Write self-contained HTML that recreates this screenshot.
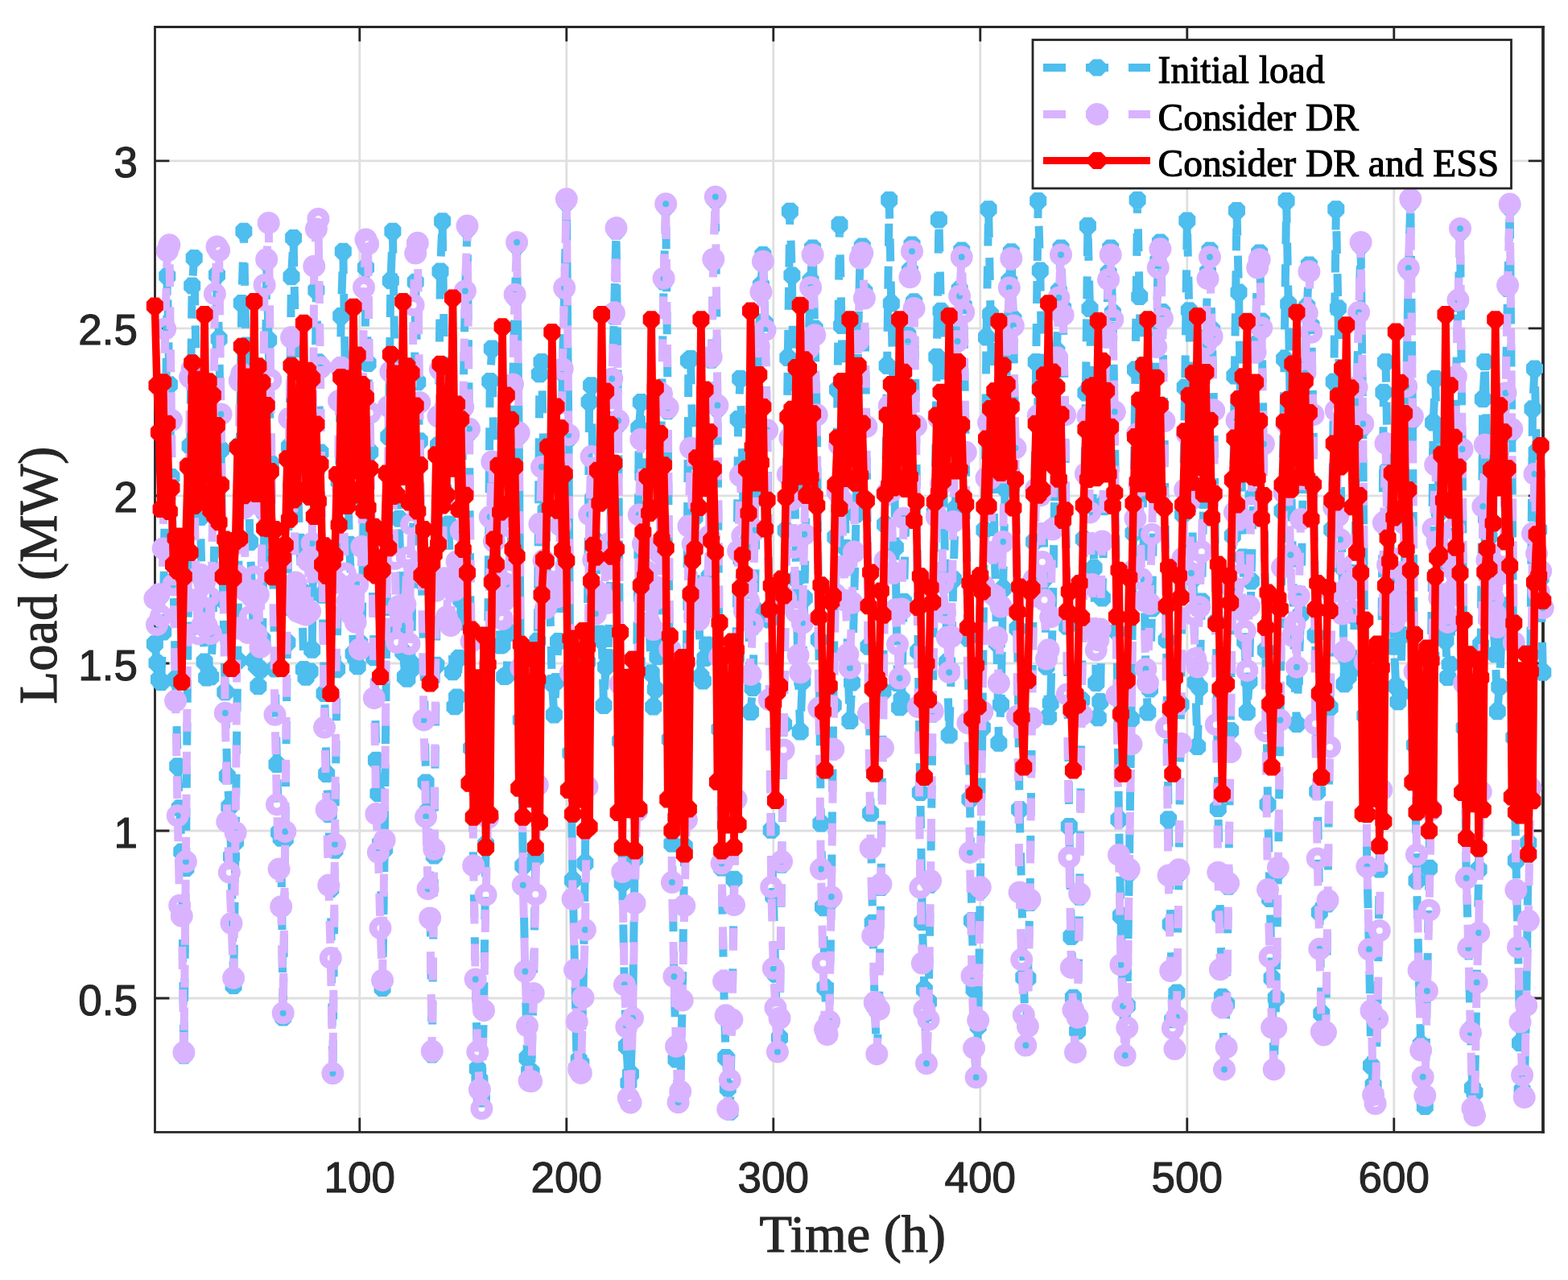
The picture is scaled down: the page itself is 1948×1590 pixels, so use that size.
<!DOCTYPE html>
<html><head><meta charset="utf-8"><title>Load profile</title>
<style>html,body{margin:0;padding:0;background:#fff;overflow:hidden}svg{display:block}</style>
</head><body>
<svg width="1948" height="1590" viewBox="0 0 1948 1590">
<rect x="0" y="0" width="1948" height="1590" fill="#fff"/>
<path d="M446.8 33.5V1406.4M703.8 33.5V1406.4M960.8 33.5V1406.4M1217.8 33.5V1406.4M1474.8 33.5V1406.4M1731.8 33.5V1406.4M192.4 1240H1916.8M192.4 1032H1916.8M192.4 824H1916.8M192.4 615.9H1916.8M192.4 407.9H1916.8M192.4 199.9H1916.8" stroke="#DFDFDF" stroke-width="2.8" fill="none"/>
<path d="M446.8 1406.4v-18M446.8 33.5v18M703.8 1406.4v-18M703.8 33.5v18M960.8 1406.4v-18M960.8 33.5v18M1217.8 1406.4v-18M1217.8 33.5v18M1474.8 1406.4v-18M1474.8 33.5v18M1731.8 1406.4v-18M1731.8 33.5v18M192.4 1240h18M1916.8 1240h-18M192.4 1032h18M1916.8 1032h-18M192.4 824h18M1916.8 824h-18M192.4 615.9h18M1916.8 615.9h-18M192.4 407.9h18M1916.8 407.9h-18M192.4 199.9h18M1916.8 199.9h-18" stroke="#262626" stroke-width="2.8" fill="none"/>
<path d="M191.1 33.5H1918.9M191.1 1406.4H1918.9M192.5 32.1V1407.8" stroke="#262626" stroke-width="2.8" fill="none"/>
<path d="M1917 32.1V1407.8" stroke="#262626" stroke-width="3.8" fill="none"/>
<polyline points="192.4,799.7 195,823.5 197.5,844.1 200.1,847.6 202.7,785.1 205.2,587.9 207.8,343 210.4,477.8 213,592.4 215.5,722.1 218.1,843.6 220.7,951.8 223.2,1003.7 225.8,1058.1 228.4,1311.3 230.9,1078.6 233.5,783 236.1,554.1 238.7,354.9 241.2,320.6 243.8,462.8 246.4,598.4 248.9,642.5 251.5,764 254.1,821.9 256.6,842 259.2,836.4 261.8,840.7 264.4,785.5 266.9,632.8 269.5,341.4 272.1,421 274.6,558.5 277.2,744.8 279.8,859.7 282.3,964 284.9,1002.2 287.5,1064.1 290.1,1224.6 292.6,1045.4 295.2,820.8 297.8,553.3 300.3,376.6 302.9,287.3 305.5,429 308,578.3 310.6,673.4 313.2,734.1 315.8,820.4 318.3,827.1 320.9,852.4 323.5,832 326,794 328.6,636.9 331.2,325.8 333.7,422.6 336.3,575.4 338.9,690.9 341.5,831 344,949.4 346.6,1034.1 349.2,1041.2 351.7,1264 354.3,1042 356.9,798.3 359.4,555 362,343.7 364.6,295.6 367.2,433.8 369.7,590.5 372.3,673.3 374.9,734.1 377.4,831.6 380,841.3 382.6,835.4 385.1,834 387.7,807.2 390.3,593.8 392.9,360.4 395.4,449.7 398,562 400.6,739.2 403.1,861.4 405.7,961.6 408.3,1011.4 410.8,1104.2 413.4,1335.8 416,1056.2 418.6,831.2 421.1,598.3 423.7,392.5 426.3,312.2 428.8,455.7 431.4,559.8 434,676.3 436.5,728.3 439.1,812.1 441.7,817.3 444.2,827.8 446.8,798.8 449.4,805.9 452,623.1 454.5,332.4 457.1,451.6 459.7,561.4 462.2,707.3 464.8,816.8 467.4,944.3 469.9,985.8 472.5,1047.4 475.1,1227.5 477.7,1054.8 480.2,785.7 482.8,542.6 485.4,348.8 487.9,287.3 490.5,448.3 493.1,575.6 495.6,644.2 498.2,720.7 500.8,810.1 503.4,841 505.9,843.3 508.5,821.9 511.1,830.7 513.6,621.7 516.2,350.2 518.8,474.8 521.3,547.7 523.9,721.5 526.5,826.4 529.1,971.9 531.6,1007.2 534.2,1097.2 536.8,1310 539.3,1063.1 541.9,826.2 544.5,553.1 547,337 549.6,274.8 552.2,459.2 554.8,545.7 557.3,651 559.9,726.7 562.5,834.7 565,877.8 567.6,866.1 570.2,817.2 572.7,745.3 575.3,509.6 577.9,365.6 580.5,284.8 583,537 585.6,929.6 588.2,1073.4 590.7,1216.5 593.3,1327.5 595.9,1341.3 598.4,1365 601,1255.4 603.6,1048.7 606.2,799.7 608.7,473.6 611.3,432.9 613.9,592.3 616.4,669.9 619,726.8 621.6,801.9 624.1,801.1 626.7,840.4 629.3,839 631.9,785.4 634.4,726.5 637,481.7 639.6,369.9 642.1,305.2 644.7,541.7 647.3,894.2 649.8,1075.4 652.4,1206.8 655,1314.3 657.6,1330.6 660.1,1331.4 662.7,1234.3 665.3,1065.3 667.8,796 670.4,464.7 673,449.5 675.5,581.6 678.1,633.9 680.7,740.3 683.3,753.5 685.8,848.6 688.4,887.9 691,846.4 693.5,796.7 696.1,745.4 698.7,462.4 701.2,361.6 703.8,251.5 706.4,544.4 708.9,935.5 711.5,1093.6 714.1,1204.8 716.7,1326.7 719.2,1316.2 721.8,1320.8 724.4,1239.4 726.9,1072.2 729.5,822.2 732.1,499.2 734.6,478.7 737.2,618.6 739.8,671.8 742.4,743.3 744.9,787 747.5,795 750.1,876.6 752.6,828.2 755.2,816.5 757.8,735.4 760.3,474.6 762.9,393 765.5,287.3 768.1,526.7 770.6,920.5 773.2,1096.7 775.8,1223.3 778.3,1299.4 780.9,1345.2 783.5,1333.9 786,1264.8 788.6,1066.4 791.2,822.1 793.8,531.8 796.3,499.5 798.9,591.2 801.5,683.9 804,718.9 806.6,778.6 809.2,835.7 811.7,878.1 814.3,856.2 816.9,815.8 819.5,727.6 822,493.8 824.6,349.9 827.2,257.3 829.7,510.4 832.3,918.5 834.9,1048.3 837.4,1213 840,1316 842.6,1367.4 845.2,1357 847.7,1241.9 850.3,1051.4 852.9,823.6 855.4,447.7 858,445.4 860.6,555 863.1,642.2 865.7,764.9 868.3,768 870.9,840.2 873.4,846 876,817.5 878.6,801 881.1,716.6 883.7,447.3 886.3,326.2 888.8,248.6 891.4,507.7 894,905.8 896.6,1078.1 899.1,1219 901.7,1313.4 904.3,1352.1 906.8,1381.3 909.4,1266.2 912,1092.2 914.5,816.5 917.1,520.4 919.7,470.3 922.3,581.8 924.8,678.1 927.4,725.8 930,763.9 932.5,884.6 935.1,854.5 937.7,757 940.2,598.4 942.8,422 945.4,354.3 947.9,316.4 950.5,401.8 953.1,534.3 955.7,769.9 958.2,1031.2 960.8,1113.5 963.4,1210.3 965.9,1306.8 968.5,1288.9 971.1,1074.2 973.6,899.8 976.2,658.7 978.8,444.5 981.4,262.3 983.9,342.1 986.5,549.7 989.1,719.1 991.6,835 994.2,909.1 996.8,846.3 999.3,743 1001.9,607 1004.5,424.4 1007.1,348.6 1009.6,308.1 1012.2,408 1014.8,515.3 1017.3,794.6 1019.9,1022.9 1022.5,1126.5 1025,1226.7 1027.6,1285.2 1030.2,1270.8 1032.8,1118.1 1035.3,876 1037.9,667.2 1040.5,484.1 1043,279 1045.6,404.5 1048.2,540.1 1050.7,680.4 1053.3,829.1 1055.9,895.5 1058.5,847.9 1061,750.6 1063.6,638.9 1066.2,415.1 1068.7,312.4 1071.3,306 1073.9,362.2 1076.4,529.9 1079,803.2 1081.6,1010.2 1084.2,1146.3 1086.7,1250.3 1089.3,1311 1091.9,1256.1 1094.4,1102.5 1097,858.8 1099.6,651.6 1102.1,454.2 1104.7,248.2 1107.3,377 1109.9,502.8 1112.4,679.9 1115,848.6 1117.6,878.8 1120.1,868.4 1122.7,747.6 1125.3,644.1 1127.8,415.9 1130.4,335.9 1133,303.9 1135.6,374.8 1138.1,528.8 1140.7,809.3 1143.3,984.4 1145.8,1145.4 1148.4,1229.3 1151,1320.2 1153.5,1244.4 1156.1,1098.2 1158.7,884.8 1161.3,636.6 1163.8,443.3 1166.4,273.1 1169,386.3 1171.5,559.8 1174.1,705.2 1176.7,822.4 1179.2,913.2 1181.8,833.3 1184.4,719.4 1186.9,632.1 1189.5,415.6 1192.1,359.4 1194.7,311 1197.2,379.7 1199.8,561.8 1202.4,792.6 1204.9,992.8 1207.5,1143.4 1210.1,1229.1 1212.6,1335.5 1215.2,1274.7 1217.8,1106.3 1220.4,904.1 1222.9,658.5 1225.5,419.1 1228.1,259.8 1230.6,390.5 1233.2,542.4 1235.8,686.7 1238.3,798.5 1240.9,923.3 1243.5,874.9 1246.1,731.2 1248.6,606.5 1251.2,415.5 1253.8,349.2 1256.3,312.7 1258.9,396.3 1261.5,556.6 1264,780.7 1266.6,1005.4 1269.2,1107.1 1271.8,1213.9 1274.3,1301.1 1276.9,1215.2 1279.5,1121.5 1282,893.1 1284.6,673.1 1287.2,449.5 1289.7,249.4 1292.3,335.9 1294.9,500.2 1297.5,718.7 1300,827.4 1302.6,890.2 1305.2,873.5 1307.7,767.8 1310.3,611.7 1312.9,435.9 1315.4,361.4 1318,308.1 1320.6,382.8 1323.2,515.3 1325.7,778.3 1328.3,1026.4 1330.9,1163.4 1333.4,1239.3 1336,1307 1338.6,1280.7 1341.1,1114.2 1343.7,869.7 1346.3,669.8 1348.9,487.9 1351.4,280.6 1354,383.6 1356.6,556.6 1359.1,705.4 1361.7,848.6 1364.3,891.8 1366.8,871.6 1369.4,743 1372,625.4 1374.6,410.8 1377.1,338.9 1379.7,308.1 1382.3,388.6 1384.8,511.5 1387.4,784.5 1390,1018.1 1392.5,1137.6 1395.1,1252.3 1397.7,1312.7 1400.3,1249.3 1402.8,1083.9 1405.4,893.2 1408,662.1 1410.5,459 1413.1,248.2 1415.7,368.5 1418.2,500.5 1420.8,686.1 1423.4,834.3 1425.9,884.9 1428.5,856.1 1431.1,756 1433.7,610.4 1436.2,422.7 1438.8,324 1441.4,301 1443.9,387.4 1446.5,523.1 1449.1,795.1 1451.6,1017.8 1454.2,1148.1 1456.8,1266.7 1459.4,1303.1 1461.9,1233.1 1464.5,1084.4 1467.1,875.3 1469.6,638.9 1472.2,480.9 1474.8,274 1477.3,385.7 1479.9,558.2 1482.5,718.6 1485.1,847.7 1487.6,927.5 1490.2,854.1 1492.8,747.1 1495.3,621.5 1497.9,419.7 1500.5,337.8 1503,311 1505.6,409.7 1508.2,509.9 1510.8,772.6 1513.3,1004.5 1515.9,1137.2 1518.5,1238.2 1521,1327.1 1523.6,1247.2 1526.2,1101.3 1528.7,907.6 1531.3,665.5 1533.9,466.9 1536.5,261.5 1539,363.1 1541.6,532.7 1544.2,691.9 1546.7,796.7 1549.3,884.7 1551.9,845.9 1554.4,721.9 1557,616.5 1559.6,429.3 1562.2,324.3 1564.7,313.9 1567.3,399 1569.9,551.5 1572.4,807.8 1575,999.2 1577.6,1116.4 1580.1,1214.9 1582.7,1329.2 1585.3,1239.8 1587.9,1081.8 1590.4,896.4 1593,634.5 1595.6,445.9 1598.1,249.4 1600.7,377.8 1603.3,542.2 1605.8,694.2 1608.4,845.3 1611,899.5 1613.6,828.8 1616.1,763 1618.7,602.5 1621.3,455.3 1623.8,380.5 1626.4,328.9 1629,404.4 1631.5,515.2 1634.1,788.7 1636.7,983.2 1639.3,1133.3 1641.8,1258.9 1644.4,1285.5 1647,1282.9 1649.5,1122.4 1652.1,879.1 1654.7,658 1657.2,474.1 1659.8,259.8 1662.4,382.8 1665,548.9 1667.5,704.1 1670.1,849.7 1672.7,816.8 1675.2,840.2 1677.8,825.3 1680.4,830.7 1682.9,765.5 1685.5,485.2 1688.1,392.2 1690.6,305.2 1693.2,530.6 1695.8,889.1 1698.4,1079.4 1700.9,1179.3 1703.5,1323.8 1706.1,1347.8 1708.6,1358.9 1711.2,1265.9 1713.8,1080.1 1716.3,805.9 1718.9,487.2 1721.5,449.5 1724.1,584 1726.6,643.4 1729.2,730.3 1731.8,803.2 1734.3,852.5 1736.9,871.8 1739.5,862 1742,788.4 1744.6,744.8 1747.2,484.4 1749.8,337.2 1752.3,251.5 1754.9,521.4 1757.5,925.6 1760,1094.1 1762.6,1205.5 1765.2,1297.5 1767.7,1338.4 1770.3,1374.4 1772.9,1230.8 1775.5,1078.3 1778,815.5 1780.6,524.9 1783.2,470.3 1785.7,562.2 1788.3,636.6 1790.9,751.6 1793.4,788.1 1796,795.4 1798.6,841.6 1801.2,825.6 1803.7,774.4 1806.3,728.4 1808.9,472 1811.4,377 1814,288.1 1816.6,562 1819.1,904 1821.7,1088.6 1824.3,1177.7 1826.9,1278.8 1829.4,1351.8 1832,1357.1 1834.6,1220.5 1837.1,1080.1 1839.7,800.6 1842.3,495.7 1844.8,449.5 1847.4,564.5 1850,666.9 1852.6,733.2 1855.1,771 1857.7,812.7 1860.3,883.8 1862.8,853.1 1865.4,792 1868,751.8 1870.5,492.4 1873.1,358.6 1875.7,257.7 1878.3,537.2 1880.8,916.1 1883.4,1069 1886,1176.7 1888.5,1295.8 1891.1,1354.3 1893.7,1358.6 1896.2,1248.4 1898.8,1047.1 1901.4,812.9 1904,507.7 1906.5,457.9 1909.1,560.9 1911.7,658 1914.2,717.7 1916.8,835.2" fill="none" stroke="#4DBEEE" stroke-width="10" stroke-dasharray="28 25" stroke-linejoin="round"/>
<path d="M197.4 789.2L202.9 794.7L202.9 804.7L197.4 810.2L187.4 810.2L181.9 804.7L181.9 794.7L187.4 789.2ZM200 813L205.5 818.5L205.5 828.5L200 834L190 834L184.5 828.5L184.5 818.5L190 813ZM202.5 833.6L208 839.1L208 849.1L202.5 854.6L192.5 854.6L187 849.1L187 839.1L192.5 833.6ZM205.1 837.1L210.6 842.6L210.6 852.6L205.1 858.1L195.1 858.1L189.6 852.6L189.6 842.6L195.1 837.1ZM207.7 774.6L213.2 780.1L213.2 790.1L207.7 795.6L197.7 795.6L192.2 790.1L192.2 780.1L197.7 774.6ZM210.2 577.4L215.7 582.9L215.7 592.9L210.2 598.4L200.3 598.4L194.7 592.9L194.7 582.9L200.3 577.4ZM212.8 332.5L218.3 338L218.3 348L212.8 353.5L202.8 353.5L197.3 348L197.3 338L202.8 332.5ZM215.4 467.3L220.9 472.8L220.9 482.8L215.4 488.3L205.4 488.3L199.9 482.8L199.9 472.8L205.4 467.3ZM218 581.9L223.5 587.4L223.5 597.4L218 602.9L208 602.9L202.5 597.4L202.5 587.4L208 581.9ZM220.5 711.6L226 717.1L226 727L220.5 732.6L210.5 732.6L205 727L205 717.1L210.5 711.6ZM223.1 833.1L228.6 838.6L228.6 848.6L223.1 854.1L213.1 854.1L207.6 848.6L207.6 838.6L213.1 833.1ZM225.7 941.3L231.2 946.8L231.2 956.8L225.7 962.3L215.7 962.3L210.2 956.8L210.2 946.8L215.7 941.3ZM228.2 993.2L233.7 998.7L233.7 1008.7L228.2 1014.2L218.2 1014.2L212.7 1008.7L212.7 998.7L218.2 993.2ZM230.8 1047.6L236.3 1053.1L236.3 1063.1L230.8 1068.6L220.8 1068.6L215.3 1063.1L215.3 1053.1L220.8 1047.6ZM233.4 1300.8L238.9 1306.3L238.9 1316.3L233.4 1321.8L223.4 1321.8L217.9 1316.3L217.9 1306.3L223.4 1300.8ZM235.9 1068.1L241.4 1073.6L241.4 1083.6L235.9 1089.1L226 1089.1L220.4 1083.6L220.4 1073.6L226 1068.1ZM238.5 772.5L244 778L244 788L238.5 793.5L228.5 793.5L223 788L223 778L228.5 772.5ZM241.1 543.6L246.6 549.1L246.6 559.1L241.1 564.6L231.1 564.6L225.6 559.1L225.6 549.1L231.1 543.6ZM243.7 344.4L249.2 349.9L249.2 359.9L243.7 365.4L233.7 365.4L228.2 359.9L228.2 349.9L233.7 344.4ZM246.2 310.1L251.7 315.6L251.7 325.6L246.2 331.1L236.2 331.1L230.7 325.6L230.7 315.6L236.2 310.1ZM248.8 452.3L254.3 457.8L254.3 467.8L248.8 473.3L238.8 473.3L233.3 467.8L233.3 457.8L238.8 452.3ZM251.4 587.9L256.9 593.4L256.9 603.4L251.4 608.9L241.4 608.9L235.9 603.4L235.9 593.4L241.4 587.9ZM253.9 632L259.4 637.5L259.4 647.5L253.9 653L243.9 653L238.4 647.5L238.4 637.5L243.9 632ZM256.5 753.5L262 759L262 769L256.5 774.5L246.5 774.5L241 769L241 759L246.5 753.5ZM259.1 811.4L264.6 816.9L264.6 826.9L259.1 832.4L249.1 832.4L243.6 826.9L243.6 816.9L249.1 811.4ZM261.6 831.5L267.1 837L267.1 847L261.6 852.5L251.6 852.5L246.1 847L246.1 837L251.6 831.5ZM264.2 825.9L269.7 831.4L269.7 841.4L264.2 846.9L254.2 846.9L248.7 841.4L248.7 831.4L254.2 825.9ZM266.8 830.2L272.3 835.7L272.3 845.7L266.8 851.2L256.8 851.2L251.3 845.7L251.3 835.7L256.8 830.2ZM269.4 775L274.9 780.5L274.9 790.5L269.4 796L259.4 796L253.9 790.5L253.9 780.5L259.4 775ZM271.9 622.3L277.4 627.8L277.4 637.8L271.9 643.3L261.9 643.3L256.4 637.8L256.4 627.8L261.9 622.3ZM274.5 330.9L280 336.4L280 346.4L274.5 351.9L264.5 351.9L259 346.4L259 336.4L264.5 330.9ZM277.1 410.5L282.6 416L282.6 426L277.1 431.5L267.1 431.5L261.6 426L261.6 416L267.1 410.5ZM279.6 548L285.1 553.5L285.1 563.5L279.6 569L269.6 569L264.1 563.5L264.1 553.5L269.6 548ZM282.2 734.3L287.7 739.8L287.7 749.8L282.2 755.3L272.2 755.3L266.7 749.8L266.7 739.8L272.2 734.3ZM284.8 849.2L290.3 854.7L290.3 864.7L284.8 870.2L274.8 870.2L269.3 864.7L269.3 854.7L274.8 849.2ZM287.3 953.5L292.8 959L292.8 969L287.3 974.5L277.3 974.5L271.8 969L271.8 959L277.3 953.5ZM289.9 991.7L295.4 997.2L295.4 1007.2L289.9 1012.7L279.9 1012.7L274.4 1007.2L274.4 997.2L279.9 991.7ZM292.5 1053.6L298 1059.1L298 1069.1L292.5 1074.6L282.5 1074.6L277 1069.1L277 1059.1L282.5 1053.6ZM295.1 1214.1L300.6 1219.6L300.6 1229.6L295.1 1235.1L285.1 1235.1L279.6 1229.6L279.6 1219.6L285.1 1214.1ZM297.6 1034.9L303.1 1040.4L303.1 1050.4L297.6 1055.9L287.6 1055.9L282.1 1050.4L282.1 1040.4L287.6 1034.9ZM300.2 810.3L305.7 815.8L305.7 825.8L300.2 831.3L290.2 831.3L284.7 825.8L284.7 815.8L290.2 810.3ZM302.8 542.8L308.3 548.3L308.3 558.3L302.8 563.8L292.8 563.8L287.3 558.3L287.3 548.3L292.8 542.8ZM305.3 366.1L310.8 371.6L310.8 381.6L305.3 387.1L295.3 387.1L289.8 381.6L289.8 371.6L295.3 366.1ZM307.9 276.8L313.4 282.3L313.4 292.3L307.9 297.8L297.9 297.8L292.4 292.3L292.4 282.3L297.9 276.8ZM310.5 418.5L316 424L316 434L310.5 439.5L300.5 439.5L295 434L295 424L300.5 418.5ZM313 567.8L318.5 573.3L318.5 583.2L313 588.8L303 588.8L297.5 583.2L297.5 573.3L303 567.8ZM315.6 662.9L321.1 668.4L321.1 678.4L315.6 683.9L305.6 683.9L300.1 678.4L300.1 668.4L305.6 662.9ZM318.2 723.6L323.7 729.1L323.7 739.1L318.2 744.6L308.2 744.6L302.7 739.1L302.7 729.1L308.2 723.6ZM320.8 809.9L326.3 815.4L326.3 825.4L320.8 830.9L310.8 830.9L305.3 825.4L305.3 815.4L310.8 809.9ZM323.3 816.6L328.8 822.1L328.8 832.1L323.3 837.6L313.3 837.6L307.8 832.1L307.8 822.1L313.3 816.6ZM325.9 841.9L331.4 847.4L331.4 857.4L325.9 862.9L315.9 862.9L310.4 857.4L310.4 847.4L315.9 841.9ZM328.5 821.5L334 827L334 837L328.5 842.5L318.5 842.5L313 837L313 827L318.5 821.5ZM331 783.5L336.5 789L336.5 799L331 804.5L321 804.5L315.5 799L315.5 789L321 783.5ZM333.6 626.4L339.1 631.9L339.1 641.9L333.6 647.4L323.6 647.4L318.1 641.9L318.1 631.9L323.6 626.4ZM336.2 315.3L341.7 320.8L341.7 330.8L336.2 336.3L326.2 336.3L320.7 330.8L320.7 320.8L326.2 315.3ZM338.7 412.1L344.2 417.6L344.2 427.6L338.7 433.1L328.7 433.1L323.2 427.6L323.2 417.6L328.7 412.1ZM341.3 564.9L346.8 570.4L346.8 580.4L341.3 585.9L331.3 585.9L325.8 580.4L325.8 570.4L331.3 564.9ZM343.9 680.4L349.4 685.9L349.4 695.9L343.9 701.4L333.9 701.4L328.4 695.9L328.4 685.9L333.9 680.4ZM346.5 820.5L352 826L352 836L346.5 841.5L336.5 841.5L331 836L331 826L336.5 820.5ZM349 938.9L354.5 944.4L354.5 954.4L349 959.9L339 959.9L333.5 954.4L333.5 944.4L339 938.9ZM351.6 1023.6L357.1 1029.1L357.1 1039L351.6 1044.6L341.6 1044.6L336.1 1039L336.1 1029.1L341.6 1023.6ZM354.2 1030.7L359.7 1036.3L359.7 1046.2L354.2 1051.7L344.2 1051.7L338.7 1046.2L338.7 1036.3L344.2 1030.7ZM356.7 1253.5L362.2 1259L362.2 1269L356.7 1274.5L346.7 1274.5L341.2 1269L341.2 1259L346.7 1253.5ZM359.3 1031.5L364.8 1037L364.8 1047L359.3 1052.5L349.3 1052.5L343.8 1047L343.8 1037L349.3 1031.5ZM361.9 787.8L367.4 793.3L367.4 803.3L361.9 808.8L351.9 808.8L346.4 803.3L346.4 793.3L351.9 787.8ZM364.4 544.5L369.9 550L369.9 560L364.4 565.5L354.4 565.5L348.9 560L348.9 550L354.4 544.5ZM367 333.2L372.5 338.7L372.5 348.7L367 354.2L357 354.2L351.5 348.7L351.5 338.7L357 333.2ZM369.6 285.1L375.1 290.6L375.1 300.6L369.6 306.1L359.6 306.1L354.1 300.6L354.1 290.6L359.6 285.1ZM372.2 423.3L377.7 428.8L377.7 438.8L372.2 444.3L362.2 444.3L356.7 438.8L356.7 428.8L362.2 423.3ZM374.7 580L380.2 585.5L380.2 595.5L374.7 601L364.7 601L359.2 595.5L359.2 585.5L364.7 580ZM377.3 662.8L382.8 668.3L382.8 678.3L377.3 683.8L367.3 683.8L361.8 678.3L361.8 668.3L367.3 662.8ZM379.9 723.6L385.4 729.1L385.4 739.1L379.9 744.6L369.9 744.6L364.4 739.1L364.4 729.1L369.9 723.6ZM382.4 821.1L387.9 826.6L387.9 836.6L382.4 842.1L372.4 842.1L366.9 836.6L366.9 826.6L372.4 821.1ZM385 830.8L390.5 836.3L390.5 846.3L385 851.8L375 851.8L369.5 846.3L369.5 836.3L375 830.8ZM387.6 824.9L393.1 830.4L393.1 840.4L387.6 845.9L377.6 845.9L372.1 840.4L372.1 830.4L377.6 824.9ZM390.1 823.5L395.6 829L395.6 839L390.1 844.5L380.1 844.5L374.6 839L374.6 829L380.1 823.5ZM392.7 796.7L398.2 802.2L398.2 812.2L392.7 817.7L382.7 817.7L377.2 812.2L377.2 802.2L382.7 796.7ZM395.3 583.3L400.8 588.8L400.8 598.8L395.3 604.3L385.3 604.3L379.8 598.8L379.8 588.8L385.3 583.3ZM397.8 349.9L403.4 355.4L403.4 365.4L397.8 370.9L387.9 370.9L382.4 365.4L382.4 355.4L387.9 349.9ZM400.4 439.2L405.9 444.7L405.9 454.7L400.4 460.2L390.4 460.2L384.9 454.7L384.9 444.7L390.4 439.2ZM403 551.5L408.5 557L408.5 567L403 572.5L393 572.5L387.5 567L387.5 557L393 551.5ZM405.6 728.7L411.1 734.2L411.1 744.2L405.6 749.7L395.6 749.7L390.1 744.2L390.1 734.2L395.6 728.7ZM408.1 850.9L413.6 856.4L413.6 866.4L408.1 871.9L398.1 871.9L392.6 866.4L392.6 856.4L398.1 850.9ZM410.7 951.1L416.2 956.6L416.2 966.6L410.7 972.1L400.7 972.1L395.2 966.6L395.2 956.6L400.7 951.1ZM413.3 1000.9L418.8 1006.4L418.8 1016.4L413.3 1021.9L403.3 1021.9L397.8 1016.4L397.8 1006.4L403.3 1000.9ZM415.8 1093.7L421.3 1099.2L421.3 1109.2L415.8 1114.7L405.8 1114.7L400.3 1109.2L400.3 1099.2L405.8 1093.7ZM418.4 1325.3L423.9 1330.8L423.9 1340.8L418.4 1346.3L408.4 1346.3L402.9 1340.8L402.9 1330.8L408.4 1325.3ZM421 1045.7L426.5 1051.2L426.5 1061.1L421 1066.7L411 1066.7L405.5 1061.1L405.5 1051.2L411 1045.7ZM423.5 820.7L429.1 826.2L429.1 836.2L423.5 841.7L413.6 841.7L408.1 836.2L408.1 826.2L413.6 820.7ZM426.1 587.8L431.6 593.3L431.6 603.3L426.1 608.8L416.1 608.8L410.6 603.3L410.6 593.3L416.1 587.8ZM428.7 382L434.2 387.5L434.2 397.4L428.7 403L418.7 403L413.2 397.4L413.2 387.5L418.7 382ZM431.3 301.7L436.8 307.2L436.8 317.2L431.3 322.7L421.3 322.7L415.8 317.2L415.8 307.2L421.3 301.7ZM433.8 445.2L439.3 450.7L439.3 460.7L433.8 466.2L423.8 466.2L418.3 460.7L418.3 450.7L423.8 445.2ZM436.4 549.3L441.9 554.8L441.9 564.8L436.4 570.3L426.4 570.3L420.9 564.8L420.9 554.8L426.4 549.3ZM439 665.8L444.5 671.3L444.5 681.3L439 686.8L429 686.8L423.5 681.3L423.5 671.3L429 665.8ZM441.5 717.8L447 723.3L447 733.3L441.5 738.8L431.5 738.8L426 733.3L426 723.3L431.5 717.8ZM444.1 801.6L449.6 807.1L449.6 817.1L444.1 822.6L434.1 822.6L428.6 817.1L428.6 807.1L434.1 801.6ZM446.7 806.8L452.2 812.3L452.2 822.3L446.7 827.8L436.7 827.8L431.2 822.3L431.2 812.3L436.7 806.8ZM449.2 817.3L454.7 822.8L454.7 832.8L449.2 838.3L439.3 838.3L433.7 832.8L433.7 822.8L439.3 817.3ZM451.8 788.3L457.3 793.8L457.3 803.8L451.8 809.3L441.8 809.3L436.3 803.8L436.3 793.8L441.8 788.3ZM454.4 795.4L459.9 800.9L459.9 810.9L454.4 816.4L444.4 816.4L438.9 810.9L438.9 800.9L444.4 795.4ZM457 612.6L462.5 618.1L462.5 628.1L457 633.6L447 633.6L441.5 628.1L441.5 618.1L447 612.6ZM459.5 321.9L465 327.4L465 337.4L459.5 342.9L449.5 342.9L444 337.4L444 327.4L449.5 321.9ZM462.1 441.1L467.6 446.6L467.6 456.6L462.1 462.1L452.1 462.1L446.6 456.6L446.6 446.6L452.1 441.1ZM464.7 550.9L470.2 556.4L470.2 566.4L464.7 571.9L454.7 571.9L449.2 566.4L449.2 556.4L454.7 550.9ZM467.2 696.8L472.7 702.3L472.7 712.3L467.2 717.8L457.2 717.8L451.7 712.3L451.7 702.3L457.2 696.8ZM469.8 806.3L475.3 811.8L475.3 821.8L469.8 827.3L459.8 827.3L454.3 821.8L454.3 811.8L459.8 806.3ZM472.4 933.8L477.9 939.3L477.9 949.3L472.4 954.8L462.4 954.8L456.9 949.3L456.9 939.3L462.4 933.8ZM474.9 975.3L480.4 980.8L480.4 990.8L474.9 996.3L465 996.3L459.4 990.8L459.4 980.8L465 975.3ZM477.5 1036.9L483 1042.4L483 1052.4L477.5 1057.9L467.5 1057.9L462 1052.4L462 1042.4L467.5 1036.9ZM480.1 1217L485.6 1222.5L485.6 1232.5L480.1 1238L470.1 1238L464.6 1232.5L464.6 1222.5L470.1 1217ZM482.7 1044.3L488.2 1049.8L488.2 1059.8L482.7 1065.3L472.7 1065.3L467.2 1059.8L467.2 1049.8L472.7 1044.3ZM485.2 775.2L490.7 780.7L490.7 790.7L485.2 796.2L475.2 796.2L469.7 790.7L469.7 780.7L475.2 775.2ZM487.8 532.1L493.3 537.6L493.3 547.6L487.8 553.1L477.8 553.1L472.3 547.6L472.3 537.6L477.8 532.1ZM490.4 338.3L495.9 343.8L495.9 353.8L490.4 359.3L480.4 359.3L474.9 353.8L474.9 343.8L480.4 338.3ZM492.9 276.8L498.4 282.3L498.4 292.3L492.9 297.8L482.9 297.8L477.4 292.3L477.4 282.3L482.9 276.8ZM495.5 437.8L501 443.3L501 453.3L495.5 458.8L485.5 458.8L480 453.3L480 443.3L485.5 437.8ZM498.1 565.1L503.6 570.6L503.6 580.6L498.1 586.1L488.1 586.1L482.6 580.6L482.6 570.6L488.1 565.1ZM500.6 633.7L506.1 639.2L506.1 649.2L500.6 654.7L490.6 654.7L485.1 649.2L485.1 639.2L490.6 633.7ZM503.2 710.2L508.7 715.7L508.7 725.7L503.2 731.2L493.2 731.2L487.7 725.7L487.7 715.7L493.2 710.2ZM505.8 799.6L511.3 805.1L511.3 815.1L505.8 820.6L495.8 820.6L490.3 815.1L490.3 805.1L495.8 799.6ZM508.4 830.5L513.9 836L513.9 845.9L508.4 851.5L498.4 851.5L492.9 845.9L492.9 836L498.4 830.5ZM510.9 832.8L516.4 838.4L516.4 848.3L510.9 853.8L500.9 853.8L495.4 848.3L495.4 838.4L500.9 832.8ZM513.5 811.4L519 816.9L519 826.9L513.5 832.4L503.5 832.4L498 826.9L498 816.9L503.5 811.4ZM516.1 820.2L521.6 825.7L521.6 835.7L516.1 841.2L506.1 841.2L500.6 835.7L500.6 825.7L506.1 820.2ZM518.6 611.2L524.1 616.7L524.1 626.7L518.6 632.2L508.6 632.2L503.1 626.7L503.1 616.7L508.6 611.2ZM521.2 339.7L526.7 345.2L526.7 355.2L521.2 360.7L511.2 360.7L505.7 355.2L505.7 345.2L511.2 339.7ZM523.8 464.3L529.3 469.8L529.3 479.8L523.8 485.3L513.8 485.3L508.3 479.8L508.3 469.8L513.8 464.3ZM526.3 537.2L531.8 542.7L531.8 552.7L526.3 558.2L516.3 558.2L510.8 552.7L510.8 542.7L516.3 537.2ZM528.9 711L534.4 716.5L534.4 726.5L528.9 732L518.9 732L513.4 726.5L513.4 716.5L518.9 711ZM531.5 815.9L537 821.4L537 831.4L531.5 836.9L521.5 836.9L516 831.4L516 821.4L521.5 815.9ZM534.1 961.4L539.6 966.9L539.6 976.9L534.1 982.4L524.1 982.4L518.6 976.9L518.6 966.9L524.1 961.4ZM536.6 996.7L542.1 1002.2L542.1 1012.2L536.6 1017.7L526.6 1017.7L521.1 1012.2L521.1 1002.2L526.6 996.7ZM539.2 1086.7L544.7 1092.2L544.7 1102.2L539.2 1107.7L529.2 1107.7L523.7 1102.2L523.7 1092.2L529.2 1086.7ZM541.8 1299.5L547.3 1305L547.3 1315L541.8 1320.5L531.8 1320.5L526.3 1315L526.3 1305L531.8 1299.5ZM544.3 1052.6L549.8 1058.1L549.8 1068.1L544.3 1073.6L534.3 1073.6L528.8 1068.1L528.8 1058.1L534.3 1052.6ZM546.9 815.7L552.4 821.2L552.4 831.2L546.9 836.7L536.9 836.7L531.4 831.2L531.4 821.2L536.9 815.7ZM549.5 542.6L555 548.1L555 558.1L549.5 563.6L539.5 563.6L534 558.1L534 548.1L539.5 542.6ZM552 326.5L557.5 332L557.5 342L552 347.5L542 347.5L536.5 342L536.5 332L542 326.5ZM554.6 264.3L560.1 269.8L560.1 279.8L554.6 285.3L544.6 285.3L539.1 279.8L539.1 269.8L544.6 264.3ZM557.2 448.7L562.7 454.2L562.7 464.2L557.2 469.7L547.2 469.7L541.7 464.2L541.7 454.2L547.2 448.7ZM559.8 535.2L565.3 540.7L565.3 550.7L559.8 556.2L549.8 556.2L544.3 550.7L544.3 540.7L549.8 535.2ZM562.3 640.5L567.8 646L567.8 656L562.3 661.5L552.3 661.5L546.8 656L546.8 646L552.3 640.5ZM564.9 716.2L570.4 721.7L570.4 731.7L564.9 737.2L554.9 737.2L549.4 731.7L549.4 721.7L554.9 716.2ZM567.5 824.2L573 829.7L573 839.7L567.5 845.2L557.5 845.2L552 839.7L552 829.7L557.5 824.2ZM570 867.3L575.5 872.8L575.5 882.8L570 888.3L560 888.3L554.5 882.8L554.5 872.8L560 867.3ZM572.6 855.6L578.1 861.1L578.1 871.1L572.6 876.6L562.6 876.6L557.1 871.1L557.1 861.1L562.6 855.6ZM575.2 806.7L580.7 812.2L580.7 822.2L575.2 827.7L565.2 827.7L559.7 822.2L559.7 812.2L565.2 806.7ZM577.7 734.8L583.2 740.3L583.2 750.3L577.7 755.8L567.7 755.8L562.2 750.3L562.2 740.3L567.7 734.8ZM580.3 499.1L585.8 504.6L585.8 514.6L580.3 520.1L570.3 520.1L564.8 514.6L564.8 504.6L570.3 499.1ZM582.9 355.1L588.4 360.6L588.4 370.6L582.9 376.1L572.9 376.1L567.4 370.6L567.4 360.6L572.9 355.1ZM585.5 274.3L591 279.8L591 289.8L585.5 295.3L575.5 295.3L570 289.8L570 279.8L575.5 274.3ZM588 526.5L593.5 532L593.5 542L588 547.5L578 547.5L572.5 542L572.5 532L578 526.5ZM590.6 919.1L596.1 924.6L596.1 934.6L590.6 940.1L580.6 940.1L575.1 934.6L575.1 924.6L580.6 919.1ZM593.2 1062.9L598.7 1068.4L598.7 1078.4L593.2 1083.9L583.2 1083.9L577.7 1078.4L577.7 1068.4L583.2 1062.9ZM595.7 1206L601.2 1211.5L601.2 1221.5L595.7 1227L585.7 1227L580.2 1221.5L580.2 1211.5L585.7 1206ZM598.3 1317L603.8 1322.5L603.8 1332.5L598.3 1338L588.3 1338L582.8 1332.5L582.8 1322.5L588.3 1317ZM600.9 1330.8L606.4 1336.3L606.4 1346.3L600.9 1351.8L590.9 1351.8L585.4 1346.3L585.4 1336.3L590.9 1330.8ZM603.4 1354.5L608.9 1360L608.9 1370L603.4 1375.5L593.4 1375.5L587.9 1370L587.9 1360L593.4 1354.5ZM606 1244.9L611.5 1250.4L611.5 1260.4L606 1265.9L596 1265.9L590.5 1260.4L590.5 1250.4L596 1244.9ZM608.6 1038.2L614.1 1043.7L614.1 1053.7L608.6 1059.2L598.6 1059.2L593.1 1053.7L593.1 1043.7L598.6 1038.2ZM611.2 789.2L616.7 794.7L616.7 804.7L611.2 810.2L601.2 810.2L595.7 804.7L595.7 794.7L601.2 789.2ZM613.7 463.1L619.2 468.6L619.2 478.6L613.7 484.1L603.7 484.1L598.2 478.6L598.2 468.6L603.7 463.1ZM616.3 422.4L621.8 427.9L621.8 437.9L616.3 443.4L606.3 443.4L600.8 437.9L600.8 427.9L606.3 422.4ZM618.9 581.8L624.4 587.3L624.4 597.3L618.9 602.8L608.9 602.8L603.4 597.3L603.4 587.3L608.9 581.8ZM621.4 659.4L626.9 664.9L626.9 674.9L621.4 680.4L611.4 680.4L605.9 674.9L605.9 664.9L611.4 659.4ZM624 716.3L629.5 721.8L629.5 731.8L624 737.3L614 737.3L608.5 731.8L608.5 721.8L614 716.3ZM626.6 791.4L632.1 796.9L632.1 806.9L626.6 812.4L616.6 812.4L611.1 806.9L611.1 796.9L616.6 791.4ZM629.1 790.6L634.6 796.1L634.6 806.1L629.1 811.6L619.1 811.6L613.6 806.1L613.6 796.1L619.1 790.6ZM631.7 829.9L637.2 835.4L637.2 845.4L631.7 850.9L621.7 850.9L616.2 845.4L616.2 835.4L621.7 829.9ZM634.3 828.5L639.8 834L639.8 844L634.3 849.5L624.3 849.5L618.8 844L618.8 834L624.3 828.5ZM636.9 774.9L642.4 780.4L642.4 790.4L636.9 795.9L626.9 795.9L621.4 790.4L621.4 780.4L626.9 774.9ZM639.4 716L644.9 721.5L644.9 731.5L639.4 737L629.4 737L623.9 731.5L623.9 721.5L629.4 716ZM642 471.2L647.5 476.7L647.5 486.7L642 492.2L632 492.2L626.5 486.7L626.5 476.7L632 471.2ZM644.6 359.4L650.1 364.9L650.1 374.9L644.6 380.4L634.6 380.4L629.1 374.9L629.1 364.9L634.6 359.4ZM647.1 294.7L652.6 300.2L652.6 310.2L647.1 315.7L637.1 315.7L631.6 310.2L631.6 300.2L637.1 294.7ZM649.7 531.2L655.2 536.7L655.2 546.7L649.7 552.2L639.7 552.2L634.2 546.7L634.2 536.7L639.7 531.2ZM652.3 883.7L657.8 889.2L657.8 899.2L652.3 904.7L642.3 904.7L636.8 899.2L636.8 889.2L642.3 883.7ZM654.8 1064.9L660.3 1070.4L660.3 1080.4L654.8 1085.9L644.8 1085.9L639.3 1080.4L639.3 1070.4L644.8 1064.9ZM657.4 1196.3L662.9 1201.8L662.9 1211.8L657.4 1217.3L647.4 1217.3L641.9 1211.8L641.9 1201.8L647.4 1196.3ZM660 1303.8L665.5 1309.3L665.5 1319.2L660 1324.8L650 1324.8L644.5 1319.2L644.5 1309.3L650 1303.8ZM662.5 1320.1L668.1 1325.6L668.1 1335.6L662.5 1341.1L652.6 1341.1L647.1 1335.6L647.1 1325.6L652.6 1320.1ZM665.1 1320.9L670.6 1326.4L670.6 1336.4L665.1 1341.9L655.1 1341.9L649.6 1336.4L649.6 1326.4L655.1 1320.9ZM667.7 1223.8L673.2 1229.3L673.2 1239.3L667.7 1244.8L657.7 1244.8L652.2 1239.3L652.2 1229.3L657.7 1223.8ZM670.3 1054.8L675.8 1060.3L675.8 1070.3L670.3 1075.8L660.3 1075.8L654.8 1070.3L654.8 1060.3L660.3 1054.8ZM672.8 785.5L678.3 791L678.3 801L672.8 806.5L662.8 806.5L657.3 801L657.3 791L662.8 785.5ZM675.4 454.2L680.9 459.7L680.9 469.7L675.4 475.2L665.4 475.2L659.9 469.7L659.9 459.7L665.4 454.2ZM678 439L683.5 444.5L683.5 454.5L678 460L668 460L662.5 454.5L662.5 444.5L668 439ZM680.5 571.1L686 576.6L686 586.6L680.5 592.1L670.5 592.1L665 586.6L665 576.6L670.5 571.1ZM683.1 623.4L688.6 628.9L688.6 638.9L683.1 644.4L673.1 644.4L667.6 638.9L667.6 628.9L673.1 623.4ZM685.7 729.8L691.2 735.3L691.2 745.3L685.7 750.8L675.7 750.8L670.2 745.3L670.2 735.3L675.7 729.8ZM688.2 743L693.8 748.5L693.8 758.5L688.2 764L678.3 764L672.8 758.5L672.8 748.5L678.3 743ZM690.8 838.1L696.3 843.6L696.3 853.6L690.8 859.1L680.8 859.1L675.3 853.6L675.3 843.6L680.8 838.1ZM693.4 877.4L698.9 882.9L698.9 892.9L693.4 898.4L683.4 898.4L677.9 892.9L677.9 882.9L683.4 877.4ZM696 835.9L701.5 841.4L701.5 851.4L696 856.9L686 856.9L680.5 851.4L680.5 841.4L686 835.9ZM698.5 786.2L704 791.7L704 801.7L698.5 807.2L688.5 807.2L683 801.7L683 791.7L688.5 786.2ZM701.1 734.9L706.6 740.4L706.6 750.4L701.1 755.9L691.1 755.9L685.6 750.4L685.6 740.4L691.1 734.9ZM703.7 451.9L709.2 457.4L709.2 467.4L703.7 472.9L693.7 472.9L688.2 467.4L688.2 457.4L693.7 451.9ZM706.2 351.1L711.7 356.6L711.7 366.6L706.2 372.1L696.2 372.1L690.7 366.6L690.7 356.6L696.2 351.1ZM708.8 241L714.3 246.5L714.3 256.5L708.8 262L698.8 262L693.3 256.5L693.3 246.5L698.8 241ZM711.4 533.9L716.9 539.4L716.9 549.4L711.4 554.9L701.4 554.9L695.9 549.4L695.9 539.4L701.4 533.9ZM713.9 925L719.4 930.5L719.4 940.5L713.9 946L704 946L698.4 940.5L698.4 930.5L704 925ZM716.5 1083.1L722 1088.6L722 1098.6L716.5 1104.1L706.5 1104.1L701 1098.6L701 1088.6L706.5 1083.1ZM719.1 1194.3L724.6 1199.8L724.6 1209.8L719.1 1215.3L709.1 1215.3L703.6 1209.8L703.6 1199.8L709.1 1194.3ZM721.7 1316.2L727.2 1321.7L727.2 1331.7L721.7 1337.2L711.7 1337.2L706.2 1331.7L706.2 1321.7L711.7 1316.2ZM724.2 1305.7L729.7 1311.2L729.7 1321.2L724.2 1326.7L714.2 1326.7L708.7 1321.2L708.7 1311.2L714.2 1305.7ZM726.8 1310.3L732.3 1315.8L732.3 1325.8L726.8 1331.3L716.8 1331.3L711.3 1325.8L711.3 1315.8L716.8 1310.3ZM729.4 1228.9L734.9 1234.4L734.9 1244.4L729.4 1249.9L719.4 1249.9L713.9 1244.4L713.9 1234.4L719.4 1228.9ZM731.9 1061.7L737.4 1067.2L737.4 1077.2L731.9 1082.7L721.9 1082.7L716.4 1077.2L716.4 1067.2L721.9 1061.7ZM734.5 811.7L740 817.2L740 827.2L734.5 832.7L724.5 832.7L719 827.2L719 817.2L724.5 811.7ZM737.1 488.7L742.6 494.2L742.6 504.2L737.1 509.7L727.1 509.7L721.6 504.2L721.6 494.2L727.1 488.7ZM739.6 468.2L745.1 473.7L745.1 483.7L739.6 489.2L729.6 489.2L724.1 483.7L724.1 473.7L729.6 468.2ZM742.2 608.1L747.7 613.6L747.7 623.6L742.2 629.1L732.2 629.1L726.7 623.6L726.7 613.6L732.2 608.1ZM744.8 661.3L750.3 666.8L750.3 676.8L744.8 682.3L734.8 682.3L729.3 676.8L729.3 666.8L734.8 661.3ZM747.4 732.8L752.9 738.3L752.9 748.3L747.4 753.8L737.4 753.8L731.9 748.3L731.9 738.3L737.4 732.8ZM749.9 776.5L755.4 782L755.4 792L749.9 797.5L739.9 797.5L734.4 792L734.4 782L739.9 776.5ZM752.5 784.5L758 790L758 800L752.5 805.5L742.5 805.5L737 800L737 790L742.5 784.5ZM755.1 866.1L760.6 871.6L760.6 881.6L755.1 887.1L745.1 887.1L739.6 881.6L739.6 871.6L745.1 866.1ZM757.6 817.7L763.1 823.2L763.1 833.2L757.6 838.7L747.6 838.7L742.1 833.2L742.1 823.2L747.6 817.7ZM760.2 806L765.7 811.5L765.7 821.5L760.2 827L750.2 827L744.7 821.5L744.7 811.5L750.2 806ZM762.8 724.9L768.3 730.4L768.3 740.4L762.8 745.9L752.8 745.9L747.3 740.4L747.3 730.4L752.8 724.9ZM765.3 464.1L770.8 469.6L770.8 479.6L765.3 485.1L755.3 485.1L749.8 479.6L749.8 469.6L755.3 464.1ZM767.9 382.5L773.4 388L773.4 398L767.9 403.5L757.9 403.5L752.4 398L752.4 388L757.9 382.5ZM770.5 276.8L776 282.3L776 292.3L770.5 297.8L760.5 297.8L755 292.3L755 282.3L760.5 276.8ZM773.1 516.2L778.6 521.7L778.6 531.7L773.1 537.2L763.1 537.2L757.6 531.7L757.6 521.7L763.1 516.2ZM775.6 910L781.1 915.5L781.1 925.5L775.6 931L765.6 931L760.1 925.5L760.1 915.5L765.6 910ZM778.2 1086.2L783.7 1091.7L783.7 1101.7L778.2 1107.2L768.2 1107.2L762.7 1101.7L762.7 1091.7L768.2 1086.2ZM780.8 1212.8L786.3 1218.3L786.3 1228.3L780.8 1233.8L770.8 1233.8L765.3 1228.3L765.3 1218.3L770.8 1212.8ZM783.3 1288.9L788.8 1294.4L788.8 1304.4L783.3 1309.9L773.3 1309.9L767.8 1304.4L767.8 1294.4L773.3 1288.9ZM785.9 1334.7L791.4 1340.2L791.4 1350.2L785.9 1355.7L775.9 1355.7L770.4 1350.2L770.4 1340.2L775.9 1334.7ZM788.5 1323.4L794 1328.9L794 1338.9L788.5 1344.4L778.5 1344.4L773 1338.9L773 1328.9L778.5 1323.4ZM791 1254.3L796.5 1259.8L796.5 1269.8L791 1275.3L781 1275.3L775.5 1269.8L775.5 1259.8L781 1254.3ZM793.6 1055.9L799.1 1061.4L799.1 1071.4L793.6 1076.9L783.6 1076.9L778.1 1071.4L778.1 1061.4L783.6 1055.9ZM796.2 811.6L801.7 817.1L801.7 827.1L796.2 832.6L786.2 832.6L780.7 827.1L780.7 817.1L786.2 811.6ZM798.8 521.3L804.3 526.8L804.3 536.8L798.8 542.3L788.8 542.3L783.3 536.8L783.3 526.8L788.8 521.3ZM801.3 489L806.8 494.5L806.8 504.5L801.3 510L791.3 510L785.8 504.5L785.8 494.5L791.3 489ZM803.9 580.7L809.4 586.2L809.4 596.2L803.9 601.7L793.9 601.7L788.4 596.2L788.4 586.2L793.9 580.7ZM806.5 673.4L812 678.9L812 688.9L806.5 694.4L796.5 694.4L791 688.9L791 678.9L796.5 673.4ZM809 708.4L814.5 713.9L814.5 723.9L809 729.4L799 729.4L793.5 723.9L793.5 713.9L799 708.4ZM811.6 768.1L817.1 773.6L817.1 783.6L811.6 789.1L801.6 789.1L796.1 783.6L796.1 773.6L801.6 768.1ZM814.2 825.2L819.7 830.7L819.7 840.7L814.2 846.2L804.2 846.2L798.7 840.7L798.7 830.7L804.2 825.2ZM816.7 867.6L822.2 873.1L822.2 883.1L816.7 888.6L806.7 888.6L801.2 883.1L801.2 873.1L806.7 867.6ZM819.3 845.7L824.8 851.2L824.8 861.2L819.3 866.7L809.3 866.7L803.8 861.2L803.8 851.2L809.3 845.7ZM821.9 805.3L827.4 810.8L827.4 820.8L821.9 826.3L811.9 826.3L806.4 820.8L806.4 810.8L811.9 805.3ZM824.5 717.1L830 722.6L830 732.6L824.5 738.1L814.5 738.1L809 732.6L809 722.6L814.5 717.1ZM827 483.3L832.5 488.8L832.5 498.8L827 504.3L817 504.3L811.5 498.8L811.5 488.8L817 483.3ZM829.6 339.4L835.1 344.9L835.1 354.9L829.6 360.4L819.6 360.4L814.1 354.9L814.1 344.9L819.6 339.4ZM832.2 246.8L837.7 252.3L837.7 262.3L832.2 267.8L822.2 267.8L816.7 262.3L816.7 252.3L822.2 246.8ZM834.7 499.9L840.2 505.4L840.2 515.4L834.7 520.9L824.7 520.9L819.2 515.4L819.2 505.4L824.7 499.9ZM837.3 908L842.8 913.5L842.8 923.5L837.3 929L827.3 929L821.8 923.5L821.8 913.5L827.3 908ZM839.9 1037.8L845.4 1043.3L845.4 1053.3L839.9 1058.8L829.9 1058.8L824.4 1053.3L824.4 1043.3L829.9 1037.8ZM842.4 1202.5L847.9 1208L847.9 1218L842.4 1223.5L832.4 1223.5L826.9 1218L826.9 1208L832.4 1202.5ZM845 1305.5L850.5 1311L850.5 1321L845 1326.5L835 1326.5L829.5 1321L829.5 1311L835 1305.5ZM847.6 1356.9L853.1 1362.4L853.1 1372.4L847.6 1377.9L837.6 1377.9L832.1 1372.4L832.1 1362.4L837.6 1356.9ZM850.2 1346.5L855.7 1352L855.7 1362L850.2 1367.5L840.2 1367.5L834.7 1362L834.7 1352L840.2 1346.5ZM852.7 1231.4L858.2 1236.9L858.2 1246.9L852.7 1252.4L842.7 1252.4L837.2 1246.9L837.2 1236.9L842.7 1231.4ZM855.3 1040.9L860.8 1046.4L860.8 1056.4L855.3 1061.9L845.3 1061.9L839.8 1056.4L839.8 1046.4L845.3 1040.9ZM857.9 813.1L863.4 818.6L863.4 828.6L857.9 834.1L847.9 834.1L842.4 828.6L842.4 818.6L847.9 813.1ZM860.4 437.2L865.9 442.7L865.9 452.7L860.4 458.2L850.4 458.2L844.9 452.7L844.9 442.7L850.4 437.2ZM863 434.9L868.5 440.4L868.5 450.4L863 455.9L853 455.9L847.5 450.4L847.5 440.4L853 434.9ZM865.6 544.5L871.1 550L871.1 560L865.6 565.5L855.6 565.5L850.1 560L850.1 550L855.6 544.5ZM868.1 631.7L873.6 637.2L873.6 647.2L868.1 652.7L858.1 652.7L852.6 647.2L852.6 637.2L858.1 631.7ZM870.7 754.4L876.2 759.9L876.2 769.9L870.7 775.4L860.7 775.4L855.2 769.9L855.2 759.9L860.7 754.4ZM873.3 757.5L878.8 763L878.8 773L873.3 778.5L863.3 778.5L857.8 773L857.8 763L863.3 757.5ZM875.9 829.7L881.4 835.2L881.4 845.2L875.9 850.7L865.9 850.7L860.4 845.2L860.4 835.2L865.9 829.7ZM878.4 835.5L883.9 841L883.9 851L878.4 856.5L868.4 856.5L862.9 851L862.9 841L868.4 835.5ZM881 807L886.5 812.5L886.5 822.5L881 828L871 828L865.5 822.5L865.5 812.5L871 807ZM883.6 790.5L889.1 796L889.1 806L883.6 811.5L873.6 811.5L868.1 806L868.1 796L873.6 790.5ZM886.1 706.1L891.6 711.6L891.6 721.6L886.1 727.1L876.1 727.1L870.6 721.6L870.6 711.6L876.1 706.1ZM888.7 436.8L894.2 442.3L894.2 452.3L888.7 457.8L878.7 457.8L873.2 452.3L873.2 442.3L878.7 436.8ZM891.3 315.7L896.8 321.2L896.8 331.2L891.3 336.7L881.3 336.7L875.8 331.2L875.8 321.2L881.3 315.7ZM893.8 238.1L899.3 243.6L899.3 253.6L893.8 259.1L883.8 259.1L878.3 253.6L878.3 243.6L883.8 238.1ZM896.4 497.2L901.9 502.7L901.9 512.7L896.4 518.2L886.4 518.2L880.9 512.7L880.9 502.7L886.4 497.2ZM899 895.3L904.5 900.8L904.5 910.8L899 916.3L889 916.3L883.5 910.8L883.5 900.8L889 895.3ZM901.5 1067.6L907.1 1073.1L907.1 1083.1L901.5 1088.6L891.6 1088.6L886.1 1083.1L886.1 1073.1L891.6 1067.6ZM904.1 1208.5L909.6 1214L909.6 1224L904.1 1229.5L894.1 1229.5L888.6 1224L888.6 1214L894.1 1208.5ZM906.7 1302.9L912.2 1308.4L912.2 1318.4L906.7 1323.9L896.7 1323.9L891.2 1318.4L891.2 1308.4L896.7 1302.9ZM909.3 1341.6L914.8 1347.1L914.8 1357.1L909.3 1362.6L899.3 1362.6L893.8 1357.1L893.8 1347.1L899.3 1341.6ZM911.8 1370.8L917.3 1376.3L917.3 1386.3L911.8 1391.8L901.8 1391.8L896.3 1386.3L896.3 1376.3L901.8 1370.8ZM914.4 1255.7L919.9 1261.2L919.9 1271.2L914.4 1276.7L904.4 1276.7L898.9 1271.2L898.9 1261.2L904.4 1255.7ZM917 1081.7L922.5 1087.2L922.5 1097.2L917 1102.7L907 1102.7L901.5 1097.2L901.5 1087.2L907 1081.7ZM919.5 806L925 811.5L925 821.5L919.5 827L909.5 827L904 821.5L904 811.5L909.5 806ZM922.1 509.9L927.6 515.4L927.6 525.4L922.1 530.9L912.1 530.9L906.6 525.4L906.6 515.4L912.1 509.9ZM924.7 459.8L930.2 465.3L930.2 475.3L924.7 480.8L914.7 480.8L909.2 475.3L909.2 465.3L914.7 459.8ZM927.2 571.3L932.8 576.8L932.8 586.8L927.2 592.3L917.3 592.3L911.8 586.8L911.8 576.8L917.3 571.3ZM929.8 667.6L935.3 673.1L935.3 683.1L929.8 688.6L919.8 688.6L914.3 683.1L914.3 673.1L919.8 667.6ZM932.4 715.3L937.9 720.8L937.9 730.8L932.4 736.3L922.4 736.3L916.9 730.8L916.9 720.8L922.4 715.3ZM935 753.4L940.5 758.9L940.5 768.9L935 774.4L925 774.4L919.5 768.9L919.5 758.9L925 753.4ZM937.5 874.1L943 879.6L943 889.6L937.5 895.1L927.5 895.1L922 889.6L922 879.6L927.5 874.1ZM940.1 844L945.6 849.5L945.6 859.5L940.1 865L930.1 865L924.6 859.5L924.6 849.5L930.1 844ZM942.7 746.5L948.2 752L948.2 762L942.7 767.5L932.7 767.5L927.2 762L927.2 752L932.7 746.5ZM945.2 587.9L950.7 593.4L950.7 603.4L945.2 608.9L935.2 608.9L929.7 603.4L929.7 593.4L935.2 587.9ZM947.8 411.5L953.3 417L953.3 427L947.8 432.5L937.8 432.5L932.3 427L932.3 417L937.8 411.5ZM950.4 343.8L955.9 349.3L955.9 359.3L950.4 364.8L940.4 364.8L934.9 359.3L934.9 349.3L940.4 343.8ZM952.9 305.9L958.4 311.4L958.4 321.4L952.9 326.9L943 326.9L937.4 321.4L937.4 311.4L943 305.9ZM955.5 391.3L961 396.8L961 406.8L955.5 412.3L945.5 412.3L940 406.8L940 396.8L945.5 391.3ZM958.1 523.8L963.6 529.3L963.6 539.3L958.1 544.8L948.1 544.8L942.6 539.3L942.6 529.3L948.1 523.8ZM960.7 759.4L966.2 764.9L966.2 774.9L960.7 780.4L950.7 780.4L945.2 774.9L945.2 764.9L950.7 759.4ZM963.2 1020.7L968.7 1026.2L968.7 1036.2L963.2 1041.7L953.2 1041.7L947.7 1036.2L947.7 1026.2L953.2 1020.7ZM965.8 1103L971.3 1108.5L971.3 1118.5L965.8 1124L955.8 1124L950.3 1118.5L950.3 1108.5L955.8 1103ZM968.4 1199.8L973.9 1205.3L973.9 1215.3L968.4 1220.8L958.4 1220.8L952.9 1215.3L952.9 1205.3L958.4 1199.8ZM970.9 1296.3L976.4 1301.8L976.4 1311.8L970.9 1317.3L960.9 1317.3L955.4 1311.8L955.4 1301.8L960.9 1296.3ZM973.5 1278.4L979 1283.9L979 1293.9L973.5 1299.4L963.5 1299.4L958 1293.9L958 1283.9L963.5 1278.4ZM976.1 1063.7L981.6 1069.2L981.6 1079.2L976.1 1084.7L966.1 1084.7L960.6 1079.2L960.6 1069.2L966.1 1063.7ZM978.6 889.3L984.1 894.8L984.1 904.8L978.6 910.3L968.7 910.3L963.1 904.8L963.1 894.8L968.7 889.3ZM981.2 648.2L986.7 653.7L986.7 663.7L981.2 669.2L971.2 669.2L965.7 663.7L965.7 653.7L971.2 648.2ZM983.8 434L989.3 439.5L989.3 449.5L983.8 455L973.8 455L968.3 449.5L968.3 439.5L973.8 434ZM986.4 251.8L991.9 257.3L991.9 267.3L986.4 272.8L976.4 272.8L970.9 267.3L970.9 257.3L976.4 251.8ZM988.9 331.6L994.4 337.1L994.4 347L988.9 352.6L978.9 352.6L973.4 347L973.4 337.1L978.9 331.6ZM991.5 539.2L997 544.7L997 554.7L991.5 560.2L981.5 560.2L976 554.7L976 544.7L981.5 539.2ZM994.1 708.6L999.6 714.1L999.6 724.1L994.1 729.6L984.1 729.6L978.6 724.1L978.6 714.1L984.1 708.6ZM996.6 824.5L1002.1 830L1002.1 840L996.6 845.5L986.6 845.5L981.1 840L981.1 830L986.6 824.5ZM999.2 898.6L1004.7 904.1L1004.7 914.1L999.2 919.6L989.2 919.6L983.7 914.1L983.7 904.1L989.2 898.6ZM1001.8 835.8L1007.3 841.3L1007.3 851.3L1001.8 856.8L991.8 856.8L986.3 851.3L986.3 841.3L991.8 835.8ZM1004.3 732.5L1009.8 738L1009.8 748L1004.3 753.5L994.3 753.5L988.8 748L988.8 738L994.3 732.5ZM1006.9 596.5L1012.4 602L1012.4 612L1006.9 617.5L996.9 617.5L991.4 612L991.4 602L996.9 596.5ZM1009.5 413.9L1015 419.4L1015 429.4L1009.5 434.9L999.5 434.9L994 429.4L994 419.4L999.5 413.9ZM1012.1 338.1L1017.6 343.6L1017.6 353.6L1012.1 359.1L1002.1 359.1L996.6 353.6L996.6 343.6L1002.1 338.1ZM1014.6 297.6L1020.1 303.1L1020.1 313.1L1014.6 318.6L1004.6 318.6L999.1 313.1L999.1 303.1L1004.6 297.6ZM1017.2 397.5L1022.7 403L1022.7 413L1017.2 418.5L1007.2 418.5L1001.7 413L1001.7 403L1007.2 397.5ZM1019.8 504.8L1025.3 510.3L1025.3 520.3L1019.8 525.8L1009.8 525.8L1004.3 520.3L1004.3 510.3L1009.8 504.8ZM1022.3 784.1L1027.8 789.6L1027.8 799.6L1022.3 805.1L1012.3 805.1L1006.8 799.6L1006.8 789.6L1012.3 784.1ZM1024.9 1012.4L1030.4 1017.9L1030.4 1027.9L1024.9 1033.4L1014.9 1033.4L1009.4 1027.9L1009.4 1017.9L1014.9 1012.4ZM1027.5 1116L1033 1121.5L1033 1131.5L1027.5 1137L1017.5 1137L1012 1131.5L1012 1121.5L1017.5 1116ZM1030 1216.2L1035.5 1221.7L1035.5 1231.7L1030 1237.2L1020 1237.2L1014.5 1231.7L1014.5 1221.7L1020 1216.2ZM1032.6 1274.7L1038.1 1280.2L1038.1 1290.2L1032.6 1295.7L1022.6 1295.7L1017.1 1290.2L1017.1 1280.2L1022.6 1274.7ZM1035.2 1260.3L1040.7 1265.8L1040.7 1275.8L1035.2 1281.3L1025.2 1281.3L1019.7 1275.8L1019.7 1265.8L1025.2 1260.3ZM1037.8 1107.6L1043.3 1113.1L1043.3 1123.1L1037.8 1128.6L1027.8 1128.6L1022.3 1123.1L1022.3 1113.1L1027.8 1107.6ZM1040.3 865.5L1045.8 871L1045.8 881L1040.3 886.5L1030.3 886.5L1024.8 881L1024.8 871L1030.3 865.5ZM1042.9 656.7L1048.4 662.2L1048.4 672.2L1042.9 677.7L1032.9 677.7L1027.4 672.2L1027.4 662.2L1032.9 656.7ZM1045.5 473.6L1051 479.1L1051 489.1L1045.5 494.6L1035.5 494.6L1030 489.1L1030 479.1L1035.5 473.6ZM1048 268.5L1053.5 274L1053.5 284L1048 289.5L1038 289.5L1032.5 284L1032.5 274L1038 268.5ZM1050.6 394L1056.1 399.5L1056.1 409.5L1050.6 415L1040.6 415L1035.1 409.5L1035.1 399.5L1040.6 394ZM1053.2 529.6L1058.7 535.1L1058.7 545L1053.2 550.6L1043.2 550.6L1037.7 545L1037.7 535.1L1043.2 529.6ZM1055.7 669.9L1061.2 675.4L1061.2 685.4L1055.7 690.9L1045.7 690.9L1040.2 685.4L1040.2 675.4L1045.7 669.9ZM1058.3 818.6L1063.8 824.1L1063.8 834.1L1058.3 839.6L1048.3 839.6L1042.8 834.1L1042.8 824.1L1048.3 818.6ZM1060.9 885L1066.4 890.5L1066.4 900.5L1060.9 906L1050.9 906L1045.4 900.5L1045.4 890.5L1050.9 885ZM1063.5 837.4L1069 842.9L1069 852.9L1063.5 858.4L1053.5 858.4L1048 852.9L1048 842.9L1053.5 837.4ZM1066 740.1L1071.5 745.6L1071.5 755.6L1066 761.1L1056 761.1L1050.5 755.6L1050.5 745.6L1056 740.1ZM1068.6 628.4L1074.1 633.9L1074.1 643.9L1068.6 649.4L1058.6 649.4L1053.1 643.9L1053.1 633.9L1058.6 628.4ZM1071.2 404.6L1076.7 410.1L1076.7 420.1L1071.2 425.6L1061.2 425.6L1055.7 420.1L1055.7 410.1L1061.2 404.6ZM1073.7 301.9L1079.2 307.4L1079.2 317.4L1073.7 322.9L1063.7 322.9L1058.2 317.4L1058.2 307.4L1063.7 301.9ZM1076.3 295.5L1081.8 301L1081.8 311L1076.3 316.5L1066.3 316.5L1060.8 311L1060.8 301L1066.3 295.5ZM1078.9 351.7L1084.4 357.2L1084.4 367.2L1078.9 372.7L1068.9 372.7L1063.4 367.2L1063.4 357.2L1068.9 351.7ZM1081.4 519.4L1086.9 524.9L1086.9 534.9L1081.4 540.4L1071.4 540.4L1065.9 534.9L1065.9 524.9L1071.4 519.4ZM1084 792.7L1089.5 798.2L1089.5 808.2L1084 813.7L1074 813.7L1068.5 808.2L1068.5 798.2L1074 792.7ZM1086.6 999.7L1092.1 1005.2L1092.1 1015.2L1086.6 1020.7L1076.6 1020.7L1071.1 1015.2L1071.1 1005.2L1076.6 999.7ZM1089.2 1135.8L1094.7 1141.3L1094.7 1151.3L1089.2 1156.8L1079.2 1156.8L1073.7 1151.3L1073.7 1141.3L1079.2 1135.8ZM1091.7 1239.8L1097.2 1245.3L1097.2 1255.3L1091.7 1260.8L1081.7 1260.8L1076.2 1255.3L1076.2 1245.3L1081.7 1239.8ZM1094.3 1300.5L1099.8 1306L1099.8 1316L1094.3 1321.5L1084.3 1321.5L1078.8 1316L1078.8 1306L1084.3 1300.5ZM1096.9 1245.6L1102.4 1251.1L1102.4 1261.1L1096.9 1266.6L1086.9 1266.6L1081.4 1261.1L1081.4 1251.1L1086.9 1245.6ZM1099.4 1092L1104.9 1097.5L1104.9 1107.5L1099.4 1113L1089.4 1113L1083.9 1107.5L1083.9 1097.5L1089.4 1092ZM1102 848.3L1107.5 853.8L1107.5 863.8L1102 869.3L1092 869.3L1086.5 863.8L1086.5 853.8L1092 848.3ZM1104.6 641.1L1110.1 646.6L1110.1 656.6L1104.6 662.1L1094.6 662.1L1089.1 656.6L1089.1 646.6L1094.6 641.1ZM1107.1 443.7L1112.6 449.2L1112.6 459.2L1107.1 464.7L1097.1 464.7L1091.6 459.2L1091.6 449.2L1097.1 443.7ZM1109.7 237.7L1115.2 243.2L1115.2 253.2L1109.7 258.7L1099.7 258.7L1094.2 253.2L1094.2 243.2L1099.7 237.7ZM1112.3 366.5L1117.8 372L1117.8 382L1112.3 387.5L1102.3 387.5L1096.8 382L1096.8 372L1102.3 366.5ZM1114.9 492.3L1120.4 497.8L1120.4 507.8L1114.9 513.3L1104.9 513.3L1099.4 507.8L1099.4 497.8L1104.9 492.3ZM1117.4 669.4L1122.9 674.9L1122.9 684.9L1117.4 690.4L1107.4 690.4L1101.9 684.9L1101.9 674.9L1107.4 669.4ZM1120 838.1L1125.5 843.6L1125.5 853.6L1120 859.1L1110 859.1L1104.5 853.6L1104.5 843.6L1110 838.1ZM1122.6 868.3L1128.1 873.8L1128.1 883.8L1122.6 889.3L1112.6 889.3L1107.1 883.8L1107.1 873.8L1112.6 868.3ZM1125.1 857.9L1130.6 863.4L1130.6 873.4L1125.1 878.9L1115.1 878.9L1109.6 873.4L1109.6 863.4L1115.1 857.9ZM1127.7 737.1L1133.2 742.6L1133.2 752.6L1127.7 758.1L1117.7 758.1L1112.2 752.6L1112.2 742.6L1117.7 737.1ZM1130.3 633.6L1135.8 639.1L1135.8 649.1L1130.3 654.6L1120.3 654.6L1114.8 649.1L1114.8 639.1L1120.3 633.6ZM1132.8 405.4L1138.3 410.9L1138.3 420.9L1132.8 426.4L1122.8 426.4L1117.3 420.9L1117.3 410.9L1122.8 405.4ZM1135.4 325.4L1140.9 331L1140.9 340.9L1135.4 346.4L1125.4 346.4L1119.9 340.9L1119.9 331L1125.4 325.4ZM1138 293.4L1143.5 298.9L1143.5 308.9L1138 314.4L1128 314.4L1122.5 308.9L1122.5 298.9L1128 293.4ZM1140.5 364.3L1146.1 369.8L1146.1 379.8L1140.5 385.3L1130.6 385.3L1125.1 379.8L1125.1 369.8L1130.6 364.3ZM1143.1 518.3L1148.6 523.8L1148.6 533.8L1143.1 539.3L1133.1 539.3L1127.6 533.8L1127.6 523.8L1133.1 518.3ZM1145.7 798.8L1151.2 804.3L1151.2 814.3L1145.7 819.8L1135.7 819.8L1130.2 814.3L1130.2 804.3L1135.7 798.8ZM1148.3 973.9L1153.8 979.4L1153.8 989.4L1148.3 994.9L1138.3 994.9L1132.8 989.4L1132.8 979.4L1138.3 973.9ZM1150.8 1134.9L1156.3 1140.4L1156.3 1150.4L1150.8 1155.9L1140.8 1155.9L1135.3 1150.4L1135.3 1140.4L1140.8 1134.9ZM1153.4 1218.8L1158.9 1224.3L1158.9 1234.3L1153.4 1239.8L1143.4 1239.8L1137.9 1234.3L1137.9 1224.3L1143.4 1218.8ZM1156 1309.7L1161.5 1315.2L1161.5 1325.2L1156 1330.7L1146 1330.7L1140.5 1325.2L1140.5 1315.2L1146 1309.7ZM1158.5 1233.9L1164 1239.4L1164 1249.4L1158.5 1254.9L1148.5 1254.9L1143 1249.4L1143 1239.4L1148.5 1233.9ZM1161.1 1087.7L1166.6 1093.2L1166.6 1103.2L1161.1 1108.7L1151.1 1108.7L1145.6 1103.2L1145.6 1093.2L1151.1 1087.7ZM1163.7 874.3L1169.2 879.9L1169.2 889.8L1163.7 895.3L1153.7 895.3L1148.2 889.8L1148.2 879.9L1153.7 874.3ZM1166.2 626.1L1171.8 631.6L1171.8 641.6L1166.2 647.1L1156.3 647.1L1150.8 641.6L1150.8 631.6L1156.3 626.1ZM1168.8 432.8L1174.3 438.3L1174.3 448.3L1168.8 453.8L1158.8 453.8L1153.3 448.3L1153.3 438.3L1158.8 432.8ZM1171.4 262.6L1176.9 268.1L1176.9 278.1L1171.4 283.6L1161.4 283.6L1155.9 278.1L1155.9 268.1L1161.4 262.6ZM1174 375.8L1179.5 381.4L1179.5 391.3L1174 396.8L1164 396.8L1158.5 391.3L1158.5 381.4L1164 375.8ZM1176.5 549.3L1182 554.8L1182 564.8L1176.5 570.3L1166.5 570.3L1161 564.8L1161 554.8L1166.5 549.3ZM1179.1 694.7L1184.6 700.2L1184.6 710.2L1179.1 715.7L1169.1 715.7L1163.6 710.2L1163.6 700.2L1169.1 694.7ZM1181.7 811.9L1187.2 817.4L1187.2 827.4L1181.7 832.9L1171.7 832.9L1166.2 827.4L1166.2 817.4L1171.7 811.9ZM1184.2 902.7L1189.7 908.3L1189.7 918.2L1184.2 923.7L1174.2 923.7L1168.7 918.2L1168.7 908.3L1174.2 902.7ZM1186.8 822.8L1192.3 828.3L1192.3 838.3L1186.8 843.8L1176.8 843.8L1171.3 838.3L1171.3 828.3L1176.8 822.8ZM1189.4 708.9L1194.9 714.4L1194.9 724.4L1189.4 729.9L1179.4 729.9L1173.9 724.4L1173.9 714.4L1179.4 708.9ZM1191.9 621.6L1197.4 627.1L1197.4 637.1L1191.9 642.6L1182 642.6L1176.4 637.1L1176.4 627.1L1182 621.6ZM1194.5 405.1L1200 410.6L1200 420.6L1194.5 426.1L1184.5 426.1L1179 420.6L1179 410.6L1184.5 405.1ZM1197.1 348.9L1202.6 354.4L1202.6 364.4L1197.1 369.9L1187.1 369.9L1181.6 364.4L1181.6 354.4L1187.1 348.9ZM1199.7 300.5L1205.2 306L1205.2 316L1199.7 321.5L1189.7 321.5L1184.2 316L1184.2 306L1189.7 300.5ZM1202.2 369.2L1207.7 374.7L1207.7 384.7L1202.2 390.2L1192.2 390.2L1186.7 384.7L1186.7 374.7L1192.2 369.2ZM1204.8 551.3L1210.3 556.8L1210.3 566.8L1204.8 572.3L1194.8 572.3L1189.3 566.8L1189.3 556.8L1194.8 551.3ZM1207.4 782.1L1212.9 787.6L1212.9 797.6L1207.4 803.1L1197.4 803.1L1191.9 797.6L1191.9 787.6L1197.4 782.1ZM1209.9 982.3L1215.4 987.8L1215.4 997.8L1209.9 1003.3L1199.9 1003.3L1194.4 997.8L1194.4 987.8L1199.9 982.3ZM1212.5 1132.9L1218 1138.4L1218 1148.4L1212.5 1153.9L1202.5 1153.9L1197 1148.4L1197 1138.4L1202.5 1132.9ZM1215.1 1218.6L1220.6 1224.1L1220.6 1234.1L1215.1 1239.6L1205.1 1239.6L1199.6 1234.1L1199.6 1224.1L1205.1 1218.6ZM1217.6 1325L1223.1 1330.5L1223.1 1340.5L1217.6 1346L1207.7 1346L1202.1 1340.5L1202.1 1330.5L1207.7 1325ZM1220.2 1264.2L1225.7 1269.7L1225.7 1279.7L1220.2 1285.2L1210.2 1285.2L1204.7 1279.7L1204.7 1269.7L1210.2 1264.2ZM1222.8 1095.8L1228.3 1101.3L1228.3 1111.3L1222.8 1116.8L1212.8 1116.8L1207.3 1111.3L1207.3 1101.3L1212.8 1095.8ZM1225.4 893.6L1230.9 899.1L1230.9 909.1L1225.4 914.6L1215.4 914.6L1209.9 909.1L1209.9 899.1L1215.4 893.6ZM1227.9 648L1233.4 653.6L1233.4 663.5L1227.9 669L1217.9 669L1212.4 663.5L1212.4 653.6L1217.9 648ZM1230.5 408.6L1236 414.1L1236 424.1L1230.5 429.6L1220.5 429.6L1215 424.1L1215 414.1L1220.5 408.6ZM1233.1 249.3L1238.6 254.8L1238.6 264.8L1233.1 270.3L1223.1 270.3L1217.6 264.8L1217.6 254.8L1223.1 249.3ZM1235.6 380L1241.1 385.5L1241.1 395.5L1235.6 401L1225.6 401L1220.1 395.5L1220.1 385.5L1225.6 380ZM1238.2 531.9L1243.7 537.4L1243.7 547.4L1238.2 552.9L1228.2 552.9L1222.7 547.4L1222.7 537.4L1228.2 531.9ZM1240.8 676.2L1246.3 681.7L1246.3 691.7L1240.8 697.2L1230.8 697.2L1225.3 691.7L1225.3 681.7L1230.8 676.2ZM1243.3 788L1248.8 793.5L1248.8 803.5L1243.3 809L1233.3 809L1227.8 803.5L1227.8 793.5L1233.3 788ZM1245.9 912.8L1251.4 918.3L1251.4 928.3L1245.9 933.8L1235.9 933.8L1230.4 928.3L1230.4 918.3L1235.9 912.8ZM1248.5 864.4L1254 869.9L1254 879.9L1248.5 885.4L1238.5 885.4L1233 879.9L1233 869.9L1238.5 864.4ZM1251.1 720.7L1256.6 726.2L1256.6 736.2L1251.1 741.7L1241.1 741.7L1235.6 736.2L1235.6 726.2L1241.1 720.7ZM1253.6 596L1259.1 601.5L1259.1 611.5L1253.6 617L1243.6 617L1238.1 611.5L1238.1 601.5L1243.6 596ZM1256.2 405L1261.7 410.5L1261.7 420.5L1256.2 426L1246.2 426L1240.7 420.5L1240.7 410.5L1246.2 405ZM1258.8 338.7L1264.3 344.2L1264.3 354.2L1258.8 359.7L1248.8 359.7L1243.3 354.2L1243.3 344.2L1248.8 338.7ZM1261.3 302.2L1266.8 307.7L1266.8 317.7L1261.3 323.2L1251.3 323.2L1245.8 317.7L1245.8 307.7L1251.3 302.2ZM1263.9 385.8L1269.4 391.3L1269.4 401.3L1263.9 406.8L1253.9 406.8L1248.4 401.3L1248.4 391.3L1253.9 385.8ZM1266.5 546.1L1272 551.6L1272 561.6L1266.5 567.1L1256.5 567.1L1251 561.6L1251 551.6L1256.5 546.1ZM1269 770.2L1274.5 775.7L1274.5 785.7L1269 791.2L1259 791.2L1253.5 785.7L1253.5 775.7L1259 770.2ZM1271.6 994.9L1277.1 1000.4L1277.1 1010.4L1271.6 1015.9L1261.6 1015.9L1256.1 1010.4L1256.1 1000.4L1261.6 994.9ZM1274.2 1096.6L1279.7 1102.1L1279.7 1112.1L1274.2 1117.6L1264.2 1117.6L1258.7 1112.1L1258.7 1102.1L1264.2 1096.6ZM1276.8 1203.4L1282.3 1208.9L1282.3 1218.9L1276.8 1224.4L1266.8 1224.4L1261.3 1218.9L1261.3 1208.9L1266.8 1203.4ZM1279.3 1290.6L1284.8 1296.1L1284.8 1306.1L1279.3 1311.6L1269.3 1311.6L1263.8 1306.1L1263.8 1296.1L1269.3 1290.6ZM1281.9 1204.7L1287.4 1210.2L1287.4 1220.2L1281.9 1225.7L1271.9 1225.7L1266.4 1220.2L1266.4 1210.2L1271.9 1204.7ZM1284.5 1111L1290 1116.5L1290 1126.5L1284.5 1132L1274.5 1132L1269 1126.5L1269 1116.5L1274.5 1111ZM1287 882.6L1292.5 888.1L1292.5 898.1L1287 903.6L1277 903.6L1271.5 898.1L1271.5 888.1L1277 882.6ZM1289.6 662.6L1295.1 668.1L1295.1 678.1L1289.6 683.6L1279.6 683.6L1274.1 678.1L1274.1 668.1L1279.6 662.6ZM1292.2 439L1297.7 444.5L1297.7 454.5L1292.2 460L1282.2 460L1276.7 454.5L1276.7 444.5L1282.2 439ZM1294.7 238.9L1300.2 244.4L1300.2 254.4L1294.7 259.9L1284.7 259.9L1279.2 254.4L1279.2 244.4L1284.7 238.9ZM1297.3 325.4L1302.8 330.9L1302.8 340.9L1297.3 346.4L1287.3 346.4L1281.8 340.9L1281.8 330.9L1287.3 325.4ZM1299.9 489.7L1305.4 495.2L1305.4 505.2L1299.9 510.7L1289.9 510.7L1284.4 505.2L1284.4 495.2L1289.9 489.7ZM1302.5 708.2L1308 713.7L1308 723.6L1302.5 729.2L1292.5 729.2L1287 723.6L1287 713.7L1292.5 708.2ZM1305 816.9L1310.5 822.4L1310.5 832.4L1305 837.9L1295 837.9L1289.5 832.4L1289.5 822.4L1295 816.9ZM1307.6 879.7L1313.1 885.2L1313.1 895.2L1307.6 900.7L1297.6 900.7L1292.1 895.2L1292.1 885.2L1297.6 879.7ZM1310.2 863L1315.7 868.5L1315.7 878.5L1310.2 884L1300.2 884L1294.7 878.5L1294.7 868.5L1300.2 863ZM1312.7 757.3L1318.2 762.8L1318.2 772.8L1312.7 778.3L1302.7 778.3L1297.2 772.8L1297.2 762.8L1302.7 757.3ZM1315.3 601.2L1320.8 606.7L1320.8 616.7L1315.3 622.2L1305.3 622.2L1299.8 616.7L1299.8 606.7L1305.3 601.2ZM1317.9 425.4L1323.4 430.9L1323.4 440.9L1317.9 446.4L1307.9 446.4L1302.4 440.9L1302.4 430.9L1307.9 425.4ZM1320.4 350.9L1325.9 356.4L1325.9 366.4L1320.4 371.9L1310.4 371.9L1304.9 366.4L1304.9 356.4L1310.4 350.9ZM1323 297.6L1328.5 303.1L1328.5 313.1L1323 318.6L1313 318.6L1307.5 313.1L1307.5 303.1L1313 297.6ZM1325.6 372.3L1331.1 377.8L1331.1 387.8L1325.6 393.3L1315.6 393.3L1310.1 387.8L1310.1 377.8L1315.6 372.3ZM1328.2 504.8L1333.7 510.4L1333.7 520.3L1328.2 525.8L1318.2 525.8L1312.7 520.3L1312.7 510.4L1318.2 504.8ZM1330.7 767.8L1336.2 773.3L1336.2 783.3L1330.7 788.8L1320.7 788.8L1315.2 783.3L1315.2 773.3L1320.7 767.8ZM1333.3 1015.9L1338.8 1021.4L1338.8 1031.4L1333.3 1036.9L1323.3 1036.9L1317.8 1031.4L1317.8 1021.4L1323.3 1015.9ZM1335.9 1152.9L1341.4 1158.4L1341.4 1168.4L1335.9 1173.9L1325.9 1173.9L1320.4 1168.4L1320.4 1158.4L1325.9 1152.9ZM1338.4 1228.8L1343.9 1234.3L1343.9 1244.3L1338.4 1249.8L1328.4 1249.8L1322.9 1244.3L1322.9 1234.3L1328.4 1228.8ZM1341 1296.5L1346.5 1302L1346.5 1312L1341 1317.5L1331 1317.5L1325.5 1312L1325.5 1302L1331 1296.5ZM1343.6 1270.2L1349.1 1275.7L1349.1 1285.7L1343.6 1291.2L1333.6 1291.2L1328.1 1285.7L1328.1 1275.7L1333.6 1270.2ZM1346.1 1103.7L1351.6 1109.2L1351.6 1119.2L1346.1 1124.7L1336.1 1124.7L1330.6 1119.2L1330.6 1109.2L1336.1 1103.7ZM1348.7 859.2L1354.2 864.7L1354.2 874.7L1348.7 880.2L1338.7 880.2L1333.2 874.7L1333.2 864.7L1338.7 859.2ZM1351.3 659.3L1356.8 664.8L1356.8 674.8L1351.3 680.3L1341.3 680.3L1335.8 674.8L1335.8 664.8L1341.3 659.3ZM1353.9 477.4L1359.4 482.9L1359.4 492.9L1353.9 498.4L1343.9 498.4L1338.4 492.9L1338.4 482.9L1343.9 477.4ZM1356.4 270.1L1361.9 275.6L1361.9 285.6L1356.4 291.1L1346.4 291.1L1340.9 285.6L1340.9 275.6L1346.4 270.1ZM1359 373.1L1364.5 378.6L1364.5 388.6L1359 394.1L1349 394.1L1343.5 388.6L1343.5 378.6L1349 373.1ZM1361.6 546.1L1367.1 551.6L1367.1 561.6L1361.6 567.1L1351.6 567.1L1346.1 561.6L1346.1 551.6L1351.6 546.1ZM1364.1 694.9L1369.6 700.4L1369.6 710.4L1364.1 715.9L1354.1 715.9L1348.6 710.4L1348.6 700.4L1354.1 694.9ZM1366.7 838.1L1372.2 843.6L1372.2 853.6L1366.7 859.1L1356.7 859.1L1351.2 853.6L1351.2 843.6L1356.7 838.1ZM1369.3 881.3L1374.8 886.8L1374.8 896.8L1369.3 902.3L1359.3 902.3L1353.8 896.8L1353.8 886.8L1359.3 881.3ZM1371.8 861.1L1377.3 866.6L1377.3 876.6L1371.8 882.1L1361.8 882.1L1356.3 876.6L1356.3 866.6L1361.8 861.1ZM1374.4 732.5L1379.9 738L1379.9 748L1374.4 753.5L1364.4 753.5L1358.9 748L1358.9 738L1364.4 732.5ZM1377 614.9L1382.5 620.4L1382.5 630.4L1377 635.9L1367 635.9L1361.5 630.4L1361.5 620.4L1367 614.9ZM1379.6 400.3L1385.1 405.8L1385.1 415.8L1379.6 421.3L1369.6 421.3L1364.1 415.8L1364.1 405.8L1369.6 400.3ZM1382.1 328.4L1387.6 333.9L1387.6 343.9L1382.1 349.4L1372.1 349.4L1366.6 343.9L1366.6 333.9L1372.1 328.4ZM1384.7 297.6L1390.2 303.1L1390.2 313.1L1384.7 318.6L1374.7 318.6L1369.2 313.1L1369.2 303.1L1374.7 297.6ZM1387.3 378.1L1392.8 383.6L1392.8 393.6L1387.3 399.1L1377.3 399.1L1371.8 393.6L1371.8 383.6L1377.3 378.1ZM1389.8 501L1395.3 506.5L1395.3 516.5L1389.8 522L1379.8 522L1374.3 516.5L1374.3 506.5L1379.8 501ZM1392.4 774L1397.9 779.5L1397.9 789.5L1392.4 795L1382.4 795L1376.9 789.5L1376.9 779.5L1382.4 774ZM1395 1007.6L1400.5 1013.1L1400.5 1023.1L1395 1028.6L1385 1028.6L1379.5 1023.1L1379.5 1013.1L1385 1007.6ZM1397.5 1127.1L1403 1132.6L1403 1142.6L1397.5 1148.1L1387.5 1148.1L1382 1142.6L1382 1132.6L1387.5 1127.1ZM1400.1 1241.8L1405.6 1247.3L1405.6 1257.3L1400.1 1262.8L1390.1 1262.8L1384.6 1257.3L1384.6 1247.3L1390.1 1241.8ZM1402.7 1302.2L1408.2 1307.7L1408.2 1317.7L1402.7 1323.2L1392.7 1323.2L1387.2 1317.7L1387.2 1307.7L1392.7 1302.2ZM1405.2 1238.8L1410.8 1244.3L1410.8 1254.3L1405.2 1259.8L1395.3 1259.8L1389.8 1254.3L1389.8 1244.3L1395.3 1238.8ZM1407.8 1073.4L1413.3 1078.9L1413.3 1088.9L1407.8 1094.4L1397.8 1094.4L1392.3 1088.9L1392.3 1078.9L1397.8 1073.4ZM1410.4 882.7L1415.9 888.2L1415.9 898.2L1410.4 903.7L1400.4 903.7L1394.9 898.2L1394.9 888.2L1400.4 882.7ZM1413 651.6L1418.5 657.1L1418.5 667.1L1413 672.6L1403 672.6L1397.5 667.1L1397.5 657.1L1403 651.6ZM1415.5 448.5L1421 454L1421 464L1415.5 469.5L1405.5 469.5L1400 464L1400 454L1405.5 448.5ZM1418.1 237.7L1423.6 243.2L1423.6 253.2L1418.1 258.7L1408.1 258.7L1402.6 253.2L1402.6 243.2L1408.1 237.7ZM1420.7 358L1426.2 363.5L1426.2 373.5L1420.7 379L1410.7 379L1405.2 373.5L1405.2 363.5L1410.7 358ZM1423.2 490L1428.7 495.5L1428.7 505.5L1423.2 511L1413.2 511L1407.7 505.5L1407.7 495.5L1413.2 490ZM1425.8 675.6L1431.3 681.1L1431.3 691.1L1425.8 696.6L1415.8 696.6L1410.3 691.1L1410.3 681.1L1415.8 675.6ZM1428.4 823.8L1433.9 829.3L1433.9 839.3L1428.4 844.8L1418.4 844.8L1412.9 839.3L1412.9 829.3L1418.4 823.8ZM1430.9 874.4L1436.4 879.9L1436.4 889.9L1430.9 895.4L1421 895.4L1415.4 889.9L1415.4 879.9L1421 874.4ZM1433.5 845.6L1439 851.1L1439 861.1L1433.5 866.6L1423.5 866.6L1418 861.1L1418 851.1L1423.5 845.6ZM1436.1 745.5L1441.6 751L1441.6 761L1436.1 766.5L1426.1 766.5L1420.6 761L1420.6 751L1426.1 745.5ZM1438.7 599.9L1444.2 605.4L1444.2 615.4L1438.7 620.9L1428.7 620.9L1423.2 615.4L1423.2 605.4L1428.7 599.9ZM1441.2 412.2L1446.7 417.7L1446.7 427.7L1441.2 433.2L1431.2 433.2L1425.7 427.7L1425.7 417.7L1431.2 412.2ZM1443.8 313.5L1449.3 319L1449.3 329L1443.8 334.5L1433.8 334.5L1428.3 329L1428.3 319L1433.8 313.5ZM1446.4 290.5L1451.9 296L1451.9 306L1446.4 311.5L1436.4 311.5L1430.9 306L1430.9 296L1436.4 290.5ZM1448.9 376.9L1454.4 382.4L1454.4 392.4L1448.9 397.9L1438.9 397.9L1433.4 392.4L1433.4 382.4L1438.9 376.9ZM1451.5 512.6L1457 518.1L1457 528.1L1451.5 533.6L1441.5 533.6L1436 528.1L1436 518.1L1441.5 512.6ZM1454.1 784.6L1459.6 790.2L1459.6 800.1L1454.1 805.6L1444.1 805.6L1438.6 800.1L1438.6 790.2L1444.1 784.6ZM1456.6 1007.3L1462.1 1012.8L1462.1 1022.8L1456.6 1028.3L1446.7 1028.3L1441.1 1022.8L1441.1 1012.8L1446.7 1007.3ZM1459.2 1137.6L1464.7 1143.1L1464.7 1153.1L1459.2 1158.6L1449.2 1158.6L1443.7 1153.1L1443.7 1143.1L1449.2 1137.6ZM1461.8 1256.2L1467.3 1261.7L1467.3 1271.7L1461.8 1277.2L1451.8 1277.2L1446.3 1271.7L1446.3 1261.7L1451.8 1256.2ZM1464.4 1292.6L1469.9 1298.1L1469.9 1308.1L1464.4 1313.6L1454.4 1313.6L1448.9 1308.1L1448.9 1298.1L1454.4 1292.6ZM1466.9 1222.6L1472.4 1228.1L1472.4 1238.1L1466.9 1243.6L1456.9 1243.6L1451.4 1238.1L1451.4 1228.1L1456.9 1222.6ZM1469.5 1073.9L1475 1079.4L1475 1089.4L1469.5 1094.9L1459.5 1094.9L1454 1089.4L1454 1079.4L1459.5 1073.9ZM1472.1 864.8L1477.6 870.3L1477.6 880.3L1472.1 885.8L1462.1 885.8L1456.6 880.3L1456.6 870.3L1462.1 864.8ZM1474.6 628.4L1480.1 633.9L1480.1 643.9L1474.6 649.4L1464.6 649.4L1459.1 643.9L1459.1 633.9L1464.6 628.4ZM1477.2 470.4L1482.7 475.9L1482.7 485.9L1477.2 491.4L1467.2 491.4L1461.7 485.9L1461.7 475.9L1467.2 470.4ZM1479.8 263.5L1485.3 269L1485.3 279L1479.8 284.5L1469.8 284.5L1464.3 279L1464.3 269L1469.8 263.5ZM1482.3 375.2L1487.8 380.7L1487.8 390.6L1482.3 396.2L1472.3 396.2L1466.8 390.6L1466.8 380.7L1472.3 375.2ZM1484.9 547.7L1490.4 553.2L1490.4 563.2L1484.9 568.7L1474.9 568.7L1469.4 563.2L1469.4 553.2L1474.9 547.7ZM1487.5 708.1L1493 713.6L1493 723.6L1487.5 729.1L1477.5 729.1L1472 723.6L1472 713.6L1477.5 708.1ZM1490.1 837.2L1495.6 842.7L1495.6 852.7L1490.1 858.2L1480.1 858.2L1474.6 852.7L1474.6 842.7L1480.1 837.2ZM1492.6 917L1498.1 922.5L1498.1 932.5L1492.6 938L1482.6 938L1477.1 932.5L1477.1 922.5L1482.6 917ZM1495.2 843.6L1500.7 849.1L1500.7 859.1L1495.2 864.6L1485.2 864.6L1479.7 859.1L1479.7 849.1L1485.2 843.6ZM1497.8 736.6L1503.3 742.1L1503.3 752.1L1497.8 757.6L1487.8 757.6L1482.3 752.1L1482.3 742.1L1487.8 736.6ZM1500.3 611L1505.8 616.5L1505.8 626.5L1500.3 632L1490.3 632L1484.8 626.5L1484.8 616.5L1490.3 611ZM1502.9 409.2L1508.4 414.7L1508.4 424.7L1502.9 430.2L1492.9 430.2L1487.4 424.7L1487.4 414.7L1492.9 409.2ZM1505.5 327.3L1511 332.8L1511 342.8L1505.5 348.3L1495.5 348.3L1490 342.8L1490 332.8L1495.5 327.3ZM1508 300.5L1513.5 306L1513.5 316L1508 321.5L1498 321.5L1492.5 316L1492.5 306L1498 300.5ZM1510.6 399.2L1516.1 404.7L1516.1 414.7L1510.6 420.2L1500.6 420.2L1495.1 414.7L1495.1 404.7L1500.6 399.2ZM1513.2 499.4L1518.7 504.9L1518.7 514.9L1513.2 520.4L1503.2 520.4L1497.7 514.9L1497.7 504.9L1503.2 499.4ZM1515.8 762.1L1521.3 767.6L1521.3 777.6L1515.8 783.1L1505.8 783.1L1500.3 777.6L1500.3 767.6L1505.8 762.1ZM1518.3 994L1523.8 999.5L1523.8 1009.5L1518.3 1015L1508.3 1015L1502.8 1009.5L1502.8 999.5L1508.3 994ZM1520.9 1126.7L1526.4 1132.2L1526.4 1142.2L1520.9 1147.7L1510.9 1147.7L1505.4 1142.2L1505.4 1132.2L1510.9 1126.7ZM1523.5 1227.7L1529 1233.2L1529 1243.2L1523.5 1248.7L1513.5 1248.7L1508 1243.2L1508 1233.2L1513.5 1227.7ZM1526 1316.6L1531.5 1322.1L1531.5 1332.1L1526 1337.6L1516 1337.6L1510.5 1332.1L1510.5 1322.1L1516 1316.6ZM1528.6 1236.7L1534.1 1242.2L1534.1 1252.2L1528.6 1257.7L1518.6 1257.7L1513.1 1252.2L1513.1 1242.2L1518.6 1236.7ZM1531.2 1090.8L1536.7 1096.3L1536.7 1106.3L1531.2 1111.8L1521.2 1111.8L1515.7 1106.3L1515.7 1096.3L1521.2 1090.8ZM1533.7 897.1L1539.2 902.6L1539.2 912.6L1533.7 918.1L1523.7 918.1L1518.2 912.6L1518.2 902.6L1523.7 897.1ZM1536.3 655L1541.8 660.5L1541.8 670.5L1536.3 676L1526.3 676L1520.8 670.5L1520.8 660.5L1526.3 655ZM1538.9 456.4L1544.4 461.9L1544.4 471.9L1538.9 477.4L1528.9 477.4L1523.4 471.9L1523.4 461.9L1528.9 456.4ZM1541.5 251L1547 256.5L1547 266.5L1541.5 272L1531.5 272L1526 266.5L1526 256.5L1531.5 251ZM1544 352.6L1549.5 358.1L1549.5 368.1L1544 373.6L1534 373.6L1528.5 368.1L1528.5 358.1L1534 352.6ZM1546.6 522.2L1552.1 527.7L1552.1 537.7L1546.6 543.2L1536.6 543.2L1531.1 537.7L1531.1 527.7L1536.6 522.2ZM1549.2 681.4L1554.7 686.9L1554.7 696.9L1549.2 702.4L1539.2 702.4L1533.7 696.9L1533.7 686.9L1539.2 681.4ZM1551.7 786.2L1557.2 791.7L1557.2 801.6L1551.7 807.2L1541.7 807.2L1536.2 801.6L1536.2 791.7L1541.7 786.2ZM1554.3 874.2L1559.8 879.7L1559.8 889.7L1554.3 895.2L1544.3 895.2L1538.8 889.7L1538.8 879.7L1544.3 874.2ZM1556.9 835.4L1562.4 840.9L1562.4 850.9L1556.9 856.4L1546.9 856.4L1541.4 850.9L1541.4 840.9L1546.9 835.4ZM1559.4 711.4L1564.9 716.9L1564.9 726.9L1559.4 732.4L1549.4 732.4L1543.9 726.9L1543.9 716.9L1549.4 711.4ZM1562 606L1567.5 611.5L1567.5 621.5L1562 627L1552 627L1546.5 621.5L1546.5 611.5L1552 606ZM1564.6 418.8L1570.1 424.3L1570.1 434.3L1564.6 439.8L1554.6 439.8L1549.1 434.3L1549.1 424.3L1554.6 418.8ZM1567.2 313.8L1572.7 319.3L1572.7 329.3L1567.2 334.8L1557.2 334.8L1551.7 329.3L1551.7 319.3L1557.2 313.8ZM1569.7 303.4L1575.2 308.9L1575.2 318.9L1569.7 324.4L1559.7 324.4L1554.2 318.9L1554.2 308.9L1559.7 303.4ZM1572.3 388.5L1577.8 394L1577.8 404L1572.3 409.5L1562.3 409.5L1556.8 404L1556.8 394L1562.3 388.5ZM1574.9 541L1580.4 546.5L1580.4 556.5L1574.9 562L1564.9 562L1559.4 556.5L1559.4 546.5L1564.9 541ZM1577.4 797.3L1582.9 802.8L1582.9 812.8L1577.4 818.3L1567.4 818.3L1561.9 812.8L1561.9 802.8L1567.4 797.3ZM1580 988.7L1585.5 994.2L1585.5 1004.2L1580 1009.7L1570 1009.7L1564.5 1004.2L1564.5 994.2L1570 988.7ZM1582.6 1105.9L1588.1 1111.4L1588.1 1121.4L1582.6 1126.9L1572.6 1126.9L1567.1 1121.4L1567.1 1111.4L1572.6 1105.9ZM1585.1 1204.4L1590.6 1209.9L1590.6 1219.9L1585.1 1225.4L1575.1 1225.4L1569.6 1219.9L1569.6 1209.9L1575.1 1204.4ZM1587.7 1318.7L1593.2 1324.2L1593.2 1334.2L1587.7 1339.7L1577.7 1339.7L1572.2 1334.2L1572.2 1324.2L1577.7 1318.7ZM1590.3 1229.3L1595.8 1234.8L1595.8 1244.8L1590.3 1250.3L1580.3 1250.3L1574.8 1244.8L1574.8 1234.8L1580.3 1229.3ZM1592.9 1071.3L1598.4 1076.8L1598.4 1086.8L1592.9 1092.3L1582.9 1092.3L1577.4 1086.8L1577.4 1076.8L1582.9 1071.3ZM1595.4 885.9L1600.9 891.4L1600.9 901.4L1595.4 906.9L1585.4 906.9L1579.9 901.4L1579.9 891.4L1585.4 885.9ZM1598 624L1603.5 629.5L1603.5 639.5L1598 645L1588 645L1582.5 639.5L1582.5 629.5L1588 624ZM1600.6 435.4L1606.1 440.9L1606.1 450.9L1600.6 456.4L1590.6 456.4L1585.1 450.9L1585.1 440.9L1590.6 435.4ZM1603.1 238.9L1608.6 244.4L1608.6 254.4L1603.1 259.9L1593.1 259.9L1587.6 254.4L1587.6 244.4L1593.1 238.9ZM1605.7 367.3L1611.2 372.8L1611.2 382.8L1605.7 388.3L1595.7 388.3L1590.2 382.8L1590.2 372.8L1595.7 367.3ZM1608.3 531.7L1613.8 537.2L1613.8 547.2L1608.3 552.7L1598.3 552.7L1592.8 547.2L1592.8 537.2L1598.3 531.7ZM1610.8 683.7L1616.3 689.2L1616.3 699.2L1610.8 704.7L1600.8 704.7L1595.3 699.2L1595.3 689.2L1600.8 683.7ZM1613.4 834.8L1618.9 840.3L1618.9 850.3L1613.4 855.8L1603.4 855.8L1597.9 850.3L1597.9 840.3L1603.4 834.8ZM1616 889L1621.5 894.5L1621.5 904.5L1616 910L1606 910L1600.5 904.5L1600.5 894.5L1606 889ZM1618.6 818.3L1624.1 823.8L1624.1 833.8L1618.6 839.3L1608.6 839.3L1603.1 833.8L1603.1 823.8L1608.6 818.3ZM1621.1 752.5L1626.6 758L1626.6 768L1621.1 773.5L1611.1 773.5L1605.6 768L1605.6 758L1611.1 752.5ZM1623.7 592L1629.2 597.5L1629.2 607.5L1623.7 613L1613.7 613L1608.2 607.5L1608.2 597.5L1613.7 592ZM1626.3 444.8L1631.8 450.3L1631.8 460.3L1626.3 465.8L1616.3 465.8L1610.8 460.3L1610.8 450.3L1616.3 444.8ZM1628.8 370L1634.3 375.5L1634.3 385.5L1628.8 391L1618.8 391L1613.3 385.5L1613.3 375.5L1618.8 370ZM1631.4 318.4L1636.9 323.9L1636.9 333.9L1631.4 339.4L1621.4 339.4L1615.9 333.9L1615.9 323.9L1621.4 318.4ZM1634 393.9L1639.5 399.4L1639.5 409.4L1634 414.9L1624 414.9L1618.5 409.4L1618.5 399.4L1624 393.9ZM1636.5 504.7L1642 510.2L1642 520.2L1636.5 525.7L1626.5 525.7L1621 520.2L1621 510.2L1626.5 504.7ZM1639.1 778.2L1644.6 783.7L1644.6 793.7L1639.1 799.2L1629.1 799.2L1623.6 793.7L1623.6 783.7L1629.1 778.2ZM1641.7 972.7L1647.2 978.2L1647.2 988.2L1641.7 993.7L1631.7 993.7L1626.2 988.2L1626.2 978.2L1631.7 972.7ZM1644.2 1122.8L1649.8 1128.3L1649.8 1138.3L1644.2 1143.8L1634.3 1143.8L1628.8 1138.3L1628.8 1128.3L1634.3 1122.8ZM1646.8 1248.4L1652.3 1253.9L1652.3 1263.9L1646.8 1269.4L1636.8 1269.4L1631.3 1263.9L1631.3 1253.9L1636.8 1248.4ZM1649.4 1275L1654.9 1280.5L1654.9 1290.5L1649.4 1296L1639.4 1296L1633.9 1290.5L1633.9 1280.5L1639.4 1275ZM1652 1272.4L1657.5 1277.9L1657.5 1287.9L1652 1293.4L1642 1293.4L1636.5 1287.9L1636.5 1277.9L1642 1272.4ZM1654.5 1111.9L1660 1117.4L1660 1127.4L1654.5 1132.9L1644.5 1132.9L1639 1127.4L1639 1117.4L1644.5 1111.9ZM1657.1 868.6L1662.6 874.1L1662.6 884.1L1657.1 889.6L1647.1 889.6L1641.6 884.1L1641.6 874.1L1647.1 868.6ZM1659.7 647.5L1665.2 653L1665.2 663L1659.7 668.5L1649.7 668.5L1644.2 663L1644.2 653L1649.7 647.5ZM1662.2 463.6L1667.7 469.1L1667.7 479.1L1662.2 484.6L1652.2 484.6L1646.7 479.1L1646.7 469.1L1652.2 463.6ZM1664.8 249.3L1670.3 254.8L1670.3 264.8L1664.8 270.3L1654.8 270.3L1649.3 264.8L1649.3 254.8L1654.8 249.3ZM1667.4 372.3L1672.9 377.8L1672.9 387.8L1667.4 393.3L1657.4 393.3L1651.9 387.8L1651.9 377.8L1657.4 372.3ZM1669.9 538.4L1675.5 543.9L1675.5 553.9L1669.9 559.4L1660 559.4L1654.5 553.9L1654.5 543.9L1660 538.4ZM1672.5 693.6L1678 699.1L1678 709.1L1672.5 714.6L1662.5 714.6L1657 709.1L1657 699.1L1662.5 693.6ZM1675.1 839.2L1680.6 844.7L1680.6 854.7L1675.1 860.2L1665.1 860.2L1659.6 854.7L1659.6 844.7L1665.1 839.2ZM1677.7 806.3L1683.2 811.8L1683.2 821.8L1677.7 827.3L1667.7 827.3L1662.2 821.8L1662.2 811.8L1667.7 806.3ZM1680.2 829.7L1685.7 835.2L1685.7 845.2L1680.2 850.7L1670.2 850.7L1664.7 845.2L1664.7 835.2L1670.2 829.7ZM1682.8 814.8L1688.3 820.3L1688.3 830.3L1682.8 835.8L1672.8 835.8L1667.3 830.3L1667.3 820.3L1672.8 814.8ZM1685.4 820.2L1690.9 825.7L1690.9 835.7L1685.4 841.2L1675.4 841.2L1669.9 835.7L1669.9 825.7L1675.4 820.2ZM1687.9 755L1693.4 760.5L1693.4 770.5L1687.9 776L1677.9 776L1672.4 770.5L1672.4 760.5L1677.9 755ZM1690.5 474.7L1696 480.2L1696 490.2L1690.5 495.7L1680.5 495.7L1675 490.2L1675 480.2L1680.5 474.7ZM1693.1 381.7L1698.6 387.2L1698.6 397.2L1693.1 402.7L1683.1 402.7L1677.6 397.2L1677.6 387.2L1683.1 381.7ZM1695.6 294.7L1701.1 300.2L1701.1 310.2L1695.6 315.7L1685.7 315.7L1680.1 310.2L1680.1 300.2L1685.7 294.7ZM1698.2 520.1L1703.7 525.6L1703.7 535.6L1698.2 541.1L1688.2 541.1L1682.7 535.6L1682.7 525.6L1688.2 520.1ZM1700.8 878.6L1706.3 884.1L1706.3 894.1L1700.8 899.6L1690.8 899.6L1685.3 894.1L1685.3 884.1L1690.8 878.6ZM1703.4 1068.9L1708.9 1074.4L1708.9 1084.4L1703.4 1089.9L1693.4 1089.9L1687.9 1084.4L1687.9 1074.4L1693.4 1068.9ZM1705.9 1168.8L1711.4 1174.3L1711.4 1184.3L1705.9 1189.8L1695.9 1189.8L1690.4 1184.3L1690.4 1174.3L1695.9 1168.8ZM1708.5 1313.3L1714 1318.8L1714 1328.8L1708.5 1334.3L1698.5 1334.3L1693 1328.8L1693 1318.8L1698.5 1313.3ZM1711.1 1337.3L1716.6 1342.8L1716.6 1352.8L1711.1 1358.3L1701.1 1358.3L1695.6 1352.8L1695.6 1342.8L1701.1 1337.3ZM1713.6 1348.4L1719.1 1353.9L1719.1 1363.9L1713.6 1369.4L1703.6 1369.4L1698.1 1363.9L1698.1 1353.9L1703.6 1348.4ZM1716.2 1255.4L1721.7 1260.9L1721.7 1270.9L1716.2 1276.4L1706.2 1276.4L1700.7 1270.9L1700.7 1260.9L1706.2 1255.4ZM1718.8 1069.6L1724.3 1075.1L1724.3 1085.1L1718.8 1090.6L1708.8 1090.6L1703.3 1085.1L1703.3 1075.1L1708.8 1069.6ZM1721.3 795.4L1726.8 800.9L1726.8 810.9L1721.3 816.4L1711.4 816.4L1705.8 810.9L1705.8 800.9L1711.4 795.4ZM1723.9 476.7L1729.4 482.2L1729.4 492.2L1723.9 497.7L1713.9 497.7L1708.4 492.2L1708.4 482.2L1713.9 476.7ZM1726.5 439L1732 444.5L1732 454.5L1726.5 460L1716.5 460L1711 454.5L1711 444.5L1716.5 439ZM1729.1 573.5L1734.6 579L1734.6 589L1729.1 594.5L1719.1 594.5L1713.6 589L1713.6 579L1719.1 573.5ZM1731.6 632.9L1737.1 638.4L1737.1 648.4L1731.6 653.9L1721.6 653.9L1716.1 648.4L1716.1 638.4L1721.6 632.9ZM1734.2 719.8L1739.7 725.3L1739.7 735.3L1734.2 740.8L1724.2 740.8L1718.7 735.3L1718.7 725.3L1724.2 719.8ZM1736.8 792.7L1742.3 798.2L1742.3 808.1L1736.8 813.7L1726.8 813.7L1721.3 808.1L1721.3 798.2L1726.8 792.7ZM1739.3 842L1744.8 847.5L1744.8 857.5L1739.3 863L1729.3 863L1723.8 857.5L1723.8 847.5L1729.3 842ZM1741.9 861.3L1747.4 866.8L1747.4 876.8L1741.9 882.3L1731.9 882.3L1726.4 876.8L1726.4 866.8L1731.9 861.3ZM1744.5 851.5L1750 857L1750 867L1744.5 872.5L1734.5 872.5L1729 867L1729 857L1734.5 851.5ZM1747 777.9L1752.5 783.4L1752.5 793.4L1747 798.9L1737 798.9L1731.5 793.4L1731.5 783.4L1737 777.9ZM1749.6 734.3L1755.1 739.8L1755.1 749.8L1749.6 755.3L1739.6 755.3L1734.1 749.8L1734.1 739.8L1739.6 734.3ZM1752.2 473.9L1757.7 479.4L1757.7 489.4L1752.2 494.9L1742.2 494.9L1736.7 489.4L1736.7 479.4L1742.2 473.9ZM1754.8 326.7L1760.3 332.2L1760.3 342.2L1754.8 347.7L1744.8 347.7L1739.3 342.2L1739.3 332.2L1744.8 326.7ZM1757.3 241L1762.8 246.5L1762.8 256.5L1757.3 262L1747.3 262L1741.8 256.5L1741.8 246.5L1747.3 241ZM1759.9 510.9L1765.4 516.4L1765.4 526.4L1759.9 531.9L1749.9 531.9L1744.4 526.4L1744.4 516.4L1749.9 510.9ZM1762.5 915.1L1768 920.6L1768 930.6L1762.5 936.1L1752.5 936.1L1747 930.6L1747 920.6L1752.5 915.1ZM1765 1083.6L1770.5 1089.1L1770.5 1099.1L1765 1104.6L1755 1104.6L1749.5 1099.1L1749.5 1089.1L1755 1083.6ZM1767.6 1195L1773.1 1200.5L1773.1 1210.5L1767.6 1216L1757.6 1216L1752.1 1210.5L1752.1 1200.5L1757.6 1195ZM1770.2 1287L1775.7 1292.5L1775.7 1302.5L1770.2 1308L1760.2 1308L1754.7 1302.5L1754.7 1292.5L1760.2 1287ZM1772.7 1327.9L1778.2 1333.4L1778.2 1343.4L1772.7 1348.9L1762.7 1348.9L1757.2 1343.4L1757.2 1333.4L1762.7 1327.9ZM1775.3 1363.9L1780.8 1369.4L1780.8 1379.4L1775.3 1384.9L1765.3 1384.9L1759.8 1379.4L1759.8 1369.4L1765.3 1363.9ZM1777.9 1220.3L1783.4 1225.8L1783.4 1235.8L1777.9 1241.3L1767.9 1241.3L1762.4 1235.8L1762.4 1225.8L1767.9 1220.3ZM1780.5 1067.8L1786 1073.3L1786 1083.3L1780.5 1088.8L1770.5 1088.8L1765 1083.3L1765 1073.3L1770.5 1067.8ZM1783 805L1788.5 810.5L1788.5 820.5L1783 826L1773 826L1767.5 820.5L1767.5 810.5L1773 805ZM1785.6 514.4L1791.1 519.9L1791.1 529.9L1785.6 535.4L1775.6 535.4L1770.1 529.9L1770.1 519.9L1775.6 514.4ZM1788.2 459.8L1793.7 465.3L1793.7 475.3L1788.2 480.8L1778.2 480.8L1772.7 475.3L1772.7 465.3L1778.2 459.8ZM1790.7 551.7L1796.2 557.2L1796.2 567.2L1790.7 572.7L1780.7 572.7L1775.2 567.2L1775.2 557.2L1780.7 551.7ZM1793.3 626.1L1798.8 631.6L1798.8 641.6L1793.3 647.1L1783.3 647.1L1777.8 641.6L1777.8 631.6L1783.3 626.1ZM1795.9 741.1L1801.4 746.6L1801.4 756.6L1795.9 762.1L1785.9 762.1L1780.4 756.6L1780.4 746.6L1785.9 741.1ZM1798.4 777.6L1803.9 783.1L1803.9 793.1L1798.4 798.6L1788.4 798.6L1782.9 793.1L1782.9 783.1L1788.4 777.6ZM1801 784.9L1806.5 790.4L1806.5 800.4L1801 805.9L1791 805.9L1785.5 800.4L1785.5 790.4L1791 784.9ZM1803.6 831.1L1809.1 836.6L1809.1 846.6L1803.6 852.1L1793.6 852.1L1788.1 846.6L1788.1 836.6L1793.6 831.1ZM1806.2 815.1L1811.7 820.6L1811.7 830.6L1806.2 836.1L1796.2 836.1L1790.7 830.6L1790.7 820.6L1796.2 815.1ZM1808.7 763.9L1814.2 769.4L1814.2 779.4L1808.7 784.9L1798.7 784.9L1793.2 779.4L1793.2 769.4L1798.7 763.9ZM1811.3 717.9L1816.8 723.4L1816.8 733.4L1811.3 738.9L1801.3 738.9L1795.8 733.4L1795.8 723.4L1801.3 717.9ZM1813.9 461.5L1819.4 467L1819.4 477L1813.9 482.5L1803.9 482.5L1798.4 477L1798.4 467L1803.9 461.5ZM1816.4 366.5L1821.9 372L1821.9 382L1816.4 387.5L1806.4 387.5L1800.9 382L1800.9 372L1806.4 366.5ZM1819 277.6L1824.5 283.1L1824.5 293.1L1819 298.6L1809 298.6L1803.5 293.1L1803.5 283.1L1809 277.6ZM1821.6 551.5L1827.1 557L1827.1 567L1821.6 572.5L1811.6 572.5L1806.1 567L1806.1 557L1811.6 551.5ZM1824.1 893.5L1829.6 899L1829.6 909L1824.1 914.5L1814.1 914.5L1808.6 909L1808.6 899L1814.1 893.5ZM1826.7 1078.1L1832.2 1083.6L1832.2 1093.6L1826.7 1099.1L1816.7 1099.1L1811.2 1093.6L1811.2 1083.6L1816.7 1078.1ZM1829.3 1167.2L1834.8 1172.7L1834.8 1182.7L1829.3 1188.2L1819.3 1188.2L1813.8 1182.7L1813.8 1172.7L1819.3 1167.2ZM1831.9 1268.3L1837.4 1273.8L1837.4 1283.8L1831.9 1289.3L1821.9 1289.3L1816.4 1283.8L1816.4 1273.8L1821.9 1268.3ZM1834.4 1341.3L1839.9 1346.8L1839.9 1356.8L1834.4 1362.3L1824.4 1362.3L1818.9 1356.8L1818.9 1346.8L1824.4 1341.3ZM1837 1346.6L1842.5 1352.1L1842.5 1362.1L1837 1367.6L1827 1367.6L1821.5 1362.1L1821.5 1352.1L1827 1346.6ZM1839.6 1210L1845.1 1215.5L1845.1 1225.5L1839.6 1231L1829.6 1231L1824.1 1225.5L1824.1 1215.5L1829.6 1210ZM1842.1 1069.6L1847.6 1075.1L1847.6 1085.1L1842.1 1090.6L1832.1 1090.6L1826.6 1085.1L1826.6 1075.1L1832.1 1069.6ZM1844.7 790.1L1850.2 795.6L1850.2 805.6L1844.7 811.1L1834.7 811.1L1829.2 805.6L1829.2 795.6L1834.7 790.1ZM1847.3 485.2L1852.8 490.7L1852.8 500.7L1847.3 506.2L1837.3 506.2L1831.8 500.7L1831.8 490.7L1837.3 485.2ZM1849.8 439L1855.3 444.5L1855.3 454.5L1849.8 460L1839.8 460L1834.3 454.5L1834.3 444.5L1839.8 439ZM1852.4 554L1857.9 559.5L1857.9 569.5L1852.4 575L1842.4 575L1836.9 569.5L1836.9 559.5L1842.4 554ZM1855 656.4L1860.5 661.9L1860.5 671.9L1855 677.4L1845 677.4L1839.5 671.9L1839.5 661.9L1845 656.4ZM1857.6 722.7L1863.1 728.2L1863.1 738.2L1857.6 743.7L1847.6 743.7L1842.1 738.2L1842.1 728.2L1847.6 722.7ZM1860.1 760.5L1865.6 766L1865.6 776L1860.1 781.5L1850.1 781.5L1844.6 776L1844.6 766L1850.1 760.5ZM1862.7 802.2L1868.2 807.7L1868.2 817.7L1862.7 823.2L1852.7 823.2L1847.2 817.7L1847.2 807.7L1852.7 802.2ZM1865.3 873.3L1870.8 878.8L1870.8 888.8L1865.3 894.3L1855.3 894.3L1849.8 888.8L1849.8 878.8L1855.3 873.3ZM1867.8 842.6L1873.3 848.1L1873.3 858.1L1867.8 863.6L1857.8 863.6L1852.3 858.1L1852.3 848.1L1857.8 842.6ZM1870.4 781.5L1875.9 787L1875.9 797L1870.4 802.5L1860.4 802.5L1854.9 797L1854.9 787L1860.4 781.5ZM1873 741.3L1878.5 746.8L1878.5 756.8L1873 762.3L1863 762.3L1857.5 756.8L1857.5 746.8L1863 741.3ZM1875.5 481.9L1881 487.4L1881 497.4L1875.5 502.9L1865.5 502.9L1860 497.4L1860 487.4L1865.5 481.9ZM1878.1 348.1L1883.6 353.6L1883.6 363.6L1878.1 369.1L1868.1 369.1L1862.6 363.6L1862.6 353.6L1868.1 348.1ZM1880.7 247.2L1886.2 252.7L1886.2 262.7L1880.7 268.2L1870.7 268.2L1865.2 262.7L1865.2 252.7L1870.7 247.2ZM1883.2 526.7L1888.8 532.2L1888.8 542.2L1883.2 547.7L1873.3 547.7L1867.8 542.2L1867.8 532.2L1873.3 526.7ZM1885.8 905.6L1891.3 911.1L1891.3 921.1L1885.8 926.6L1875.8 926.6L1870.3 921.1L1870.3 911.1L1875.8 905.6ZM1888.4 1058.5L1893.9 1064L1893.9 1074L1888.4 1079.5L1878.4 1079.5L1872.9 1074L1872.9 1064L1878.4 1058.5ZM1891 1166.2L1896.5 1171.7L1896.5 1181.7L1891 1187.2L1881 1187.2L1875.5 1181.7L1875.5 1171.7L1881 1166.2ZM1893.5 1285.3L1899 1290.8L1899 1300.8L1893.5 1306.3L1883.5 1306.3L1878 1300.8L1878 1290.8L1883.5 1285.3ZM1896.1 1343.8L1901.6 1349.3L1901.6 1359.3L1896.1 1364.8L1886.1 1364.8L1880.6 1359.3L1880.6 1349.3L1886.1 1343.8ZM1898.7 1348.1L1904.2 1353.7L1904.2 1363.6L1898.7 1369.1L1888.7 1369.1L1883.2 1363.6L1883.2 1353.7L1888.7 1348.1ZM1901.2 1237.9L1906.7 1243.4L1906.7 1253.4L1901.2 1258.9L1891.2 1258.9L1885.7 1253.4L1885.7 1243.4L1891.2 1237.9ZM1903.8 1036.6L1909.3 1042.1L1909.3 1052.1L1903.8 1057.6L1893.8 1057.6L1888.3 1052.1L1888.3 1042.1L1893.8 1036.6ZM1906.4 802.4L1911.9 807.9L1911.9 817.9L1906.4 823.4L1896.4 823.4L1890.9 817.9L1890.9 807.9L1896.4 802.4ZM1908.9 497.2L1914.5 502.7L1914.5 512.7L1908.9 518.2L1899 518.2L1893.5 512.7L1893.5 502.7L1899 497.2ZM1911.5 447.4L1917 452.9L1917 462.8L1911.5 468.4L1901.5 468.4L1896 462.8L1896 452.9L1901.5 447.4ZM1914.1 550.4L1919.6 555.9L1919.6 565.9L1914.1 571.4L1904.1 571.4L1898.6 565.9L1898.6 555.9L1904.1 550.4ZM1916.7 647.5L1922.2 653L1922.2 663L1916.7 668.5L1906.7 668.5L1901.2 663L1901.2 653L1906.7 647.5ZM1919.2 707.2L1924.7 712.7L1924.7 722.7L1919.2 728.2L1909.2 728.2L1903.7 722.7L1903.7 712.7L1909.2 707.2ZM1921.8 824.7L1927.3 830.2L1927.3 840.2L1921.8 845.7L1911.8 845.7L1906.3 840.2L1906.3 830.2L1911.8 824.7Z" fill="#4DBEEE"/>
<polyline points="192.4,743.5 195,776 197.5,738.3 200.1,765.3 202.7,681.4 205.2,408.6 207.8,311.7 210.4,304.3 213,522 215.5,726.5 218.1,870.6 220.7,1013.3 223.2,1124.8 225.8,1137.8 228.4,1307.3 230.9,1070.3 233.5,746.6 236.1,468.6 238.7,458.1 241.2,588 243.8,744.8 246.4,787.4 248.9,713.7 251.5,776.3 254.1,723.5 256.6,777.1 259.2,741.4 261.8,787 264.4,630.1 266.9,365.1 269.5,306.5 272.1,311 274.6,514.4 277.2,711 279.8,885.7 282.3,1020.7 284.9,1083.7 287.5,1147 290.1,1214.8 292.6,1034.2 295.2,715.1 297.8,473 300.3,464.3 302.9,631.2 305.5,734.1 308,786.1 310.6,765.9 313.2,741 315.8,716.4 318.3,787.5 320.9,738.8 323.5,803.8 326,629.6 328.6,354 331.2,322.2 333.7,276.9 336.3,472 338.9,709.7 341.5,887.8 344,999.4 346.6,1079.6 349.2,1126.2 351.7,1258.4 354.3,1032.9 356.9,747.6 359.4,519.7 362,419.1 364.6,602.3 367.2,723.4 369.7,759.5 372.3,741.9 374.9,761.7 377.4,755 380,763.7 382.6,696.3 385.1,759.5 387.7,675.1 390.3,330.7 392.9,284.5 395.4,271.9 398,456.6 400.6,712.1 403.1,903.6 405.7,1005.9 408.3,1099.6 410.8,1189.9 413.4,1333.3 416,1048.7 418.6,723.8 421.1,497.9 423.7,456.5 426.3,608.4 428.8,712.4 431.4,747.3 434,742.2 436.5,763.2 439.1,754 441.7,772.8 444.2,726.2 446.8,806.4 449.4,679.1 452,357 454.5,297.4 457.1,303.1 459.7,512.8 462.2,690.9 464.8,867.2 467.4,1011.1 469.9,1058.8 472.5,1152.8 475.1,1217.7 477.7,1043.6 480.2,766.1 482.8,504.9 485.4,461.7 487.9,596.1 490.5,694 493.1,798.1 495.6,753 498.2,760.2 500.8,751.7 503.4,750.7 505.9,692.7 508.5,799.8 511.1,651.4 513.6,378.9 516.2,314.6 518.8,301.8 521.3,499.9 523.9,712.6 526.5,894.4 529.1,1014.6 531.6,1104.2 534.2,1140.5 536.8,1305.8 539.3,1054.8 541.9,733.8 544.5,517.3 547,458.8 549.6,623.2 552.2,718.2 554.8,766.4 557.3,720.3 559.9,777.1 562.5,717.3 565,732.8 567.6,697.4 570.2,727.6 572.7,659 575.3,505.5 577.9,361.4 580.5,280.6 583,532.8 585.6,796.7 588.2,1075.2 590.7,1216.5 593.3,1306.6 595.9,1353.5 598.4,1377.1 601,1255.2 603.6,1111.6 606.2,1015.9 608.7,642.1 611.3,573.4 613.9,672.5 616.4,720.7 619,718.5 621.6,766.8 624.1,769 626.7,745.5 629.3,725.5 631.9,712.6 634.4,654.4 637,477.5 639.6,365.8 642.1,301 644.7,537.6 647.3,829.4 649.8,1099.4 652.4,1206.8 655,1274.4 657.6,1342.6 660.1,1343 662.7,1233.9 665.3,1111 667.8,975.1 670.4,650.8 673,580.1 675.5,696.1 678.1,755.3 680.7,732 683.3,745.1 685.8,722.7 688.4,742.3 691,739.8 693.5,741 696.1,652.4 698.7,458.2 701.2,357.5 703.8,247.3 706.4,540.2 708.9,835.8 711.5,1116.8 714.1,1204.8 716.7,1269.2 719.2,1328.5 721.8,1332.9 724.4,1239.2 726.9,1155.1 729.5,977.4 732.1,639.1 734.6,567.1 737.2,695.6 739.8,762.6 742.4,735 744.9,744.3 747.5,739 750.1,743.7 752.6,697.1 755.2,749 757.8,674.6 760.3,470.4 762.9,388.9 765.5,283.1 768.1,522.6 770.6,849.5 773.2,1083 775.8,1223.3 778.3,1275.5 780.9,1363.9 783.5,1369.7 786,1264.8 788.6,1122.1 791.2,1007.1 793.8,639.5 796.3,545.8 798.9,675.5 801.5,745 804,710.6 806.6,773.4 809.2,730 811.7,782.1 814.3,744.3 816.9,729.5 819.5,686.6 822,489.6 824.6,345.7 827.2,253.2 829.7,506.3 832.3,806.3 834.9,1096.1 837.4,1213 840,1299.8 842.6,1369.3 845.2,1355.8 847.7,1242.6 850.3,1125.1 852.9,1018.2 855.4,653.6 858,556.6 860.6,675.6 863.1,765.1 865.7,756.6 868.3,769.8 870.9,755.6 873.4,756.1 876,729.4 878.6,741.1 881.1,666.2 883.7,443.2 886.3,322 888.8,244.4 891.4,503.6 894,815.8 896.6,1072.6 899.1,1219 901.7,1261.3 904.3,1377.9 906.8,1341.6 909.4,1266.6 912,1124.1 914.5,992.8 917.1,684.5 919.7,590.8 922.3,665.7 924.8,759.1 927.4,717.4 930,746.3 932.5,837.9 935.1,774.9 937.7,658.6 940.2,506.7 942.8,430.3 945.4,362.6 947.9,324.7 950.5,410.1 953.1,534.3 955.7,869.1 958.2,1101.9 960.8,1203 963.4,1251.8 965.9,1306.6 968.5,1264.8 971.1,1070.1 973.6,931.5 976.2,743.4 978.8,589.4 981.4,544.2 983.9,620.8 986.5,680.1 989.1,760.1 991.6,814.1 994.2,835.3 996.8,773.9 999.3,663.7 1001.9,513.5 1004.5,432.7 1007.1,356.9 1009.6,316.4 1012.2,416.3 1014.8,515.3 1017.3,879.6 1019.9,1079.6 1022.5,1196.6 1025,1278.5 1027.6,1285.2 1030.2,1268.8 1032.8,1114 1035.3,930.8 1037.9,738.6 1040.5,610.5 1043,552.7 1045.6,621.4 1048.2,703.4 1050.7,746 1053.3,813 1055.9,829.7 1058.5,748.8 1061,685.6 1063.6,524 1066.2,423.4 1068.7,320.7 1071.3,314.3 1073.9,370.5 1076.4,529.9 1079,886.3 1081.6,1053.5 1084.2,1162.4 1086.7,1245.3 1089.3,1309.4 1091.9,1253.9 1094.4,1098.3 1097,929.1 1099.6,696.4 1102.1,612.4 1104.7,504.1 1107.3,610 1109.9,711.5 1112.4,757.3 1115,800.4 1117.6,842.6 1120.1,756.5 1122.7,643.7 1125.3,515 1127.8,424.2 1130.4,344.3 1133,312.2 1135.6,383.1 1138.1,528.8 1140.7,878.1 1143.3,1102.6 1145.8,1196.6 1148.4,1254.5 1151,1321.1 1153.5,1266.7 1156.1,1094.1 1158.7,883.6 1161.3,723.9 1163.8,641.9 1166.4,519.2 1169,601.3 1171.5,724.2 1174.1,761.4 1176.7,791.8 1179.2,835.2 1181.8,790.8 1184.4,647.9 1186.9,515 1189.5,423.9 1192.1,367.7 1194.7,319.3 1197.2,388 1199.8,561.8 1202.4,898.1 1204.9,1058.9 1207.5,1212.2 1210.1,1301.8 1212.6,1338.3 1215.2,1267.5 1217.8,1102.1 1220.4,884.1 1222.9,728.4 1225.5,593.8 1228.1,525 1230.6,593.8 1233.2,686 1235.8,740 1238.3,791.7 1240.9,848.5 1243.5,753.5 1246.1,673 1248.6,540.2 1251.2,423.8 1253.8,357.5 1256.3,321 1258.9,404.6 1261.5,556.6 1264,889.8 1266.6,1108.4 1269.2,1192.1 1271.8,1260.8 1274.3,1298.6 1276.9,1274.9 1279.5,1117.4 1282,892.6 1284.6,720 1287.2,607.5 1289.7,516.3 1292.3,615.6 1294.9,698 1297.5,745.3 1300,818.6 1302.6,807.3 1305.2,766.3 1307.7,657.6 1310.3,520.2 1312.9,444.2 1315.4,369.7 1318,316.4 1320.6,391.2 1323.2,515.3 1325.7,862.6 1328.3,1064.9 1330.9,1201.9 1333.4,1254.6 1336,1307.2 1338.6,1263.8 1341.1,1110 1343.7,887.9 1346.3,725.2 1348.9,588.5 1351.4,517.5 1354,636.6 1356.6,726 1359.1,782.4 1361.7,807.6 1364.3,795.1 1366.8,781.4 1369.4,672.6 1372,540.7 1374.6,419.1 1377.1,347.2 1379.7,316.4 1382.3,396.9 1384.8,511.5 1387.4,863.9 1390,1061.9 1392.5,1198.5 1395.1,1249.8 1397.7,1311.1 1400.3,1276.5 1402.8,1079.8 1405.4,924.4 1408,708.8 1410.5,644 1413.1,539 1415.7,603.4 1418.2,719.3 1420.8,746.1 1423.4,831.1 1425.9,848.2 1428.5,749.9 1431.1,663.7 1433.7,553.1 1436.2,431.1 1438.8,332.3 1441.4,309.3 1443.9,395.7 1446.5,523.1 1449.1,903.6 1451.6,1087.4 1454.2,1206 1456.8,1277.3 1459.4,1303.1 1461.9,1263.6 1464.5,1080.3 1467.1,923.7 1469.6,693.4 1472.2,608.2 1474.8,539 1477.3,622.7 1479.9,712 1482.5,763 1485.1,818.3 1487.6,828.5 1490.2,754 1492.8,685.3 1495.3,558.2 1497.9,428 1500.5,346.2 1503,319.3 1505.6,418 1508.2,509.9 1510.8,900.2 1513.3,1083.7 1515.9,1204.3 1518.5,1251.2 1521,1328.4 1523.6,1300.9 1526.2,1097.1 1528.7,934.1 1531.3,731.1 1533.9,636.3 1536.5,522.2 1539,645 1541.6,714.3 1544.2,758.7 1546.7,783.9 1549.3,832.9 1551.9,753.1 1554.4,630.5 1557,525.7 1559.6,437.6 1562.2,332.6 1564.7,322.2 1567.3,407.3 1569.9,551.5 1572.4,908.1 1575,1105.1 1577.6,1188.7 1580.1,1276.3 1582.7,1328.4 1585.3,1277 1587.9,1077.6 1590.4,894.6 1593,704.8 1595.6,612 1598.1,525.6 1600.7,598.4 1603.3,689.3 1605.8,789.9 1608.4,775.8 1611,828.7 1613.6,740.5 1616.1,645.1 1618.7,545.2 1621.3,463.6 1623.8,388.8 1626.4,337.2 1629,412.8 1631.5,515.2 1634.1,899 1636.7,1066.4 1639.3,1178.8 1641.8,1281.4 1644.4,1285.5 1647,1282.3 1649.5,1118.2 1652.1,927.9 1654.7,735.8 1657.2,629.9 1659.8,509.9 1662.4,640.5 1665,670.2 1667.5,762.5 1670.1,809.2 1672.7,731.6 1675.2,731.8 1677.8,723.3 1680.4,759.6 1682.9,700.6 1685.5,481.1 1688.1,388 1690.6,301 1693.2,526.4 1695.8,822.4 1698.4,1076.5 1700.9,1179.3 1703.5,1255.4 1706.1,1360.1 1708.6,1371 1711.2,1265.7 1713.8,1156 1716.3,981.2 1718.9,649.5 1721.5,550.7 1724.1,702 1726.6,757.6 1729.2,721.9 1731.8,772 1734.3,744.8 1736.9,763 1739.5,693.6 1742,751.2 1744.6,650 1747.2,480.2 1749.8,333 1752.3,247.3 1754.9,517.3 1757.5,834.3 1760,1061.7 1762.6,1205.5 1765.2,1304.6 1767.7,1337.8 1770.3,1360.9 1772.9,1231 1775.5,1130.5 1778,1006.1 1780.6,656.7 1783.2,577.4 1785.7,672.8 1788.3,742.6 1790.9,743.3 1793.4,720.6 1796,762.5 1798.6,772.9 1801.2,694.5 1803.7,740.1 1806.3,656.8 1808.9,467.8 1811.4,372.8 1814,284 1816.6,557.9 1819.1,848.8 1821.7,1090.8 1824.3,1177.7 1826.9,1282.9 1829.4,1376.8 1832,1385.6 1834.6,1220.5 1837.1,1158.7 1839.7,983.6 1842.3,629.1 1844.8,552.4 1847.4,696 1850,769 1852.6,724.9 1855.1,743.1 1857.7,762.4 1860.3,779 1862.8,713.5 1865.4,711.9 1868,686.5 1870.5,488.2 1873.1,354.5 1875.7,253.6 1878.3,533.1 1880.8,798.2 1883.4,1105.6 1886,1176.7 1888.5,1269.3 1891.1,1335.4 1893.7,1363.1 1896.2,1248.9 1898.8,1143.6 1901.4,979 1904,662.7 1906.5,588.8 1909.1,687.6 1911.7,735.5 1914.2,709.3 1916.8,755.3" fill="none" stroke="#D9B3FF" stroke-width="10" stroke-dasharray="28 25" stroke-linejoin="round"/>
<g fill="none" stroke="#D9B3FF" stroke-width="10">
<circle cx="192.4" cy="743.5" r="9"/><circle cx="195" cy="776" r="9"/><circle cx="197.5" cy="738.3" r="9"/><circle cx="200.1" cy="765.3" r="9"/><circle cx="202.7" cy="681.4" r="9"/><circle cx="205.2" cy="408.6" r="9"/><circle cx="207.8" cy="311.7" r="9"/><circle cx="210.4" cy="304.3" r="9"/><circle cx="213" cy="522" r="9"/><circle cx="215.5" cy="726.5" r="9"/><circle cx="218.1" cy="870.6" r="9"/><circle cx="220.7" cy="1013.3" r="9"/><circle cx="223.2" cy="1124.8" r="9"/><circle cx="225.8" cy="1137.8" r="9"/><circle cx="228.4" cy="1307.3" r="9"/><circle cx="230.9" cy="1070.3" r="9"/><circle cx="233.5" cy="746.6" r="9"/><circle cx="236.1" cy="468.6" r="9"/><circle cx="238.7" cy="458.1" r="9"/><circle cx="241.2" cy="588" r="9"/><circle cx="243.8" cy="744.8" r="9"/><circle cx="246.4" cy="787.4" r="9"/><circle cx="248.9" cy="713.7" r="9"/><circle cx="251.5" cy="776.3" r="9"/><circle cx="254.1" cy="723.5" r="9"/><circle cx="256.6" cy="777.1" r="9"/><circle cx="259.2" cy="741.4" r="9"/><circle cx="261.8" cy="787" r="9"/><circle cx="264.4" cy="630.1" r="9"/><circle cx="266.9" cy="365.1" r="9"/><circle cx="269.5" cy="306.5" r="9"/><circle cx="272.1" cy="311" r="9"/><circle cx="274.6" cy="514.4" r="9"/><circle cx="277.2" cy="711" r="9"/><circle cx="279.8" cy="885.7" r="9"/><circle cx="282.3" cy="1020.7" r="9"/><circle cx="284.9" cy="1083.7" r="9"/><circle cx="287.5" cy="1147" r="9"/><circle cx="290.1" cy="1214.8" r="9"/><circle cx="292.6" cy="1034.2" r="9"/><circle cx="295.2" cy="715.1" r="9"/><circle cx="297.8" cy="473" r="9"/><circle cx="300.3" cy="464.3" r="9"/><circle cx="302.9" cy="631.2" r="9"/><circle cx="305.5" cy="734.1" r="9"/><circle cx="308" cy="786.1" r="9"/><circle cx="310.6" cy="765.9" r="9"/><circle cx="313.2" cy="741" r="9"/><circle cx="315.8" cy="716.4" r="9"/><circle cx="318.3" cy="787.5" r="9"/><circle cx="320.9" cy="738.8" r="9"/><circle cx="323.5" cy="803.8" r="9"/><circle cx="326" cy="629.6" r="9"/><circle cx="328.6" cy="354" r="9"/><circle cx="331.2" cy="322.2" r="9"/><circle cx="333.7" cy="276.9" r="9"/><circle cx="336.3" cy="472" r="9"/><circle cx="338.9" cy="709.7" r="9"/><circle cx="341.5" cy="887.8" r="9"/><circle cx="344" cy="999.4" r="9"/><circle cx="346.6" cy="1079.6" r="9"/><circle cx="349.2" cy="1126.2" r="9"/><circle cx="351.7" cy="1258.4" r="9"/><circle cx="354.3" cy="1032.9" r="9"/><circle cx="356.9" cy="747.6" r="9"/><circle cx="359.4" cy="519.7" r="9"/><circle cx="362" cy="419.1" r="9"/><circle cx="364.6" cy="602.3" r="9"/><circle cx="367.2" cy="723.4" r="9"/><circle cx="369.7" cy="759.5" r="9"/><circle cx="372.3" cy="741.9" r="9"/><circle cx="374.9" cy="761.7" r="9"/><circle cx="377.4" cy="755" r="9"/><circle cx="380" cy="763.7" r="9"/><circle cx="382.6" cy="696.3" r="9"/><circle cx="385.1" cy="759.5" r="9"/><circle cx="387.7" cy="675.1" r="9"/><circle cx="390.3" cy="330.7" r="9"/><circle cx="392.9" cy="284.5" r="9"/><circle cx="395.4" cy="271.9" r="9"/><circle cx="398" cy="456.6" r="9"/><circle cx="400.6" cy="712.1" r="9"/><circle cx="403.1" cy="903.6" r="9"/><circle cx="405.7" cy="1005.9" r="9"/><circle cx="408.3" cy="1099.6" r="9"/><circle cx="410.8" cy="1189.9" r="9"/><circle cx="413.4" cy="1333.3" r="9"/><circle cx="416" cy="1048.7" r="9"/><circle cx="418.6" cy="723.8" r="9"/><circle cx="421.1" cy="497.9" r="9"/><circle cx="423.7" cy="456.5" r="9"/><circle cx="426.3" cy="608.4" r="9"/><circle cx="428.8" cy="712.4" r="9"/><circle cx="431.4" cy="747.3" r="9"/><circle cx="434" cy="742.2" r="9"/><circle cx="436.5" cy="763.2" r="9"/><circle cx="439.1" cy="754" r="9"/><circle cx="441.7" cy="772.8" r="9"/><circle cx="444.2" cy="726.2" r="9"/><circle cx="446.8" cy="806.4" r="9"/><circle cx="449.4" cy="679.1" r="9"/><circle cx="452" cy="357" r="9"/><circle cx="454.5" cy="297.4" r="9"/><circle cx="457.1" cy="303.1" r="9"/><circle cx="459.7" cy="512.8" r="9"/><circle cx="462.2" cy="690.9" r="9"/><circle cx="464.8" cy="867.2" r="9"/><circle cx="467.4" cy="1011.1" r="9"/><circle cx="469.9" cy="1058.8" r="9"/><circle cx="472.5" cy="1152.8" r="9"/><circle cx="475.1" cy="1217.7" r="9"/><circle cx="477.7" cy="1043.6" r="9"/><circle cx="480.2" cy="766.1" r="9"/><circle cx="482.8" cy="504.9" r="9"/><circle cx="485.4" cy="461.7" r="9"/><circle cx="487.9" cy="596.1" r="9"/><circle cx="490.5" cy="694" r="9"/><circle cx="493.1" cy="798.1" r="9"/><circle cx="495.6" cy="753" r="9"/><circle cx="498.2" cy="760.2" r="9"/><circle cx="500.8" cy="751.7" r="9"/><circle cx="503.4" cy="750.7" r="9"/><circle cx="505.9" cy="692.7" r="9"/><circle cx="508.5" cy="799.8" r="9"/><circle cx="511.1" cy="651.4" r="9"/><circle cx="513.6" cy="378.9" r="9"/><circle cx="516.2" cy="314.6" r="9"/><circle cx="518.8" cy="301.8" r="9"/><circle cx="521.3" cy="499.9" r="9"/><circle cx="523.9" cy="712.6" r="9"/><circle cx="526.5" cy="894.4" r="9"/><circle cx="529.1" cy="1014.6" r="9"/><circle cx="531.6" cy="1104.2" r="9"/><circle cx="534.2" cy="1140.5" r="9"/><circle cx="536.8" cy="1305.8" r="9"/><circle cx="539.3" cy="1054.8" r="9"/><circle cx="541.9" cy="733.8" r="9"/><circle cx="544.5" cy="517.3" r="9"/><circle cx="547" cy="458.8" r="9"/><circle cx="549.6" cy="623.2" r="9"/><circle cx="552.2" cy="718.2" r="9"/><circle cx="554.8" cy="766.4" r="9"/><circle cx="557.3" cy="720.3" r="9"/><circle cx="559.9" cy="777.1" r="9"/><circle cx="562.5" cy="717.3" r="9"/><circle cx="565" cy="732.8" r="9"/><circle cx="567.6" cy="697.4" r="9"/><circle cx="570.2" cy="727.6" r="9"/><circle cx="572.7" cy="659" r="9"/><circle cx="575.3" cy="505.5" r="9"/><circle cx="577.9" cy="361.4" r="9"/><circle cx="580.5" cy="280.6" r="9"/><circle cx="583" cy="532.8" r="9"/><circle cx="585.6" cy="796.7" r="9"/><circle cx="588.2" cy="1075.2" r="9"/><circle cx="590.7" cy="1216.5" r="9"/><circle cx="593.3" cy="1306.6" r="9"/><circle cx="595.9" cy="1353.5" r="9"/><circle cx="598.4" cy="1377.1" r="9"/><circle cx="601" cy="1255.2" r="9"/><circle cx="603.6" cy="1111.6" r="9"/><circle cx="606.2" cy="1015.9" r="9"/><circle cx="608.7" cy="642.1" r="9"/><circle cx="611.3" cy="573.4" r="9"/><circle cx="613.9" cy="672.5" r="9"/><circle cx="616.4" cy="720.7" r="9"/><circle cx="619" cy="718.5" r="9"/><circle cx="621.6" cy="766.8" r="9"/><circle cx="624.1" cy="769" r="9"/><circle cx="626.7" cy="745.5" r="9"/><circle cx="629.3" cy="725.5" r="9"/><circle cx="631.9" cy="712.6" r="9"/><circle cx="634.4" cy="654.4" r="9"/><circle cx="637" cy="477.5" r="9"/><circle cx="639.6" cy="365.8" r="9"/><circle cx="642.1" cy="301" r="9"/><circle cx="644.7" cy="537.6" r="9"/><circle cx="647.3" cy="829.4" r="9"/><circle cx="649.8" cy="1099.4" r="9"/><circle cx="652.4" cy="1206.8" r="9"/><circle cx="655" cy="1274.4" r="9"/><circle cx="657.6" cy="1342.6" r="9"/><circle cx="660.1" cy="1343" r="9"/><circle cx="662.7" cy="1233.9" r="9"/><circle cx="665.3" cy="1111" r="9"/><circle cx="667.8" cy="975.1" r="9"/><circle cx="670.4" cy="650.8" r="9"/><circle cx="673" cy="580.1" r="9"/><circle cx="675.5" cy="696.1" r="9"/><circle cx="678.1" cy="755.3" r="9"/><circle cx="680.7" cy="732" r="9"/><circle cx="683.3" cy="745.1" r="9"/><circle cx="685.8" cy="722.7" r="9"/><circle cx="688.4" cy="742.3" r="9"/><circle cx="691" cy="739.8" r="9"/><circle cx="693.5" cy="741" r="9"/><circle cx="696.1" cy="652.4" r="9"/><circle cx="698.7" cy="458.2" r="9"/><circle cx="701.2" cy="357.5" r="9"/><circle cx="703.8" cy="247.3" r="9"/><circle cx="706.4" cy="540.2" r="9"/><circle cx="708.9" cy="835.8" r="9"/><circle cx="711.5" cy="1116.8" r="9"/><circle cx="714.1" cy="1204.8" r="9"/><circle cx="716.7" cy="1269.2" r="9"/><circle cx="719.2" cy="1328.5" r="9"/><circle cx="721.8" cy="1332.9" r="9"/><circle cx="724.4" cy="1239.2" r="9"/><circle cx="726.9" cy="1155.1" r="9"/><circle cx="729.5" cy="977.4" r="9"/><circle cx="732.1" cy="639.1" r="9"/><circle cx="734.6" cy="567.1" r="9"/><circle cx="737.2" cy="695.6" r="9"/><circle cx="739.8" cy="762.6" r="9"/><circle cx="742.4" cy="735" r="9"/><circle cx="744.9" cy="744.3" r="9"/><circle cx="747.5" cy="739" r="9"/><circle cx="750.1" cy="743.7" r="9"/><circle cx="752.6" cy="697.1" r="9"/><circle cx="755.2" cy="749" r="9"/><circle cx="757.8" cy="674.6" r="9"/><circle cx="760.3" cy="470.4" r="9"/><circle cx="762.9" cy="388.9" r="9"/><circle cx="765.5" cy="283.1" r="9"/><circle cx="768.1" cy="522.6" r="9"/><circle cx="770.6" cy="849.5" r="9"/><circle cx="773.2" cy="1083" r="9"/><circle cx="775.8" cy="1223.3" r="9"/><circle cx="778.3" cy="1275.5" r="9"/><circle cx="780.9" cy="1363.9" r="9"/><circle cx="783.5" cy="1369.7" r="9"/><circle cx="786" cy="1264.8" r="9"/><circle cx="788.6" cy="1122.1" r="9"/><circle cx="791.2" cy="1007.1" r="9"/><circle cx="793.8" cy="639.5" r="9"/><circle cx="796.3" cy="545.8" r="9"/><circle cx="798.9" cy="675.5" r="9"/><circle cx="801.5" cy="745" r="9"/><circle cx="804" cy="710.6" r="9"/><circle cx="806.6" cy="773.4" r="9"/><circle cx="809.2" cy="730" r="9"/><circle cx="811.7" cy="782.1" r="9"/><circle cx="814.3" cy="744.3" r="9"/><circle cx="816.9" cy="729.5" r="9"/><circle cx="819.5" cy="686.6" r="9"/><circle cx="822" cy="489.6" r="9"/><circle cx="824.6" cy="345.7" r="9"/><circle cx="827.2" cy="253.2" r="9"/><circle cx="829.7" cy="506.3" r="9"/><circle cx="832.3" cy="806.3" r="9"/><circle cx="834.9" cy="1096.1" r="9"/><circle cx="837.4" cy="1213" r="9"/><circle cx="840" cy="1299.8" r="9"/><circle cx="842.6" cy="1369.3" r="9"/><circle cx="845.2" cy="1355.8" r="9"/><circle cx="847.7" cy="1242.6" r="9"/><circle cx="850.3" cy="1125.1" r="9"/><circle cx="852.9" cy="1018.2" r="9"/><circle cx="855.4" cy="653.6" r="9"/><circle cx="858" cy="556.6" r="9"/><circle cx="860.6" cy="675.6" r="9"/><circle cx="863.1" cy="765.1" r="9"/><circle cx="865.7" cy="756.6" r="9"/><circle cx="868.3" cy="769.8" r="9"/><circle cx="870.9" cy="755.6" r="9"/><circle cx="873.4" cy="756.1" r="9"/><circle cx="876" cy="729.4" r="9"/><circle cx="878.6" cy="741.1" r="9"/><circle cx="881.1" cy="666.2" r="9"/><circle cx="883.7" cy="443.2" r="9"/><circle cx="886.3" cy="322" r="9"/><circle cx="888.8" cy="244.4" r="9"/><circle cx="891.4" cy="503.6" r="9"/><circle cx="894" cy="815.8" r="9"/><circle cx="896.6" cy="1072.6" r="9"/><circle cx="899.1" cy="1219" r="9"/><circle cx="901.7" cy="1261.3" r="9"/><circle cx="904.3" cy="1377.9" r="9"/><circle cx="906.8" cy="1341.6" r="9"/><circle cx="909.4" cy="1266.6" r="9"/><circle cx="912" cy="1124.1" r="9"/><circle cx="914.5" cy="992.8" r="9"/><circle cx="917.1" cy="684.5" r="9"/><circle cx="919.7" cy="590.8" r="9"/><circle cx="922.3" cy="665.7" r="9"/><circle cx="924.8" cy="759.1" r="9"/><circle cx="927.4" cy="717.4" r="9"/><circle cx="930" cy="746.3" r="9"/><circle cx="932.5" cy="837.9" r="9"/><circle cx="935.1" cy="774.9" r="9"/><circle cx="937.7" cy="658.6" r="9"/><circle cx="940.2" cy="506.7" r="9"/><circle cx="942.8" cy="430.3" r="9"/><circle cx="945.4" cy="362.6" r="9"/><circle cx="947.9" cy="324.7" r="9"/><circle cx="950.5" cy="410.1" r="9"/><circle cx="953.1" cy="534.3" r="9"/><circle cx="955.7" cy="869.1" r="9"/><circle cx="958.2" cy="1101.9" r="9"/><circle cx="960.8" cy="1203" r="9"/><circle cx="963.4" cy="1251.8" r="9"/><circle cx="965.9" cy="1306.6" r="9"/><circle cx="968.5" cy="1264.8" r="9"/><circle cx="971.1" cy="1070.1" r="9"/><circle cx="973.6" cy="931.5" r="9"/><circle cx="976.2" cy="743.4" r="9"/><circle cx="978.8" cy="589.4" r="9"/><circle cx="981.4" cy="544.2" r="9"/><circle cx="983.9" cy="620.8" r="9"/><circle cx="986.5" cy="680.1" r="9"/><circle cx="989.1" cy="760.1" r="9"/><circle cx="991.6" cy="814.1" r="9"/><circle cx="994.2" cy="835.3" r="9"/><circle cx="996.8" cy="773.9" r="9"/><circle cx="999.3" cy="663.7" r="9"/><circle cx="1001.9" cy="513.5" r="9"/><circle cx="1004.5" cy="432.7" r="9"/><circle cx="1007.1" cy="356.9" r="9"/><circle cx="1009.6" cy="316.4" r="9"/><circle cx="1012.2" cy="416.3" r="9"/><circle cx="1014.8" cy="515.3" r="9"/><circle cx="1017.3" cy="879.6" r="9"/><circle cx="1019.9" cy="1079.6" r="9"/><circle cx="1022.5" cy="1196.6" r="9"/><circle cx="1025" cy="1278.5" r="9"/><circle cx="1027.6" cy="1285.2" r="9"/><circle cx="1030.2" cy="1268.8" r="9"/><circle cx="1032.8" cy="1114" r="9"/><circle cx="1035.3" cy="930.8" r="9"/><circle cx="1037.9" cy="738.6" r="9"/><circle cx="1040.5" cy="610.5" r="9"/><circle cx="1043" cy="552.7" r="9"/><circle cx="1045.6" cy="621.4" r="9"/><circle cx="1048.2" cy="703.4" r="9"/><circle cx="1050.7" cy="746" r="9"/><circle cx="1053.3" cy="813" r="9"/><circle cx="1055.9" cy="829.7" r="9"/><circle cx="1058.5" cy="748.8" r="9"/><circle cx="1061" cy="685.6" r="9"/><circle cx="1063.6" cy="524" r="9"/><circle cx="1066.2" cy="423.4" r="9"/><circle cx="1068.7" cy="320.7" r="9"/><circle cx="1071.3" cy="314.3" r="9"/><circle cx="1073.9" cy="370.5" r="9"/><circle cx="1076.4" cy="529.9" r="9"/><circle cx="1079" cy="886.3" r="9"/><circle cx="1081.6" cy="1053.5" r="9"/><circle cx="1084.2" cy="1162.4" r="9"/><circle cx="1086.7" cy="1245.3" r="9"/><circle cx="1089.3" cy="1309.4" r="9"/><circle cx="1091.9" cy="1253.9" r="9"/><circle cx="1094.4" cy="1098.3" r="9"/><circle cx="1097" cy="929.1" r="9"/><circle cx="1099.6" cy="696.4" r="9"/><circle cx="1102.1" cy="612.4" r="9"/><circle cx="1104.7" cy="504.1" r="9"/><circle cx="1107.3" cy="610" r="9"/><circle cx="1109.9" cy="711.5" r="9"/><circle cx="1112.4" cy="757.3" r="9"/><circle cx="1115" cy="800.4" r="9"/><circle cx="1117.6" cy="842.6" r="9"/><circle cx="1120.1" cy="756.5" r="9"/><circle cx="1122.7" cy="643.7" r="9"/><circle cx="1125.3" cy="515" r="9"/><circle cx="1127.8" cy="424.2" r="9"/><circle cx="1130.4" cy="344.3" r="9"/><circle cx="1133" cy="312.2" r="9"/><circle cx="1135.6" cy="383.1" r="9"/><circle cx="1138.1" cy="528.8" r="9"/><circle cx="1140.7" cy="878.1" r="9"/><circle cx="1143.3" cy="1102.6" r="9"/><circle cx="1145.8" cy="1196.6" r="9"/><circle cx="1148.4" cy="1254.5" r="9"/><circle cx="1151" cy="1321.1" r="9"/><circle cx="1153.5" cy="1266.7" r="9"/><circle cx="1156.1" cy="1094.1" r="9"/><circle cx="1158.7" cy="883.6" r="9"/><circle cx="1161.3" cy="723.9" r="9"/><circle cx="1163.8" cy="641.9" r="9"/><circle cx="1166.4" cy="519.2" r="9"/><circle cx="1169" cy="601.3" r="9"/><circle cx="1171.5" cy="724.2" r="9"/><circle cx="1174.1" cy="761.4" r="9"/><circle cx="1176.7" cy="791.8" r="9"/><circle cx="1179.2" cy="835.2" r="9"/><circle cx="1181.8" cy="790.8" r="9"/><circle cx="1184.4" cy="647.9" r="9"/><circle cx="1186.9" cy="515" r="9"/><circle cx="1189.5" cy="423.9" r="9"/><circle cx="1192.1" cy="367.7" r="9"/><circle cx="1194.7" cy="319.3" r="9"/><circle cx="1197.2" cy="388" r="9"/><circle cx="1199.8" cy="561.8" r="9"/><circle cx="1202.4" cy="898.1" r="9"/><circle cx="1204.9" cy="1058.9" r="9"/><circle cx="1207.5" cy="1212.2" r="9"/><circle cx="1210.1" cy="1301.8" r="9"/><circle cx="1212.6" cy="1338.3" r="9"/><circle cx="1215.2" cy="1267.5" r="9"/><circle cx="1217.8" cy="1102.1" r="9"/><circle cx="1220.4" cy="884.1" r="9"/><circle cx="1222.9" cy="728.4" r="9"/><circle cx="1225.5" cy="593.8" r="9"/><circle cx="1228.1" cy="525" r="9"/><circle cx="1230.6" cy="593.8" r="9"/><circle cx="1233.2" cy="686" r="9"/><circle cx="1235.8" cy="740" r="9"/><circle cx="1238.3" cy="791.7" r="9"/><circle cx="1240.9" cy="848.5" r="9"/><circle cx="1243.5" cy="753.5" r="9"/><circle cx="1246.1" cy="673" r="9"/><circle cx="1248.6" cy="540.2" r="9"/><circle cx="1251.2" cy="423.8" r="9"/><circle cx="1253.8" cy="357.5" r="9"/><circle cx="1256.3" cy="321" r="9"/><circle cx="1258.9" cy="404.6" r="9"/><circle cx="1261.5" cy="556.6" r="9"/><circle cx="1264" cy="889.8" r="9"/><circle cx="1266.6" cy="1108.4" r="9"/><circle cx="1269.2" cy="1192.1" r="9"/><circle cx="1271.8" cy="1260.8" r="9"/><circle cx="1274.3" cy="1298.6" r="9"/><circle cx="1276.9" cy="1274.9" r="9"/><circle cx="1279.5" cy="1117.4" r="9"/><circle cx="1282" cy="892.6" r="9"/><circle cx="1284.6" cy="720" r="9"/><circle cx="1287.2" cy="607.5" r="9"/><circle cx="1289.7" cy="516.3" r="9"/><circle cx="1292.3" cy="615.6" r="9"/><circle cx="1294.9" cy="698" r="9"/><circle cx="1297.5" cy="745.3" r="9"/><circle cx="1300" cy="818.6" r="9"/><circle cx="1302.6" cy="807.3" r="9"/><circle cx="1305.2" cy="766.3" r="9"/><circle cx="1307.7" cy="657.6" r="9"/><circle cx="1310.3" cy="520.2" r="9"/><circle cx="1312.9" cy="444.2" r="9"/><circle cx="1315.4" cy="369.7" r="9"/><circle cx="1318" cy="316.4" r="9"/><circle cx="1320.6" cy="391.2" r="9"/><circle cx="1323.2" cy="515.3" r="9"/><circle cx="1325.7" cy="862.6" r="9"/><circle cx="1328.3" cy="1064.9" r="9"/><circle cx="1330.9" cy="1201.9" r="9"/><circle cx="1333.4" cy="1254.6" r="9"/><circle cx="1336" cy="1307.2" r="9"/><circle cx="1338.6" cy="1263.8" r="9"/><circle cx="1341.1" cy="1110" r="9"/><circle cx="1343.7" cy="887.9" r="9"/><circle cx="1346.3" cy="725.2" r="9"/><circle cx="1348.9" cy="588.5" r="9"/><circle cx="1351.4" cy="517.5" r="9"/><circle cx="1354" cy="636.6" r="9"/><circle cx="1356.6" cy="726" r="9"/><circle cx="1359.1" cy="782.4" r="9"/><circle cx="1361.7" cy="807.6" r="9"/><circle cx="1364.3" cy="795.1" r="9"/><circle cx="1366.8" cy="781.4" r="9"/><circle cx="1369.4" cy="672.6" r="9"/><circle cx="1372" cy="540.7" r="9"/><circle cx="1374.6" cy="419.1" r="9"/><circle cx="1377.1" cy="347.2" r="9"/><circle cx="1379.7" cy="316.4" r="9"/><circle cx="1382.3" cy="396.9" r="9"/><circle cx="1384.8" cy="511.5" r="9"/><circle cx="1387.4" cy="863.9" r="9"/><circle cx="1390" cy="1061.9" r="9"/><circle cx="1392.5" cy="1198.5" r="9"/><circle cx="1395.1" cy="1249.8" r="9"/><circle cx="1397.7" cy="1311.1" r="9"/><circle cx="1400.3" cy="1276.5" r="9"/><circle cx="1402.8" cy="1079.8" r="9"/><circle cx="1405.4" cy="924.4" r="9"/><circle cx="1408" cy="708.8" r="9"/><circle cx="1410.5" cy="644" r="9"/><circle cx="1413.1" cy="539" r="9"/><circle cx="1415.7" cy="603.4" r="9"/><circle cx="1418.2" cy="719.3" r="9"/><circle cx="1420.8" cy="746.1" r="9"/><circle cx="1423.4" cy="831.1" r="9"/><circle cx="1425.9" cy="848.2" r="9"/><circle cx="1428.5" cy="749.9" r="9"/><circle cx="1431.1" cy="663.7" r="9"/><circle cx="1433.7" cy="553.1" r="9"/><circle cx="1436.2" cy="431.1" r="9"/><circle cx="1438.8" cy="332.3" r="9"/><circle cx="1441.4" cy="309.3" r="9"/><circle cx="1443.9" cy="395.7" r="9"/><circle cx="1446.5" cy="523.1" r="9"/><circle cx="1449.1" cy="903.6" r="9"/><circle cx="1451.6" cy="1087.4" r="9"/><circle cx="1454.2" cy="1206" r="9"/><circle cx="1456.8" cy="1277.3" r="9"/><circle cx="1459.4" cy="1303.1" r="9"/><circle cx="1461.9" cy="1263.6" r="9"/><circle cx="1464.5" cy="1080.3" r="9"/><circle cx="1467.1" cy="923.7" r="9"/><circle cx="1469.6" cy="693.4" r="9"/><circle cx="1472.2" cy="608.2" r="9"/><circle cx="1474.8" cy="539" r="9"/><circle cx="1477.3" cy="622.7" r="9"/><circle cx="1479.9" cy="712" r="9"/><circle cx="1482.5" cy="763" r="9"/><circle cx="1485.1" cy="818.3" r="9"/><circle cx="1487.6" cy="828.5" r="9"/><circle cx="1490.2" cy="754" r="9"/><circle cx="1492.8" cy="685.3" r="9"/><circle cx="1495.3" cy="558.2" r="9"/><circle cx="1497.9" cy="428" r="9"/><circle cx="1500.5" cy="346.2" r="9"/><circle cx="1503" cy="319.3" r="9"/><circle cx="1505.6" cy="418" r="9"/><circle cx="1508.2" cy="509.9" r="9"/><circle cx="1510.8" cy="900.2" r="9"/><circle cx="1513.3" cy="1083.7" r="9"/><circle cx="1515.9" cy="1204.3" r="9"/><circle cx="1518.5" cy="1251.2" r="9"/><circle cx="1521" cy="1328.4" r="9"/><circle cx="1523.6" cy="1300.9" r="9"/><circle cx="1526.2" cy="1097.1" r="9"/><circle cx="1528.7" cy="934.1" r="9"/><circle cx="1531.3" cy="731.1" r="9"/><circle cx="1533.9" cy="636.3" r="9"/><circle cx="1536.5" cy="522.2" r="9"/><circle cx="1539" cy="645" r="9"/><circle cx="1541.6" cy="714.3" r="9"/><circle cx="1544.2" cy="758.7" r="9"/><circle cx="1546.7" cy="783.9" r="9"/><circle cx="1549.3" cy="832.9" r="9"/><circle cx="1551.9" cy="753.1" r="9"/><circle cx="1554.4" cy="630.5" r="9"/><circle cx="1557" cy="525.7" r="9"/><circle cx="1559.6" cy="437.6" r="9"/><circle cx="1562.2" cy="332.6" r="9"/><circle cx="1564.7" cy="322.2" r="9"/><circle cx="1567.3" cy="407.3" r="9"/><circle cx="1569.9" cy="551.5" r="9"/><circle cx="1572.4" cy="908.1" r="9"/><circle cx="1575" cy="1105.1" r="9"/><circle cx="1577.6" cy="1188.7" r="9"/><circle cx="1580.1" cy="1276.3" r="9"/><circle cx="1582.7" cy="1328.4" r="9"/><circle cx="1585.3" cy="1277" r="9"/><circle cx="1587.9" cy="1077.6" r="9"/><circle cx="1590.4" cy="894.6" r="9"/><circle cx="1593" cy="704.8" r="9"/><circle cx="1595.6" cy="612" r="9"/><circle cx="1598.1" cy="525.6" r="9"/><circle cx="1600.7" cy="598.4" r="9"/><circle cx="1603.3" cy="689.3" r="9"/><circle cx="1605.8" cy="789.9" r="9"/><circle cx="1608.4" cy="775.8" r="9"/><circle cx="1611" cy="828.7" r="9"/><circle cx="1613.6" cy="740.5" r="9"/><circle cx="1616.1" cy="645.1" r="9"/><circle cx="1618.7" cy="545.2" r="9"/><circle cx="1621.3" cy="463.6" r="9"/><circle cx="1623.8" cy="388.8" r="9"/><circle cx="1626.4" cy="337.2" r="9"/><circle cx="1629" cy="412.8" r="9"/><circle cx="1631.5" cy="515.2" r="9"/><circle cx="1634.1" cy="899" r="9"/><circle cx="1636.7" cy="1066.4" r="9"/><circle cx="1639.3" cy="1178.8" r="9"/><circle cx="1641.8" cy="1281.4" r="9"/><circle cx="1644.4" cy="1285.5" r="9"/><circle cx="1647" cy="1282.3" r="9"/><circle cx="1649.5" cy="1118.2" r="9"/><circle cx="1652.1" cy="927.9" r="9"/><circle cx="1654.7" cy="735.8" r="9"/><circle cx="1657.2" cy="629.9" r="9"/><circle cx="1659.8" cy="509.9" r="9"/><circle cx="1662.4" cy="640.5" r="9"/><circle cx="1665" cy="670.2" r="9"/><circle cx="1667.5" cy="762.5" r="9"/><circle cx="1670.1" cy="809.2" r="9"/><circle cx="1672.7" cy="731.6" r="9"/><circle cx="1675.2" cy="731.8" r="9"/><circle cx="1677.8" cy="723.3" r="9"/><circle cx="1680.4" cy="759.6" r="9"/><circle cx="1682.9" cy="700.6" r="9"/><circle cx="1685.5" cy="481.1" r="9"/><circle cx="1688.1" cy="388" r="9"/><circle cx="1690.6" cy="301" r="9"/><circle cx="1693.2" cy="526.4" r="9"/><circle cx="1695.8" cy="822.4" r="9"/><circle cx="1698.4" cy="1076.5" r="9"/><circle cx="1700.9" cy="1179.3" r="9"/><circle cx="1703.5" cy="1255.4" r="9"/><circle cx="1706.1" cy="1360.1" r="9"/><circle cx="1708.6" cy="1371" r="9"/><circle cx="1711.2" cy="1265.7" r="9"/><circle cx="1713.8" cy="1156" r="9"/><circle cx="1716.3" cy="981.2" r="9"/><circle cx="1718.9" cy="649.5" r="9"/><circle cx="1721.5" cy="550.7" r="9"/><circle cx="1724.1" cy="702" r="9"/><circle cx="1726.6" cy="757.6" r="9"/><circle cx="1729.2" cy="721.9" r="9"/><circle cx="1731.8" cy="772" r="9"/><circle cx="1734.3" cy="744.8" r="9"/><circle cx="1736.9" cy="763" r="9"/><circle cx="1739.5" cy="693.6" r="9"/><circle cx="1742" cy="751.2" r="9"/><circle cx="1744.6" cy="650" r="9"/><circle cx="1747.2" cy="480.2" r="9"/><circle cx="1749.8" cy="333" r="9"/><circle cx="1752.3" cy="247.3" r="9"/><circle cx="1754.9" cy="517.3" r="9"/><circle cx="1757.5" cy="834.3" r="9"/><circle cx="1760" cy="1061.7" r="9"/><circle cx="1762.6" cy="1205.5" r="9"/><circle cx="1765.2" cy="1304.6" r="9"/><circle cx="1767.7" cy="1337.8" r="9"/><circle cx="1770.3" cy="1360.9" r="9"/><circle cx="1772.9" cy="1231" r="9"/><circle cx="1775.5" cy="1130.5" r="9"/><circle cx="1778" cy="1006.1" r="9"/><circle cx="1780.6" cy="656.7" r="9"/><circle cx="1783.2" cy="577.4" r="9"/><circle cx="1785.7" cy="672.8" r="9"/><circle cx="1788.3" cy="742.6" r="9"/><circle cx="1790.9" cy="743.3" r="9"/><circle cx="1793.4" cy="720.6" r="9"/><circle cx="1796" cy="762.5" r="9"/><circle cx="1798.6" cy="772.9" r="9"/><circle cx="1801.2" cy="694.5" r="9"/><circle cx="1803.7" cy="740.1" r="9"/><circle cx="1806.3" cy="656.8" r="9"/><circle cx="1808.9" cy="467.8" r="9"/><circle cx="1811.4" cy="372.8" r="9"/><circle cx="1814" cy="284" r="9"/><circle cx="1816.6" cy="557.9" r="9"/><circle cx="1819.1" cy="848.8" r="9"/><circle cx="1821.7" cy="1090.8" r="9"/><circle cx="1824.3" cy="1177.7" r="9"/><circle cx="1826.9" cy="1282.9" r="9"/><circle cx="1829.4" cy="1376.8" r="9"/><circle cx="1832" cy="1385.6" r="9"/><circle cx="1834.6" cy="1220.5" r="9"/><circle cx="1837.1" cy="1158.7" r="9"/><circle cx="1839.7" cy="983.6" r="9"/><circle cx="1842.3" cy="629.1" r="9"/><circle cx="1844.8" cy="552.4" r="9"/><circle cx="1847.4" cy="696" r="9"/><circle cx="1850" cy="769" r="9"/><circle cx="1852.6" cy="724.9" r="9"/><circle cx="1855.1" cy="743.1" r="9"/><circle cx="1857.7" cy="762.4" r="9"/><circle cx="1860.3" cy="779" r="9"/><circle cx="1862.8" cy="713.5" r="9"/><circle cx="1865.4" cy="711.9" r="9"/><circle cx="1868" cy="686.5" r="9"/><circle cx="1870.5" cy="488.2" r="9"/><circle cx="1873.1" cy="354.5" r="9"/><circle cx="1875.7" cy="253.6" r="9"/><circle cx="1878.3" cy="533.1" r="9"/><circle cx="1880.8" cy="798.2" r="9"/><circle cx="1883.4" cy="1105.6" r="9"/><circle cx="1886" cy="1176.7" r="9"/><circle cx="1888.5" cy="1269.3" r="9"/><circle cx="1891.1" cy="1335.4" r="9"/><circle cx="1893.7" cy="1363.1" r="9"/><circle cx="1896.2" cy="1248.9" r="9"/><circle cx="1898.8" cy="1143.6" r="9"/><circle cx="1901.4" cy="979" r="9"/><circle cx="1904" cy="662.7" r="9"/><circle cx="1906.5" cy="588.8" r="9"/><circle cx="1909.1" cy="687.6" r="9"/><circle cx="1911.7" cy="735.5" r="9"/><circle cx="1914.2" cy="709.3" r="9"/><circle cx="1916.8" cy="755.3" r="9"/>
</g>
<polyline points="192.4,380.1 195,478.7 197.5,536.9 200.1,632.4 202.7,474.8 205.2,617.4 207.8,526.2 210.4,635.6 213,605.9 215.5,701.6 218.1,668.4 220.7,709.2 223.2,666 225.8,847.3 228.4,716.2 230.9,671.4 233.5,579.1 236.1,686.6 238.7,450.8 241.2,628.5 243.8,471.2 246.4,622.9 248.9,486.2 251.5,613.5 254.1,390.5 256.6,585.5 259.2,473.8 261.8,633.8 264.4,491 266.9,641.1 269.5,528.6 272.1,648.7 274.6,602.3 277.2,716.2 279.8,670 282.3,688.4 284.9,671.4 287.5,830.6 290.1,717.9 292.6,672.5 295.2,555.6 297.8,669.1 300.3,430.3 302.9,615.8 305.5,478.8 308,606.8 310.6,467.9 313.2,604.3 315.8,374.6 318.3,613.4 320.9,454.8 323.5,608 326,474.9 328.6,656.1 331.2,503.6 333.7,656.7 336.3,585.6 338.9,716.8 341.5,657.5 344,695.3 346.6,679 349.2,830.6 351.7,692.3 354.3,677.3 356.9,569.8 359.4,645.3 362,454.2 364.6,620.9 367.2,500.1 369.7,611.7 372.3,462.1 374.9,577.6 377.4,401.3 380,608.9 382.6,460.3 385.1,617.4 387.7,470.1 390.3,641.6 392.9,527.1 395.4,622.7 398,576.4 400.6,701.2 403.1,677.8 405.7,715.2 408.3,688.6 410.8,861.4 413.4,698.8 416,690.5 418.6,589.5 421.1,652.2 423.7,468.4 426.3,626.5 428.8,470 431.4,628.5 434,490.7 436.5,608.5 439.1,381.3 441.7,584.5 444.2,441 446.8,615 449.4,477.6 452,633.9 454.5,493.5 457.1,630.4 459.7,581.9 462.2,711.1 464.8,654.3 467.4,714.9 469.9,693 472.5,840.6 475.1,708 477.7,669.6 480.2,587.9 482.8,680.8 485.4,440.2 487.9,616.4 490.5,464.1 493.1,614.8 495.6,464.6 498.2,592.6 500.8,374.6 503.4,580.5 505.9,454.8 508.5,624.1 511.1,463.3 513.6,624.2 516.2,504 518.8,635.1 521.3,577.5 523.9,714.7 526.5,657.5 529.1,720.3 531.6,702.1 534.2,848.9 536.8,699.7 539.3,688.5 541.9,564.7 544.5,676.2 547,452.2 549.6,627.9 552.2,495.1 554.8,614.7 557.3,455.5 559.9,582.2 562.5,370.1 565,574.4 567.6,502 570.2,632.7 572.7,520.7 575.3,682.4 577.9,615.2 580.5,711.6 583,973.3 585.6,782.1 588.2,1015.3 590.7,841.8 593.3,1009 595.9,841.9 598.4,1003.5 601,789 603.6,1052.8 606.2,825.5 608.7,1012.5 611.3,722.9 613.9,670 616.4,701.1 619,578.3 621.6,636.2 624.1,405.8 626.7,589.8 629.3,491 631.9,626 634.4,521.2 637,682.3 639.6,579.3 642.1,691 644.7,979.3 647.3,800.2 649.8,1015.3 652.4,818.2 655,992.7 657.6,851.5 660.1,987.5 662.7,807.7 665.3,1052.8 667.8,843.8 670.4,1021.3 673,738.7 675.5,695.1 678.1,697.1 680.7,554.9 683.3,631 685.8,412.5 688.4,577.2 691,504.9 693.5,634.3 696.1,531.6 698.7,683.9 701.2,588.7 703.8,696.6 706.4,981.4 708.9,793 711.5,1011.2 714.1,807.4 716.7,990.8 719.2,862.5 721.8,993.3 724.4,783.5 726.9,1032 729.5,804 732.1,1027.2 734.6,721.8 737.2,677.2 739.8,692.2 742.4,584.2 744.9,625.2 747.5,390.5 750.1,611.2 752.6,485.9 755.2,608.2 757.8,527.2 760.3,691.3 762.9,575.2 765.5,681.9 768.1,1009.5 770.6,785.5 773.2,1052.8 775.8,841.2 778.3,1005.7 780.9,856.8 783.5,976.3 786,819 788.6,1056.9 791.2,834 793.8,1004.8 796.3,727.2 798.9,660.8 801.5,715.9 804,591.9 806.6,637.4 809.2,396.7 811.7,588.4 814.3,481.8 816.9,630.8 819.5,538.3 822,669.6 824.6,577.7 827.2,680.8 829.7,992.9 832.3,789.9 834.9,1032 837.4,829.7 840,1015.5 842.6,842.1 845.2,976.4 847.7,816.6 850.3,1061.1 852.9,822.1 855.4,1004.9 858,738.1 860.6,695.7 863.1,682.5 865.7,568.8 868.3,630.5 870.9,396.7 873.4,599.5 876,484 878.6,606.8 881.1,536.5 883.7,671.4 886.3,582.4 888.8,685.3 891.4,971.3 894,773.6 896.6,1056.9 899.1,813.9 901.7,1025 904.3,853.4 906.8,998.3 909.4,797 912,1052.8 914.5,806.9 917.1,1024.3 919.7,731 922.3,689.8 924.8,712.8 927.4,582.2 930,637.6 932.5,385.9 935.1,555.3 937.7,484.9 940.2,599.9 942.8,465.5 945.4,574.7 947.9,505.4 950.5,657.1 953.1,621.3 955.7,757.1 958.2,727.4 960.8,873.2 963.4,994.5 965.9,859.3 968.5,852.2 971.1,719 973.6,740.1 976.2,617.2 978.8,517.9 981.4,603.9 983.9,508.2 986.5,593.3 989.1,456.5 991.6,592 994.2,379.2 996.8,590.7 999.3,446.7 1001.9,615.4 1004.5,457.4 1007.1,592.5 1009.6,513.7 1012.2,616.3 1014.8,628.1 1017.3,766.7 1019.9,726.7 1022.5,884 1025,957.1 1027.6,842.1 1030.2,852 1032.8,747.4 1035.3,740.4 1037.9,601.9 1040.5,544.1 1043,631.6 1045.6,473.6 1048.2,589 1050.7,475.1 1053.3,594.5 1055.9,396.7 1058.5,569.8 1061,472.7 1063.6,600.2 1066.2,454.2 1068.7,590.5 1071.3,526.1 1073.9,620 1076.4,622.1 1079,752.7 1081.6,711 1084.2,855.4 1086.7,961.2 1089.3,841.6 1091.9,847.7 1094.4,734 1097,764.2 1099.6,613.4 1102.1,515.7 1104.7,602.7 1107.3,477.6 1109.9,605.9 1112.4,483.4 1115,593.8 1117.6,396.7 1120.1,567.2 1122.7,462.3 1125.3,607.6 1127.8,481 1130.4,592.2 1133,525.5 1135.6,646.6 1138.1,622.9 1140.7,754.4 1143.3,715.8 1145.8,868.7 1148.4,965.4 1151,824.2 1153.5,869.3 1156.1,729.7 1158.7,748 1161.3,623.4 1163.8,516.1 1166.4,611.9 1169,487.2 1171.5,597.3 1174.1,489 1176.7,585.2 1179.2,392.5 1181.8,554.9 1184.4,469.4 1186.9,584.9 1189.5,449.4 1192.1,583 1194.7,527.6 1197.2,618 1199.8,626.6 1202.4,779.7 1204.9,724.2 1207.5,892.8 1210.1,986.2 1212.6,826.7 1215.2,877.8 1217.8,714.8 1220.4,735 1222.9,629.6 1225.5,545.1 1228.1,628.8 1230.6,507.5 1233.2,578.5 1235.8,485.5 1238.3,576.6 1240.9,399.2 1243.5,587.6 1246.1,454.1 1248.6,579.1 1251.2,477.4 1253.8,577.4 1256.3,505 1258.9,630.9 1261.5,595.8 1264,760.3 1266.6,728.9 1269.2,891.1 1271.8,952.9 1274.3,842.8 1276.9,845.3 1279.5,734 1282,731.2 1284.6,613.6 1287.2,526.2 1289.7,615.2 1292.3,483.5 1294.9,608.7 1297.5,465.8 1300,563 1302.6,376.7 1305.2,571 1307.7,462.1 1310.3,579.6 1312.9,480.7 1315.4,595.3 1318,514.7 1320.6,646.6 1323.2,633.7 1325.7,759.8 1328.3,734.7 1330.9,881.6 1333.4,957.1 1336,861.9 1338.6,875.8 1341.1,724.5 1343.7,767.3 1346.3,627.7 1348.9,533.2 1351.4,595.7 1354,480.9 1356.6,578.9 1359.1,478.7 1361.7,593.7 1364.3,398.4 1366.8,572.2 1369.4,448.2 1372,575.1 1374.6,485.3 1377.1,588.9 1379.7,530.3 1382.3,628.6 1384.8,612.2 1387.4,766 1390,708.2 1392.5,887 1395.1,961.2 1397.7,846.1 1400.3,845 1402.8,717.3 1405.4,766.8 1408,625.3 1410.5,542.6 1413.1,598.3 1415.7,496.9 1418.2,601 1420.8,453.4 1423.4,579.1 1425.9,396.7 1428.5,592.9 1431.1,485.3 1433.7,614.6 1436.2,469.3 1438.8,610.3 1441.4,503.3 1443.9,627.4 1446.5,630.6 1449.1,752.7 1451.6,704.7 1454.2,880.3 1456.8,961.2 1459.4,842 1461.9,874 1464.5,715 1467.1,742.1 1469.6,627 1472.2,535.7 1474.8,634.2 1477.3,491.3 1479.9,599.2 1482.5,463.5 1485.1,580.9 1487.6,392.5 1490.2,566 1492.8,471.8 1495.3,613.7 1497.9,462.6 1500.5,602.4 1503,522.2 1505.6,643.1 1508.2,613.2 1510.8,774.6 1513.3,701 1515.9,855.5 1518.5,986.2 1521,848.3 1523.6,849.8 1526.2,715.4 1528.7,748.8 1531.3,596.1 1533.9,544 1536.5,627 1539,495.5 1541.6,588.9 1544.2,467.8 1546.7,581.3 1549.3,399.2 1551.9,566.6 1554.4,480.3 1557,592.5 1559.6,475.1 1562.2,593.7 1564.7,522.9 1567.3,644 1569.9,615.4 1572.4,779.5 1575,736.1 1577.6,874.7 1580.1,952.9 1582.7,855 1585.3,870 1587.9,742.8 1590.4,756 1593,602.3 1595.6,524.1 1598.1,602.2 1600.7,496.3 1603.3,608.3 1605.8,452 1608.4,566.5 1611,388 1613.6,593.1 1616.1,485.2 1618.7,574.6 1621.3,473.2 1623.8,593.4 1626.4,512.6 1629,644.7 1631.5,601.9 1634.1,756.7 1636.7,724.6 1639.3,861.4 1641.8,965.4 1644.4,855.1 1647,872.9 1649.5,729.7 1652.1,758.5 1654.7,621.5 1657.2,550.9 1659.8,623.9 1662.4,491.8 1665,579.9 1667.5,457.6 1670.1,572.2 1672.7,403.8 1675.2,574.6 1677.8,481.8 1680.4,629.7 1682.9,538.6 1685.5,686.3 1688.1,615.5 1690.6,711.2 1693.2,1010.7 1695.8,770.2 1698.4,1011.6 1700.9,812.8 1703.5,992.4 1706.1,836.2 1708.6,973.3 1711.2,800 1713.8,1050.7 1716.3,829.6 1718.9,1020.4 1721.5,727.4 1724.1,668.3 1726.6,697.2 1729.2,587.8 1731.8,643 1734.3,412.1 1736.9,593.6 1739.5,475.3 1742,632.2 1744.6,513.5 1747.2,682.2 1749.8,608.5 1752.3,708.6 1754.9,971.7 1757.5,788.3 1760,1009.1 1762.6,818 1765.2,995 1767.7,844.6 1770.3,976.3 1772.9,805.1 1775.5,1032 1778,820.9 1780.6,1005.9 1783.2,716.1 1785.7,692.8 1788.3,689.2 1790.9,564.5 1793.4,621.5 1796,390.5 1798.6,588.9 1801.2,478.7 1803.7,634 1806.3,543.1 1808.9,680.3 1811.4,579.9 1814,711.8 1816.6,984.4 1819.1,770.4 1821.7,1041.5 1824.3,812.7 1826.9,998.8 1829.4,861.4 1832,975.2 1834.6,819.1 1837.1,1054 1839.7,841.8 1842.3,1005.8 1844.8,710.5 1847.4,681.2 1850,706.8 1852.6,583.6 1855.1,650 1857.7,396.7 1860.3,576.8 1862.8,503.8 1865.4,606.1 1868,536.6 1870.5,672.9 1873.1,581.8 1875.7,702.9 1878.3,990.1 1880.8,773.9 1883.4,1009.1 1886,832.8 1888.5,1013 1891.1,834.6 1893.7,1008.5 1896.2,812.3 1898.8,1061.1 1901.4,834.6 1904,994.7 1906.5,723.3 1909.1,663.8 1911.7,715.8 1914.2,553.5 1916.8,746.2" fill="none" stroke="#FF0000" stroke-width="9.5" stroke-linejoin="round"/>
<path d="M197.4 369.6L202.9 375.1L202.9 385.1L197.4 390.6L187.4 390.6L181.9 385.1L181.9 375.1L187.4 369.6ZM200 468.2L205.5 473.7L205.5 483.7L200 489.2L190 489.2L184.5 483.7L184.5 473.7L190 468.2ZM202.5 526.4L208 531.9L208 541.9L202.5 547.4L192.5 547.4L187 541.9L187 531.9L192.5 526.4ZM205.1 621.9L210.6 627.4L210.6 637.4L205.1 642.9L195.1 642.9L189.6 637.4L189.6 627.4L195.1 621.9ZM207.7 464.3L213.2 469.8L213.2 479.8L207.7 485.3L197.7 485.3L192.2 479.8L192.2 469.8L197.7 464.3ZM210.2 606.9L215.7 612.4L215.7 622.4L210.2 627.9L200.3 627.9L194.7 622.4L194.7 612.4L200.3 606.9ZM212.8 515.7L218.3 521.2L218.3 531.2L212.8 536.7L202.8 536.7L197.3 531.2L197.3 521.2L202.8 515.7ZM215.4 625.1L220.9 630.6L220.9 640.6L215.4 646.1L205.4 646.1L199.9 640.6L199.9 630.6L205.4 625.1ZM218 595.4L223.5 600.9L223.5 610.9L218 616.4L208 616.4L202.5 610.9L202.5 600.9L208 595.4ZM220.5 691.1L226 696.6L226 706.6L220.5 712.1L210.5 712.1L205 706.6L205 696.6L210.5 691.1ZM223.1 657.9L228.6 663.4L228.6 673.3L223.1 678.9L213.1 678.9L207.6 673.3L207.6 663.4L213.1 657.9ZM225.7 698.7L231.2 704.2L231.2 714.2L225.7 719.7L215.7 719.7L210.2 714.2L210.2 704.2L215.7 698.7ZM228.2 655.5L233.7 661L233.7 671L228.2 676.5L218.2 676.5L212.7 671L212.7 661L218.2 655.5ZM230.8 836.8L236.3 842.3L236.3 852.3L230.8 857.8L220.8 857.8L215.3 852.3L215.3 842.3L220.8 836.8ZM233.4 705.7L238.9 711.2L238.9 721.2L233.4 726.7L223.4 726.7L217.9 721.2L217.9 711.2L223.4 705.7ZM235.9 660.9L241.4 666.4L241.4 676.4L235.9 681.9L226 681.9L220.4 676.4L220.4 666.4L226 660.9ZM238.5 568.6L244 574.1L244 584.1L238.5 589.6L228.5 589.6L223 584.1L223 574.1L228.5 568.6ZM241.1 676.1L246.6 681.6L246.6 691.6L241.1 697.1L231.1 697.1L225.6 691.6L225.6 681.6L231.1 676.1ZM243.7 440.3L249.2 445.8L249.2 455.8L243.7 461.3L233.7 461.3L228.2 455.8L228.2 445.8L233.7 440.3ZM246.2 618L251.7 623.5L251.7 633.5L246.2 639L236.2 639L230.7 633.5L230.7 623.5L236.2 618ZM248.8 460.7L254.3 466.2L254.3 476.2L248.8 481.7L238.8 481.7L233.3 476.2L233.3 466.2L238.8 460.7ZM251.4 612.4L256.9 617.9L256.9 627.9L251.4 633.4L241.4 633.4L235.9 627.9L235.9 617.9L241.4 612.4ZM253.9 475.7L259.4 481.2L259.4 491.2L253.9 496.7L243.9 496.7L238.4 491.2L238.4 481.2L243.9 475.7ZM256.5 603L262 608.5L262 618.4L256.5 624L246.5 624L241 618.4L241 608.5L246.5 603ZM259.1 380L264.6 385.5L264.6 395.5L259.1 401L249.1 401L243.6 395.5L243.6 385.5L249.1 380ZM261.6 575L267.1 580.5L267.1 590.5L261.6 596L251.6 596L246.1 590.5L246.1 580.5L251.6 575ZM264.2 463.3L269.7 468.8L269.7 478.8L264.2 484.3L254.2 484.3L248.7 478.8L248.7 468.8L254.2 463.3ZM266.8 623.3L272.3 628.8L272.3 638.8L266.8 644.3L256.8 644.3L251.3 638.8L251.3 628.8L256.8 623.3ZM269.4 480.5L274.9 486L274.9 496L269.4 501.5L259.4 501.5L253.9 496L253.9 486L259.4 480.5ZM271.9 630.6L277.4 636.1L277.4 646.1L271.9 651.6L261.9 651.6L256.4 646.1L256.4 636.1L261.9 630.6ZM274.5 518.1L280 523.6L280 533.6L274.5 539.1L264.5 539.1L259 533.6L259 523.6L264.5 518.1ZM277.1 638.2L282.6 643.7L282.6 653.7L277.1 659.2L267.1 659.2L261.6 653.7L261.6 643.7L267.1 638.2ZM279.6 591.8L285.1 597.3L285.1 607.3L279.6 612.8L269.6 612.8L264.1 607.3L264.1 597.3L269.6 591.8ZM282.2 705.7L287.7 711.2L287.7 721.2L282.2 726.7L272.2 726.7L266.7 721.2L266.7 711.2L272.2 705.7ZM284.8 659.5L290.3 665L290.3 675L284.8 680.5L274.8 680.5L269.3 675L269.3 665L274.8 659.5ZM287.3 677.9L292.8 683.4L292.8 693.4L287.3 698.9L277.3 698.9L271.8 693.4L271.8 683.4L277.3 677.9ZM289.9 660.9L295.4 666.4L295.4 676.4L289.9 681.9L279.9 681.9L274.4 676.4L274.4 666.4L279.9 660.9ZM292.5 820.1L298 825.6L298 835.6L292.5 841.1L282.5 841.1L277 835.6L277 825.6L282.5 820.1ZM295.1 707.4L300.6 712.9L300.6 722.9L295.1 728.4L285.1 728.4L279.6 722.9L279.6 712.9L285.1 707.4ZM297.6 662L303.1 667.5L303.1 677.5L297.6 683L287.6 683L282.1 677.5L282.1 667.5L287.6 662ZM300.2 545.1L305.7 550.6L305.7 560.6L300.2 566.1L290.2 566.1L284.7 560.6L284.7 550.6L290.2 545.1ZM302.8 658.6L308.3 664.1L308.3 674.1L302.8 679.6L292.8 679.6L287.3 674.1L287.3 664.1L292.8 658.6ZM305.3 419.8L310.8 425.3L310.8 435.3L305.3 440.8L295.3 440.8L289.8 435.3L289.8 425.3L295.3 419.8ZM307.9 605.3L313.4 610.8L313.4 620.7L307.9 626.3L297.9 626.3L292.4 620.7L292.4 610.8L297.9 605.3ZM310.5 468.3L316 473.8L316 483.8L310.5 489.3L300.5 489.3L295 483.8L295 473.8L300.5 468.3ZM313 596.3L318.5 601.8L318.5 611.8L313 617.3L303 617.3L297.5 611.8L297.5 601.8L303 596.3ZM315.6 457.4L321.1 462.9L321.1 472.9L315.6 478.4L305.6 478.4L300.1 472.9L300.1 462.9L305.6 457.4ZM318.2 593.8L323.7 599.3L323.7 609.3L318.2 614.8L308.2 614.8L302.7 609.3L302.7 599.3L308.2 593.8ZM320.8 364.1L326.3 369.6L326.3 379.6L320.8 385.1L310.8 385.1L305.3 379.6L305.3 369.6L310.8 364.1ZM323.3 602.9L328.8 608.4L328.8 618.4L323.3 623.9L313.3 623.9L307.8 618.4L307.8 608.4L313.3 602.9ZM325.9 444.3L331.4 449.9L331.4 459.8L325.9 465.3L315.9 465.3L310.4 459.8L310.4 449.9L315.9 444.3ZM328.5 597.5L334 603L334 613L328.5 618.5L318.5 618.5L313 613L313 603L318.5 597.5ZM331 464.4L336.5 469.9L336.5 479.9L331 485.4L321 485.4L315.5 479.9L315.5 469.9L321 464.4ZM333.6 645.6L339.1 651.1L339.1 661.1L333.6 666.6L323.6 666.6L318.1 661.1L318.1 651.1L323.6 645.6ZM336.2 493.1L341.7 498.6L341.7 508.6L336.2 514.1L326.2 514.1L320.7 508.6L320.7 498.6L326.2 493.1ZM338.7 646.2L344.2 651.7L344.2 661.7L338.7 667.2L328.7 667.2L323.2 661.7L323.2 651.7L328.7 646.2ZM341.3 575.1L346.8 580.6L346.8 590.5L341.3 596.1L331.3 596.1L325.8 590.5L325.8 580.6L331.3 575.1ZM343.9 706.3L349.4 711.8L349.4 721.8L343.9 727.3L333.9 727.3L328.4 721.8L328.4 711.8L333.9 706.3ZM346.5 647L352 652.5L352 662.5L346.5 668L336.5 668L331 662.5L331 652.5L336.5 647ZM349 684.8L354.5 690.3L354.5 700.3L349 705.8L339 705.8L333.5 700.3L333.5 690.3L339 684.8ZM351.6 668.5L357.1 674L357.1 684L351.6 689.5L341.6 689.5L336.1 684L336.1 674L341.6 668.5ZM354.2 820.1L359.7 825.6L359.7 835.6L354.2 841.1L344.2 841.1L338.7 835.6L338.7 825.6L344.2 820.1ZM356.7 681.8L362.2 687.3L362.2 697.3L356.7 702.8L346.7 702.8L341.2 697.3L341.2 687.3L346.7 681.8ZM359.3 666.8L364.8 672.3L364.8 682.3L359.3 687.8L349.3 687.8L343.8 682.3L343.8 672.3L349.3 666.8ZM361.9 559.3L367.4 564.8L367.4 574.8L361.9 580.3L351.9 580.3L346.4 574.8L346.4 564.8L351.9 559.3ZM364.4 634.8L369.9 640.3L369.9 650.3L364.4 655.8L354.4 655.8L348.9 650.3L348.9 640.3L354.4 634.8ZM367 443.7L372.5 449.2L372.5 459.2L367 464.7L357 464.7L351.5 459.2L351.5 449.2L357 443.7ZM369.6 610.4L375.1 615.9L375.1 625.9L369.6 631.4L359.6 631.4L354.1 625.9L354.1 615.9L359.6 610.4ZM372.2 489.6L377.7 495.1L377.7 505.1L372.2 510.6L362.2 510.6L356.7 505.1L356.7 495.1L362.2 489.6ZM374.7 601.2L380.2 606.7L380.2 616.7L374.7 622.2L364.7 622.2L359.2 616.7L359.2 606.7L364.7 601.2ZM377.3 451.6L382.8 457.1L382.8 467.1L377.3 472.6L367.3 472.6L361.8 467.1L361.8 457.1L367.3 451.6ZM379.9 567.1L385.4 572.7L385.4 582.6L379.9 588.1L369.9 588.1L364.4 582.6L364.4 572.7L369.9 567.1ZM382.4 390.8L387.9 396.3L387.9 406.3L382.4 411.8L372.4 411.8L366.9 406.3L366.9 396.3L372.4 390.8ZM385 598.4L390.5 603.9L390.5 613.9L385 619.4L375 619.4L369.5 613.9L369.5 603.9L375 598.4ZM387.6 449.8L393.1 455.3L393.1 465.3L387.6 470.8L377.6 470.8L372.1 465.3L372.1 455.3L377.6 449.8ZM390.1 606.9L395.6 612.4L395.6 622.4L390.1 627.9L380.1 627.9L374.6 622.4L374.6 612.4L380.1 606.9ZM392.7 459.6L398.2 465.1L398.2 475.1L392.7 480.6L382.7 480.6L377.2 475.1L377.2 465.1L382.7 459.6ZM395.3 631.1L400.8 636.6L400.8 646.6L395.3 652.1L385.3 652.1L379.8 646.6L379.8 636.6L385.3 631.1ZM397.8 516.6L403.4 522.1L403.4 532.1L397.8 537.6L387.9 537.6L382.4 532.1L382.4 522.1L387.9 516.6ZM400.4 612.2L405.9 617.7L405.9 627.7L400.4 633.2L390.4 633.2L384.9 627.7L384.9 617.7L390.4 612.2ZM403 565.9L408.5 571.4L408.5 581.4L403 586.9L393 586.9L387.5 581.4L387.5 571.4L393 565.9ZM405.6 690.7L411.1 696.2L411.1 706.2L405.6 711.7L395.6 711.7L390.1 706.2L390.1 696.2L395.6 690.7ZM408.1 667.3L413.6 672.8L413.6 682.8L408.1 688.3L398.1 688.3L392.6 682.8L392.6 672.8L398.1 667.3ZM410.7 704.7L416.2 710.2L416.2 720.1L410.7 725.7L400.7 725.7L395.2 720.1L395.2 710.2L400.7 704.7ZM413.3 678.1L418.8 683.6L418.8 693.6L413.3 699.1L403.3 699.1L397.8 693.6L397.8 683.6L403.3 678.1ZM415.8 850.9L421.3 856.4L421.3 866.4L415.8 871.9L405.8 871.9L400.3 866.4L400.3 856.4L405.8 850.9ZM418.4 688.3L423.9 693.8L423.9 703.8L418.4 709.3L408.4 709.3L402.9 703.8L402.9 693.8L408.4 688.3ZM421 680L426.5 685.5L426.5 695.5L421 701L411 701L405.5 695.5L405.5 685.5L411 680ZM423.5 579L429.1 584.5L429.1 594.5L423.5 600L413.6 600L408.1 594.5L408.1 584.5L413.6 579ZM426.1 641.7L431.6 647.2L431.6 657.1L426.1 662.7L416.1 662.7L410.6 657.1L410.6 647.2L416.1 641.7ZM428.7 457.9L434.2 463.4L434.2 473.4L428.7 478.9L418.7 478.9L413.2 473.4L413.2 463.4L418.7 457.9ZM431.3 616L436.8 621.5L436.8 631.5L431.3 637L421.3 637L415.8 631.5L415.8 621.5L421.3 616ZM433.8 459.5L439.3 465L439.3 475L433.8 480.5L423.8 480.5L418.3 475L418.3 465L423.8 459.5ZM436.4 618L441.9 623.5L441.9 633.4L436.4 639L426.4 639L420.9 633.4L420.9 623.5L426.4 618ZM439 480.2L444.5 485.7L444.5 495.7L439 501.2L429 501.2L423.5 495.7L423.5 485.7L429 480.2ZM441.5 598L447 603.5L447 613.5L441.5 619L431.5 619L426 613.5L426 603.5L431.5 598ZM444.1 370.8L449.6 376.3L449.6 386.3L444.1 391.8L434.1 391.8L428.6 386.3L428.6 376.3L434.1 370.8ZM446.7 574L452.2 579.5L452.2 589.5L446.7 595L436.7 595L431.2 589.5L431.2 579.5L436.7 574ZM449.2 430.5L454.7 436L454.7 445.9L449.2 451.5L439.3 451.5L433.7 445.9L433.7 436L439.3 430.5ZM451.8 604.5L457.3 610L457.3 620L451.8 625.5L441.8 625.5L436.3 620L436.3 610L441.8 604.5ZM454.4 467.1L459.9 472.6L459.9 482.6L454.4 488.1L444.4 488.1L438.9 482.6L438.9 472.6L444.4 467.1ZM457 623.4L462.5 628.9L462.5 638.9L457 644.4L447 644.4L441.5 638.9L441.5 628.9L447 623.4ZM459.5 483L465 488.5L465 498.5L459.5 504L449.5 504L444 498.5L444 488.5L449.5 483ZM462.1 619.9L467.6 625.5L467.6 635.4L462.1 640.9L452.1 640.9L446.6 635.4L446.6 625.5L452.1 619.9ZM464.7 571.4L470.2 576.9L470.2 586.9L464.7 592.4L454.7 592.4L449.2 586.9L449.2 576.9L454.7 571.4ZM467.2 700.6L472.7 706.1L472.7 716.1L467.2 721.6L457.2 721.6L451.7 716.1L451.7 706.1L457.2 700.6ZM469.8 643.8L475.3 649.3L475.3 659.3L469.8 664.8L459.8 664.8L454.3 659.3L454.3 649.3L459.8 643.8ZM472.4 704.4L477.9 709.9L477.9 719.9L472.4 725.4L462.4 725.4L456.9 719.9L456.9 709.9L462.4 704.4ZM474.9 682.5L480.4 688L480.4 698L474.9 703.5L465 703.5L459.4 698L459.4 688L465 682.5ZM477.5 830.1L483 835.6L483 845.6L477.5 851.1L467.5 851.1L462 845.6L462 835.6L467.5 830.1ZM480.1 697.5L485.6 703L485.6 713L480.1 718.5L470.1 718.5L464.6 713L464.6 703L470.1 697.5ZM482.7 659.1L488.2 664.6L488.2 674.6L482.7 680.1L472.7 680.1L467.2 674.6L467.2 664.6L472.7 659.1ZM485.2 577.4L490.7 582.9L490.7 592.9L485.2 598.4L475.2 598.4L469.7 592.9L469.7 582.9L475.2 577.4ZM487.8 670.3L493.3 675.8L493.3 685.8L487.8 691.3L477.8 691.3L472.3 685.8L472.3 675.8L477.8 670.3ZM490.4 429.7L495.9 435.2L495.9 445.2L490.4 450.7L480.4 450.7L474.9 445.2L474.9 435.2L480.4 429.7ZM492.9 605.9L498.4 611.4L498.4 621.4L492.9 626.9L482.9 626.9L477.4 621.4L477.4 611.4L482.9 605.9ZM495.5 453.6L501 459.1L501 469.1L495.5 474.6L485.5 474.6L480 469.1L480 459.1L485.5 453.6ZM498.1 604.3L503.6 609.8L503.6 619.8L498.1 625.3L488.1 625.3L482.6 619.8L482.6 609.8L488.1 604.3ZM500.6 454.1L506.1 459.6L506.1 469.6L500.6 475.1L490.6 475.1L485.1 469.6L485.1 459.6L490.6 454.1ZM503.2 582.1L508.7 587.6L508.7 597.6L503.2 603.1L493.2 603.1L487.7 597.6L487.7 587.6L493.2 582.1ZM505.8 364.1L511.3 369.6L511.3 379.6L505.8 385.1L495.8 385.1L490.3 379.6L490.3 369.6L495.8 364.1ZM508.4 570L513.9 575.5L513.9 585.5L508.4 591L498.4 591L492.9 585.5L492.9 575.5L498.4 570ZM510.9 444.3L516.4 449.8L516.4 459.8L510.9 465.3L500.9 465.3L495.4 459.8L495.4 449.8L500.9 444.3ZM513.5 613.6L519 619.1L519 629.1L513.5 634.6L503.5 634.6L498 629.1L498 619.1L503.5 613.6ZM516.1 452.8L521.6 458.3L521.6 468.3L516.1 473.8L506.1 473.8L500.6 468.3L500.6 458.3L506.1 452.8ZM518.6 613.7L524.1 619.2L524.1 629.2L518.6 634.7L508.6 634.7L503.1 629.2L503.1 619.2L508.6 613.7ZM521.2 493.5L526.7 499L526.7 509L521.2 514.5L511.2 514.5L505.7 509L505.7 499L511.2 493.5ZM523.8 624.6L529.3 630.1L529.3 640.1L523.8 645.6L513.8 645.6L508.3 640.1L508.3 630.1L513.8 624.6ZM526.3 567L531.8 572.5L531.8 582.5L526.3 588L516.3 588L510.8 582.5L510.8 572.5L516.3 567ZM528.9 704.2L534.4 709.7L534.4 719.7L528.9 725.2L518.9 725.2L513.4 719.7L513.4 709.7L518.9 704.2ZM531.5 647L537 652.5L537 662.5L531.5 668L521.5 668L516 662.5L516 652.5L521.5 647ZM534.1 709.8L539.6 715.3L539.6 725.3L534.1 730.8L524.1 730.8L518.6 725.3L518.6 715.3L524.1 709.8ZM536.6 691.6L542.1 697.1L542.1 707.1L536.6 712.6L526.6 712.6L521.1 707.1L521.1 697.1L526.6 691.6ZM539.2 838.4L544.7 843.9L544.7 853.9L539.2 859.4L529.2 859.4L523.7 853.9L523.7 843.9L529.2 838.4ZM541.8 689.2L547.3 694.7L547.3 704.7L541.8 710.2L531.8 710.2L526.3 704.7L526.3 694.7L531.8 689.2ZM544.3 678L549.8 683.5L549.8 693.5L544.3 699L534.3 699L528.8 693.5L528.8 683.5L534.3 678ZM546.9 554.2L552.4 559.7L552.4 569.7L546.9 575.2L536.9 575.2L531.4 569.7L531.4 559.7L536.9 554.2ZM549.5 665.7L555 671.2L555 681.2L549.5 686.7L539.5 686.7L534 681.2L534 671.2L539.5 665.7ZM552 441.7L557.5 447.2L557.5 457.2L552 462.7L542 462.7L536.5 457.2L536.5 447.2L542 441.7ZM554.6 617.4L560.1 622.9L560.1 632.9L554.6 638.4L544.6 638.4L539.1 632.9L539.1 622.9L544.6 617.4ZM557.2 484.6L562.7 490.1L562.7 500.1L557.2 505.6L547.2 505.6L541.7 500.1L541.7 490.1L547.2 484.6ZM559.8 604.2L565.3 609.7L565.3 619.7L559.8 625.2L549.8 625.2L544.3 619.7L544.3 609.7L549.8 604.2ZM562.3 445L567.8 450.5L567.8 460.5L562.3 466L552.3 466L546.8 460.5L546.8 450.5L552.3 445ZM564.9 571.7L570.4 577.2L570.4 587.2L564.9 592.7L554.9 592.7L549.4 587.2L549.4 577.2L554.9 571.7ZM567.5 359.6L573 365.1L573 375.1L567.5 380.6L557.5 380.6L552 375.1L552 365.1L557.5 359.6ZM570 563.9L575.5 569.4L575.5 579.4L570 584.9L560 584.9L554.5 579.4L554.5 569.4L560 563.9ZM572.6 491.5L578.1 497L578.1 507L572.6 512.5L562.6 512.5L557.1 507L557.1 497L562.6 491.5ZM575.2 622.2L580.7 627.7L580.7 637.7L575.2 643.2L565.2 643.2L559.7 637.7L559.7 627.7L565.2 622.2ZM577.7 510.2L583.2 515.7L583.2 525.7L577.7 531.2L567.7 531.2L562.2 525.7L562.2 515.7L567.7 510.2ZM580.3 671.9L585.8 677.4L585.8 687.4L580.3 692.9L570.3 692.9L564.8 687.4L564.8 677.4L570.3 671.9ZM582.9 604.7L588.4 610.2L588.4 620.2L582.9 625.7L572.9 625.7L567.4 620.2L567.4 610.2L572.9 604.7ZM585.5 701.1L591 706.6L591 716.6L585.5 722.1L575.5 722.1L570 716.6L570 706.6L575.5 701.1ZM588 962.8L593.5 968.3L593.5 978.3L588 983.8L578 983.8L572.5 978.3L572.5 968.3L578 962.8ZM590.6 771.6L596.1 777.1L596.1 787.1L590.6 792.6L580.6 792.6L575.1 787.1L575.1 777.1L580.6 771.6ZM593.2 1004.8L598.7 1010.3L598.7 1020.3L593.2 1025.8L583.2 1025.8L577.7 1020.3L577.7 1010.3L583.2 1004.8ZM595.7 831.3L601.2 836.8L601.2 846.8L595.7 852.3L585.7 852.3L580.2 846.8L580.2 836.8L585.7 831.3ZM598.3 998.5L603.8 1004L603.8 1014L598.3 1019.5L588.3 1019.5L582.8 1014L582.8 1004L588.3 998.5ZM600.9 831.4L606.4 836.9L606.4 846.9L600.9 852.4L590.9 852.4L585.4 846.9L585.4 836.9L590.9 831.4ZM603.4 993L608.9 998.5L608.9 1008.5L603.4 1014L593.4 1014L587.9 1008.5L587.9 998.5L593.4 993ZM606 778.5L611.5 784L611.5 794L606 799.5L596 799.5L590.5 794L590.5 784L596 778.5ZM608.6 1042.3L614.1 1047.8L614.1 1057.8L608.6 1063.3L598.6 1063.3L593.1 1057.8L593.1 1047.8L598.6 1042.3ZM611.2 815L616.7 820.5L616.7 830.5L611.2 836L601.2 836L595.7 830.5L595.7 820.5L601.2 815ZM613.7 1002L619.2 1007.5L619.2 1017.5L613.7 1023L603.7 1023L598.2 1017.5L598.2 1007.5L603.7 1002ZM616.3 712.4L621.8 717.9L621.8 727.9L616.3 733.4L606.3 733.4L600.8 727.9L600.8 717.9L606.3 712.4ZM618.9 659.5L624.4 665L624.4 675L618.9 680.5L608.9 680.5L603.4 675L603.4 665L608.9 659.5ZM621.4 690.6L626.9 696.1L626.9 706.1L621.4 711.6L611.4 711.6L605.9 706.1L605.9 696.1L611.4 690.6ZM624 567.8L629.5 573.3L629.5 583.3L624 588.8L614 588.8L608.5 583.3L608.5 573.3L614 567.8ZM626.6 625.7L632.1 631.2L632.1 641.2L626.6 646.7L616.6 646.7L611.1 641.2L611.1 631.2L616.6 625.7ZM629.1 395.3L634.6 400.8L634.6 410.8L629.1 416.3L619.1 416.3L613.6 410.8L613.6 400.8L619.1 395.3ZM631.7 579.3L637.2 584.8L637.2 594.8L631.7 600.3L621.7 600.3L616.2 594.8L616.2 584.8L621.7 579.3ZM634.3 480.5L639.8 486L639.8 496L634.3 501.5L624.3 501.5L618.8 496L618.8 486L624.3 480.5ZM636.9 615.5L642.4 621L642.4 631L636.9 636.5L626.9 636.5L621.4 631L621.4 621L626.9 615.5ZM639.4 510.7L644.9 516.2L644.9 526.2L639.4 531.7L629.4 531.7L623.9 526.2L623.9 516.2L629.4 510.7ZM642 671.8L647.5 677.3L647.5 687.3L642 692.8L632 692.8L626.5 687.3L626.5 677.3L632 671.8ZM644.6 568.8L650.1 574.3L650.1 584.3L644.6 589.8L634.6 589.8L629.1 584.3L629.1 574.3L634.6 568.8ZM647.1 680.5L652.6 686L652.6 696L647.1 701.5L637.1 701.5L631.6 696L631.6 686L637.1 680.5ZM649.7 968.8L655.2 974.3L655.2 984.3L649.7 989.8L639.7 989.8L634.2 984.3L634.2 974.3L639.7 968.8ZM652.3 789.7L657.8 795.2L657.8 805.2L652.3 810.7L642.3 810.7L636.8 805.2L636.8 795.2L642.3 789.7ZM654.8 1004.8L660.3 1010.3L660.3 1020.3L654.8 1025.8L644.8 1025.8L639.3 1020.3L639.3 1010.3L644.8 1004.8ZM657.4 807.7L662.9 813.2L662.9 823.2L657.4 828.7L647.4 828.7L641.9 823.2L641.9 813.2L647.4 807.7ZM660 982.2L665.5 987.7L665.5 997.7L660 1003.2L650 1003.2L644.5 997.7L644.5 987.7L650 982.2ZM662.5 841L668.1 846.5L668.1 856.5L662.5 862L652.6 862L647.1 856.5L647.1 846.5L652.6 841ZM665.1 977L670.6 982.5L670.6 992.5L665.1 998L655.1 998L649.6 992.5L649.6 982.5L655.1 977ZM667.7 797.2L673.2 802.8L673.2 812.7L667.7 818.2L657.7 818.2L652.2 812.7L652.2 802.8L657.7 797.2ZM670.3 1042.3L675.8 1047.8L675.8 1057.8L670.3 1063.3L660.3 1063.3L654.8 1057.8L654.8 1047.8L660.3 1042.3ZM672.8 833.3L678.3 838.8L678.3 848.8L672.8 854.3L662.8 854.3L657.3 848.8L657.3 838.8L662.8 833.3ZM675.4 1010.8L680.9 1016.3L680.9 1026.3L675.4 1031.8L665.4 1031.8L659.9 1026.3L659.9 1016.3L665.4 1010.8ZM678 728.2L683.5 733.7L683.5 743.7L678 749.2L668 749.2L662.5 743.7L662.5 733.7L668 728.2ZM680.5 684.6L686 690.1L686 700.1L680.5 705.6L670.5 705.6L665 700.1L665 690.1L670.5 684.6ZM683.1 686.6L688.6 692.1L688.6 702.1L683.1 707.6L673.1 707.6L667.6 702.1L667.6 692.1L673.1 686.6ZM685.7 544.4L691.2 549.9L691.2 559.9L685.7 565.4L675.7 565.4L670.2 559.9L670.2 549.9L675.7 544.4ZM688.2 620.5L693.8 626L693.8 636L688.2 641.5L678.3 641.5L672.8 636L672.8 626L678.3 620.5ZM690.8 402L696.3 407.5L696.3 417.5L690.8 423L680.8 423L675.3 417.5L675.3 407.5L680.8 402ZM693.4 566.7L698.9 572.2L698.9 582.2L693.4 587.7L683.4 587.7L677.9 582.2L677.9 572.2L683.4 566.7ZM696 494.4L701.5 499.9L701.5 509.9L696 515.4L686 515.4L680.5 509.9L680.5 499.9L686 494.4ZM698.5 623.8L704 629.3L704 639.3L698.5 644.8L688.5 644.8L683 639.3L683 629.3L688.5 623.8ZM701.1 521.1L706.6 526.6L706.6 536.6L701.1 542.1L691.1 542.1L685.6 536.6L685.6 526.6L691.1 521.1ZM703.7 673.4L709.2 678.9L709.2 688.9L703.7 694.4L693.7 694.4L688.2 688.9L688.2 678.9L693.7 673.4ZM706.2 578.2L711.7 583.7L711.7 593.7L706.2 599.2L696.2 599.2L690.7 593.7L690.7 583.7L696.2 578.2ZM708.8 686.1L714.3 691.6L714.3 701.6L708.8 707.1L698.8 707.1L693.3 701.6L693.3 691.6L698.8 686.1ZM711.4 970.9L716.9 976.4L716.9 986.4L711.4 991.9L701.4 991.9L695.9 986.4L695.9 976.4L701.4 970.9ZM713.9 782.5L719.4 788L719.4 798L713.9 803.5L704 803.5L698.4 798L698.4 788L704 782.5ZM716.5 1000.7L722 1006.2L722 1016.2L716.5 1021.7L706.5 1021.7L701 1016.2L701 1006.2L706.5 1000.7ZM719.1 796.9L724.6 802.4L724.6 812.4L719.1 817.9L709.1 817.9L703.6 812.4L703.6 802.4L709.1 796.9ZM721.7 980.3L727.2 985.8L727.2 995.8L721.7 1001.3L711.7 1001.3L706.2 995.8L706.2 985.8L711.7 980.3ZM724.2 852L729.7 857.5L729.7 867.5L724.2 873L714.2 873L708.7 867.5L708.7 857.5L714.2 852ZM726.8 982.8L732.3 988.3L732.3 998.3L726.8 1003.8L716.8 1003.8L711.3 998.3L711.3 988.3L716.8 982.8ZM729.4 773L734.9 778.5L734.9 788.5L729.4 794L719.4 794L713.9 788.5L713.9 778.5L719.4 773ZM731.9 1021.5L737.4 1027L737.4 1037L731.9 1042.5L721.9 1042.5L716.4 1037L716.4 1027L721.9 1021.5ZM734.5 793.5L740 799L740 809L734.5 814.5L724.5 814.5L719 809L719 799L724.5 793.5ZM737.1 1016.7L742.6 1022.2L742.6 1032.2L737.1 1037.7L727.1 1037.7L721.6 1032.2L721.6 1022.2L727.1 1016.7ZM739.6 711.3L745.1 716.8L745.1 726.8L739.6 732.3L729.6 732.3L724.1 726.8L724.1 716.8L729.6 711.3ZM742.2 666.7L747.7 672.2L747.7 682.2L742.2 687.7L732.2 687.7L726.7 682.2L726.7 672.2L732.2 666.7ZM744.8 681.7L750.3 687.2L750.3 697.2L744.8 702.7L734.8 702.7L729.3 697.2L729.3 687.2L734.8 681.7ZM747.4 573.7L752.9 579.2L752.9 589.2L747.4 594.7L737.4 594.7L731.9 589.2L731.9 579.2L737.4 573.7ZM749.9 614.7L755.4 620.2L755.4 630.2L749.9 635.7L739.9 635.7L734.4 630.2L734.4 620.2L739.9 614.7ZM752.5 380L758 385.5L758 395.5L752.5 401L742.5 401L737 395.5L737 385.5L742.5 380ZM755.1 600.7L760.6 606.2L760.6 616.2L755.1 621.7L745.1 621.7L739.6 616.2L739.6 606.2L745.1 600.7ZM757.6 475.4L763.1 480.9L763.1 490.9L757.6 496.4L747.6 496.4L742.1 490.9L742.1 480.9L747.6 475.4ZM760.2 597.7L765.7 603.2L765.7 613.2L760.2 618.7L750.2 618.7L744.7 613.2L744.7 603.2L750.2 597.7ZM762.8 516.7L768.3 522.2L768.3 532.2L762.8 537.7L752.8 537.7L747.3 532.2L747.3 522.2L752.8 516.7ZM765.3 680.8L770.8 686.3L770.8 696.2L765.3 701.8L755.3 701.8L749.8 696.2L749.8 686.3L755.3 680.8ZM767.9 564.7L773.4 570.2L773.4 580.2L767.9 585.7L757.9 585.7L752.4 580.2L752.4 570.2L757.9 564.7ZM770.5 671.4L776 676.9L776 686.9L770.5 692.4L760.5 692.4L755 686.9L755 676.9L760.5 671.4ZM773.1 999L778.6 1004.5L778.6 1014.5L773.1 1020L763.1 1020L757.6 1014.5L757.6 1004.5L763.1 999ZM775.6 775L781.1 780.5L781.1 790.5L775.6 796L765.6 796L760.1 790.5L760.1 780.5L765.6 775ZM778.2 1042.3L783.7 1047.8L783.7 1057.8L778.2 1063.3L768.2 1063.3L762.7 1057.8L762.7 1047.8L768.2 1042.3ZM780.8 830.7L786.3 836.2L786.3 846.2L780.8 851.7L770.8 851.7L765.3 846.2L765.3 836.2L770.8 830.7ZM783.3 995.2L788.8 1000.7L788.8 1010.7L783.3 1016.2L773.3 1016.2L767.8 1010.7L767.8 1000.7L773.3 995.2ZM785.9 846.3L791.4 851.8L791.4 861.8L785.9 867.3L775.9 867.3L770.4 861.8L770.4 851.8L775.9 846.3ZM788.5 965.8L794 971.3L794 981.3L788.5 986.8L778.5 986.8L773 981.3L773 971.3L778.5 965.8ZM791 808.5L796.5 814L796.5 824L791 829.5L781 829.5L775.5 824L775.5 814L781 808.5ZM793.6 1046.4L799.1 1051.9L799.1 1061.9L793.6 1067.4L783.6 1067.4L778.1 1061.9L778.1 1051.9L783.6 1046.4ZM796.2 823.5L801.7 829L801.7 839L796.2 844.5L786.2 844.5L780.7 839L780.7 829L786.2 823.5ZM798.8 994.3L804.3 999.8L804.3 1009.8L798.8 1015.3L788.8 1015.3L783.3 1009.8L783.3 999.8L788.8 994.3ZM801.3 716.7L806.8 722.2L806.8 732.2L801.3 737.7L791.3 737.7L785.8 732.2L785.8 722.2L791.3 716.7ZM803.9 650.3L809.4 655.8L809.4 665.8L803.9 671.3L793.9 671.3L788.4 665.8L788.4 655.8L793.9 650.3ZM806.5 705.4L812 710.9L812 720.9L806.5 726.4L796.5 726.4L791 720.9L791 710.9L796.5 705.4ZM809 581.4L814.5 586.9L814.5 596.9L809 602.4L799 602.4L793.5 596.9L793.5 586.9L799 581.4ZM811.6 626.9L817.1 632.4L817.1 642.4L811.6 647.9L801.6 647.9L796.1 642.4L796.1 632.4L801.6 626.9ZM814.2 386.2L819.7 391.7L819.7 401.7L814.2 407.2L804.2 407.2L798.7 401.7L798.7 391.7L804.2 386.2ZM816.7 577.9L822.2 583.4L822.2 593.4L816.7 598.9L806.7 598.9L801.2 593.4L801.2 583.4L806.7 577.9ZM819.3 471.3L824.8 476.8L824.8 486.8L819.3 492.3L809.3 492.3L803.8 486.8L803.8 476.8L809.3 471.3ZM821.9 620.3L827.4 625.8L827.4 635.8L821.9 641.3L811.9 641.3L806.4 635.8L806.4 625.8L811.9 620.3ZM824.5 527.8L830 533.3L830 543.3L824.5 548.8L814.5 548.8L809 543.3L809 533.3L814.5 527.8ZM827 659.1L832.5 664.6L832.5 674.6L827 680.1L817 680.1L811.5 674.6L811.5 664.6L817 659.1ZM829.6 567.2L835.1 572.7L835.1 582.7L829.6 588.2L819.6 588.2L814.1 582.7L814.1 572.7L819.6 567.2ZM832.2 670.3L837.7 675.8L837.7 685.8L832.2 691.3L822.2 691.3L816.7 685.8L816.7 675.8L822.2 670.3ZM834.7 982.4L840.2 988L840.2 997.9L834.7 1003.4L824.7 1003.4L819.2 997.9L819.2 988L824.7 982.4ZM837.3 779.4L842.8 784.9L842.8 794.9L837.3 800.4L827.3 800.4L821.8 794.9L821.8 784.9L827.3 779.4ZM839.9 1021.5L845.4 1027L845.4 1037L839.9 1042.5L829.9 1042.5L824.4 1037L824.4 1027L829.9 1021.5ZM842.4 819.2L847.9 824.7L847.9 834.7L842.4 840.2L832.4 840.2L826.9 834.7L826.9 824.7L832.4 819.2ZM845 1005L850.5 1010.5L850.5 1020.5L845 1026L835 1026L829.5 1020.5L829.5 1010.5L835 1005ZM847.6 831.6L853.1 837.1L853.1 847.1L847.6 852.6L837.6 852.6L832.1 847.1L832.1 837.1L837.6 831.6ZM850.2 965.9L855.7 971.4L855.7 981.4L850.2 986.9L840.2 986.9L834.7 981.4L834.7 971.4L840.2 965.9ZM852.7 806.1L858.2 811.6L858.2 821.6L852.7 827.1L842.7 827.1L837.2 821.6L837.2 811.6L842.7 806.1ZM855.3 1050.6L860.8 1056.1L860.8 1066.1L855.3 1071.6L845.3 1071.6L839.8 1066.1L839.8 1056.1L845.3 1050.6ZM857.9 811.6L863.4 817.1L863.4 827.1L857.9 832.6L847.9 832.6L842.4 827.1L842.4 817.1L847.9 811.6ZM860.4 994.4L865.9 999.9L865.9 1009.9L860.4 1015.4L850.4 1015.4L844.9 1009.9L844.9 999.9L850.4 994.4ZM863 727.6L868.5 733.1L868.5 743.1L863 748.6L853 748.6L847.5 743.1L847.5 733.1L853 727.6ZM865.6 685.2L871.1 690.7L871.1 700.6L865.6 706.2L855.6 706.2L850.1 700.6L850.1 690.7L855.6 685.2ZM868.1 672L873.6 677.5L873.6 687.5L868.1 693L858.1 693L852.6 687.5L852.6 677.5L858.1 672ZM870.7 558.3L876.2 563.8L876.2 573.8L870.7 579.3L860.7 579.3L855.2 573.8L855.2 563.8L860.7 558.3ZM873.3 620L878.8 625.5L878.8 635.5L873.3 641L863.3 641L857.8 635.5L857.8 625.5L863.3 620ZM875.9 386.2L881.4 391.7L881.4 401.7L875.9 407.2L865.9 407.2L860.4 401.7L860.4 391.7L865.9 386.2ZM878.4 589L883.9 594.5L883.9 604.5L878.4 610L868.4 610L862.9 604.5L862.9 594.5L868.4 589ZM881 473.5L886.5 479L886.5 489L881 494.5L871 494.5L865.5 489L865.5 479L871 473.5ZM883.6 596.3L889.1 601.8L889.1 611.7L883.6 617.3L873.6 617.3L868.1 611.7L868.1 601.8L873.6 596.3ZM886.1 526L891.6 531.5L891.6 541.5L886.1 547L876.1 547L870.6 541.5L870.6 531.5L876.1 526ZM888.7 660.9L894.2 666.4L894.2 676.4L888.7 681.9L878.7 681.9L873.2 676.4L873.2 666.4L878.7 660.9ZM891.3 571.9L896.8 577.4L896.8 587.4L891.3 592.9L881.3 592.9L875.8 587.4L875.8 577.4L881.3 571.9ZM893.8 674.8L899.3 680.3L899.3 690.3L893.8 695.8L883.8 695.8L878.3 690.3L878.3 680.3L883.8 674.8ZM896.4 960.8L901.9 966.3L901.9 976.3L896.4 981.8L886.4 981.8L880.9 976.3L880.9 966.3L886.4 960.8ZM899 763.1L904.5 768.6L904.5 778.6L899 784.1L889 784.1L883.5 778.6L883.5 768.6L889 763.1ZM901.5 1046.4L907.1 1051.9L907.1 1061.9L901.5 1067.4L891.6 1067.4L886.1 1061.9L886.1 1051.9L891.6 1046.4ZM904.1 803.4L909.6 808.9L909.6 818.9L904.1 824.4L894.1 824.4L888.6 818.9L888.6 808.9L894.1 803.4ZM906.7 1014.5L912.2 1020L912.2 1030L906.7 1035.5L896.7 1035.5L891.2 1030L891.2 1020L896.7 1014.5ZM909.3 842.9L914.8 848.4L914.8 858.4L909.3 863.9L899.3 863.9L893.8 858.4L893.8 848.4L899.3 842.9ZM911.8 987.8L917.3 993.3L917.3 1003.3L911.8 1008.8L901.8 1008.8L896.3 1003.3L896.3 993.3L901.8 987.8ZM914.4 786.5L919.9 792L919.9 802L914.4 807.5L904.4 807.5L898.9 802L898.9 792L904.4 786.5ZM917 1042.3L922.5 1047.8L922.5 1057.8L917 1063.3L907 1063.3L901.5 1057.8L901.5 1047.8L907 1042.3ZM919.5 796.4L925 801.9L925 811.9L919.5 817.4L909.5 817.4L904 811.9L904 801.9L909.5 796.4ZM922.1 1013.8L927.6 1019.3L927.6 1029.3L922.1 1034.8L912.1 1034.8L906.6 1029.3L906.6 1019.3L912.1 1013.8ZM924.7 720.5L930.2 726L930.2 736L924.7 741.5L914.7 741.5L909.2 736L909.2 726L914.7 720.5ZM927.2 679.3L932.8 684.8L932.8 694.8L927.2 700.3L917.3 700.3L911.8 694.8L911.8 684.8L917.3 679.3ZM929.8 702.3L935.3 707.8L935.3 717.8L929.8 723.3L919.8 723.3L914.3 717.8L914.3 707.8L919.8 702.3ZM932.4 571.7L937.9 577.2L937.9 587.2L932.4 592.7L922.4 592.7L916.9 587.2L916.9 577.2L922.4 571.7ZM935 627.1L940.5 632.6L940.5 642.6L935 648.1L925 648.1L919.5 642.6L919.5 632.6L925 627.1ZM937.5 375.4L943 380.9L943 390.9L937.5 396.4L927.5 396.4L922 390.9L922 380.9L927.5 375.4ZM940.1 544.8L945.6 550.3L945.6 560.3L940.1 565.8L930.1 565.8L924.6 560.3L924.6 550.3L930.1 544.8ZM942.7 474.4L948.2 479.9L948.2 489.9L942.7 495.4L932.7 495.4L927.2 489.9L927.2 479.9L932.7 474.4ZM945.2 589.4L950.7 594.9L950.7 604.9L945.2 610.4L935.2 610.4L929.7 604.9L929.7 594.9L935.2 589.4ZM947.8 455L953.3 460.5L953.3 470.5L947.8 476L937.8 476L932.3 470.5L932.3 460.5L937.8 455ZM950.4 564.2L955.9 569.7L955.9 579.7L950.4 585.2L940.4 585.2L934.9 579.7L934.9 569.7L940.4 564.2ZM952.9 494.9L958.4 500.4L958.4 510.4L952.9 515.9L943 515.9L937.4 510.4L937.4 500.4L943 494.9ZM955.5 646.6L961 652.1L961 662.1L955.5 667.6L945.5 667.6L940 662.1L940 652.1L945.5 646.6ZM958.1 610.8L963.6 616.3L963.6 626.3L958.1 631.8L948.1 631.8L942.6 626.3L942.6 616.3L948.1 610.8ZM960.7 746.6L966.2 752.1L966.2 762.1L960.7 767.6L950.7 767.6L945.2 762.1L945.2 752.1L950.7 746.6ZM963.2 716.9L968.7 722.4L968.7 732.4L963.2 737.9L953.2 737.9L947.7 732.4L947.7 722.4L953.2 716.9ZM965.8 862.7L971.3 868.2L971.3 878.2L965.8 883.7L955.8 883.7L950.3 878.2L950.3 868.2L955.8 862.7ZM968.4 984L973.9 989.5L973.9 999.5L968.4 1005L958.4 1005L952.9 999.5L952.9 989.5L958.4 984ZM970.9 848.8L976.4 854.3L976.4 864.3L970.9 869.8L960.9 869.8L955.4 864.3L955.4 854.3L960.9 848.8ZM973.5 841.7L979 847.2L979 857.2L973.5 862.7L963.5 862.7L958 857.2L958 847.2L963.5 841.7ZM976.1 708.5L981.6 714L981.6 724L976.1 729.5L966.1 729.5L960.6 724L960.6 714L966.1 708.5ZM978.6 729.6L984.1 735.1L984.1 745.1L978.6 750.6L968.7 750.6L963.1 745.1L963.1 735.1L968.7 729.6ZM981.2 606.7L986.7 612.2L986.7 622.2L981.2 627.7L971.2 627.7L965.7 622.2L965.7 612.2L971.2 606.7ZM983.8 507.4L989.3 512.9L989.3 522.9L983.8 528.4L973.8 528.4L968.3 522.9L968.3 512.9L973.8 507.4ZM986.4 593.4L991.9 598.9L991.9 608.9L986.4 614.4L976.4 614.4L970.9 608.9L970.9 598.9L976.4 593.4ZM988.9 497.7L994.4 503.2L994.4 513.1L988.9 518.7L978.9 518.7L973.4 513.1L973.4 503.2L978.9 497.7ZM991.5 582.8L997 588.3L997 598.3L991.5 603.8L981.5 603.8L976 598.3L976 588.3L981.5 582.8ZM994.1 446L999.6 451.5L999.6 461.5L994.1 467L984.1 467L978.6 461.5L978.6 451.5L984.1 446ZM996.6 581.5L1002.1 587L1002.1 597L996.6 602.5L986.6 602.5L981.1 597L981.1 587L986.6 581.5ZM999.2 368.7L1004.7 374.2L1004.7 384.2L999.2 389.7L989.2 389.7L983.7 384.2L983.7 374.2L989.2 368.7ZM1001.8 580.2L1007.3 585.7L1007.3 595.7L1001.8 601.2L991.8 601.2L986.3 595.7L986.3 585.7L991.8 580.2ZM1004.3 436.2L1009.8 441.7L1009.8 451.7L1004.3 457.2L994.3 457.2L988.8 451.7L988.8 441.7L994.3 436.2ZM1006.9 604.9L1012.4 610.4L1012.4 620.4L1006.9 625.9L996.9 625.9L991.4 620.4L991.4 610.4L996.9 604.9ZM1009.5 446.9L1015 452.4L1015 462.4L1009.5 467.9L999.5 467.9L994 462.4L994 452.4L999.5 446.9ZM1012.1 582L1017.6 587.5L1017.6 597.5L1012.1 603L1002.1 603L996.6 597.5L996.6 587.5L1002.1 582ZM1014.6 503.2L1020.1 508.7L1020.1 518.7L1014.6 524.2L1004.6 524.2L999.1 518.7L999.1 508.7L1004.6 503.2ZM1017.2 605.8L1022.7 611.3L1022.7 621.3L1017.2 626.8L1007.2 626.8L1001.7 621.3L1001.7 611.3L1007.2 605.8ZM1019.8 617.6L1025.3 623.1L1025.3 633.1L1019.8 638.6L1009.8 638.6L1004.3 633.1L1004.3 623.1L1009.8 617.6ZM1022.3 756.2L1027.8 761.7L1027.8 771.7L1022.3 777.2L1012.3 777.2L1006.8 771.7L1006.8 761.7L1012.3 756.2ZM1024.9 716.2L1030.4 721.7L1030.4 731.7L1024.9 737.2L1014.9 737.2L1009.4 731.7L1009.4 721.7L1014.9 716.2ZM1027.5 873.5L1033 879L1033 889L1027.5 894.5L1017.5 894.5L1012 889L1012 879L1017.5 873.5ZM1030 946.6L1035.5 952.1L1035.5 962.1L1030 967.6L1020 967.6L1014.5 962.1L1014.5 952.1L1020 946.6ZM1032.6 831.6L1038.1 837.1L1038.1 847.1L1032.6 852.6L1022.6 852.6L1017.1 847.1L1017.1 837.1L1022.6 831.6ZM1035.2 841.5L1040.7 847L1040.7 857L1035.2 862.5L1025.2 862.5L1019.7 857L1019.7 847L1025.2 841.5ZM1037.8 736.9L1043.3 742.4L1043.3 752.4L1037.8 757.9L1027.8 757.9L1022.3 752.4L1022.3 742.4L1027.8 736.9ZM1040.3 729.9L1045.8 735.4L1045.8 745.4L1040.3 750.9L1030.3 750.9L1024.8 745.4L1024.8 735.4L1030.3 729.9ZM1042.9 591.4L1048.4 596.9L1048.4 606.9L1042.9 612.4L1032.9 612.4L1027.4 606.9L1027.4 596.9L1032.9 591.4ZM1045.5 533.6L1051 539.1L1051 549.1L1045.5 554.6L1035.5 554.6L1030 549.1L1030 539.1L1035.5 533.6ZM1048 621.1L1053.5 626.6L1053.5 636.6L1048 642.1L1038 642.1L1032.5 636.6L1032.5 626.6L1038 621.1ZM1050.6 463.1L1056.1 468.6L1056.1 478.6L1050.6 484.1L1040.6 484.1L1035.1 478.6L1035.1 468.6L1040.6 463.1ZM1053.2 578.5L1058.7 584L1058.7 594L1053.2 599.5L1043.2 599.5L1037.7 594L1037.7 584L1043.2 578.5ZM1055.7 464.6L1061.2 470.1L1061.2 480.1L1055.7 485.6L1045.7 485.6L1040.2 480.1L1040.2 470.1L1045.7 464.6ZM1058.3 584L1063.8 589.5L1063.8 599.5L1058.3 605L1048.3 605L1042.8 599.5L1042.8 589.5L1048.3 584ZM1060.9 386.2L1066.4 391.7L1066.4 401.7L1060.9 407.2L1050.9 407.2L1045.4 401.7L1045.4 391.7L1050.9 386.2ZM1063.5 559.3L1069 564.8L1069 574.8L1063.5 580.3L1053.5 580.3L1048 574.8L1048 564.8L1053.5 559.3ZM1066 462.2L1071.5 467.7L1071.5 477.7L1066 483.2L1056 483.2L1050.5 477.7L1050.5 467.7L1056 462.2ZM1068.6 589.7L1074.1 595.2L1074.1 605.2L1068.6 610.7L1058.6 610.7L1053.1 605.2L1053.1 595.2L1058.6 589.7ZM1071.2 443.7L1076.7 449.2L1076.7 459.2L1071.2 464.7L1061.2 464.7L1055.7 459.2L1055.7 449.2L1061.2 443.7ZM1073.7 580L1079.2 585.5L1079.2 595.5L1073.7 601L1063.7 601L1058.2 595.5L1058.2 585.5L1063.7 580ZM1076.3 515.6L1081.8 521.2L1081.8 531.1L1076.3 536.6L1066.3 536.6L1060.8 531.1L1060.8 521.2L1066.3 515.6ZM1078.9 609.5L1084.4 615L1084.4 625L1078.9 630.5L1068.9 630.5L1063.4 625L1063.4 615L1068.9 609.5ZM1081.4 611.6L1086.9 617.1L1086.9 627.1L1081.4 632.6L1071.4 632.6L1065.9 627.1L1065.9 617.1L1071.4 611.6ZM1084 742.2L1089.5 747.7L1089.5 757.7L1084 763.2L1074 763.2L1068.5 757.7L1068.5 747.7L1074 742.2ZM1086.6 700.5L1092.1 706L1092.1 716L1086.6 721.5L1076.6 721.5L1071.1 716L1071.1 706L1076.6 700.5ZM1089.2 844.9L1094.7 850.4L1094.7 860.4L1089.2 865.9L1079.2 865.9L1073.7 860.4L1073.7 850.4L1079.2 844.9ZM1091.7 950.7L1097.2 956.2L1097.2 966.2L1091.7 971.7L1081.7 971.7L1076.2 966.2L1076.2 956.2L1081.7 950.7ZM1094.3 831.1L1099.8 836.6L1099.8 846.6L1094.3 852.1L1084.3 852.1L1078.8 846.6L1078.8 836.6L1084.3 831.1ZM1096.9 837.2L1102.4 842.7L1102.4 852.7L1096.9 858.2L1086.9 858.2L1081.4 852.7L1081.4 842.7L1086.9 837.2ZM1099.4 723.5L1104.9 729L1104.9 739L1099.4 744.5L1089.4 744.5L1083.9 739L1083.9 729L1089.4 723.5ZM1102 753.7L1107.5 759.2L1107.5 769.2L1102 774.7L1092 774.7L1086.5 769.2L1086.5 759.2L1092 753.7ZM1104.6 602.9L1110.1 608.4L1110.1 618.4L1104.6 623.9L1094.6 623.9L1089.1 618.4L1089.1 608.4L1094.6 602.9ZM1107.1 505.2L1112.6 510.7L1112.6 520.7L1107.1 526.2L1097.1 526.2L1091.6 520.7L1091.6 510.7L1097.1 505.2ZM1109.7 592.2L1115.2 597.7L1115.2 607.7L1109.7 613.2L1099.7 613.2L1094.2 607.7L1094.2 597.7L1099.7 592.2ZM1112.3 467.1L1117.8 472.6L1117.8 482.6L1112.3 488.1L1102.3 488.1L1096.8 482.6L1096.8 472.6L1102.3 467.1ZM1114.9 595.4L1120.4 600.9L1120.4 610.9L1114.9 616.4L1104.9 616.4L1099.4 610.9L1099.4 600.9L1104.9 595.4ZM1117.4 472.9L1122.9 478.4L1122.9 488.4L1117.4 493.9L1107.4 493.9L1101.9 488.4L1101.9 478.4L1107.4 472.9ZM1120 583.3L1125.5 588.8L1125.5 598.8L1120 604.3L1110 604.3L1104.5 598.8L1104.5 588.8L1110 583.3ZM1122.6 386.2L1128.1 391.7L1128.1 401.7L1122.6 407.2L1112.6 407.2L1107.1 401.7L1107.1 391.7L1112.6 386.2ZM1125.1 556.7L1130.6 562.2L1130.6 572.2L1125.1 577.7L1115.1 577.7L1109.6 572.2L1109.6 562.2L1115.1 556.7ZM1127.7 451.8L1133.2 457.4L1133.2 467.3L1127.7 472.8L1117.7 472.8L1112.2 467.3L1112.2 457.4L1117.7 451.8ZM1130.3 597.1L1135.8 602.6L1135.8 612.6L1130.3 618.1L1120.3 618.1L1114.8 612.6L1114.8 602.6L1120.3 597.1ZM1132.8 470.5L1138.3 476L1138.3 486L1132.8 491.5L1122.8 491.5L1117.3 486L1117.3 476L1122.8 470.5ZM1135.4 581.7L1140.9 587.3L1140.9 597.2L1135.4 602.7L1125.4 602.7L1119.9 597.2L1119.9 587.3L1125.4 581.7ZM1138 515L1143.5 520.5L1143.5 530.5L1138 536L1128 536L1122.5 530.5L1122.5 520.5L1128 515ZM1140.5 636.1L1146.1 641.6L1146.1 651.6L1140.5 657.1L1130.6 657.1L1125.1 651.6L1125.1 641.6L1130.6 636.1ZM1143.1 612.4L1148.6 617.9L1148.6 627.9L1143.1 633.4L1133.1 633.4L1127.6 627.9L1127.6 617.9L1133.1 612.4ZM1145.7 743.9L1151.2 749.4L1151.2 759.4L1145.7 764.9L1135.7 764.9L1130.2 759.4L1130.2 749.4L1135.7 743.9ZM1148.3 705.3L1153.8 710.8L1153.8 720.8L1148.3 726.3L1138.3 726.3L1132.8 720.8L1132.8 710.8L1138.3 705.3ZM1150.8 858.2L1156.3 863.7L1156.3 873.7L1150.8 879.2L1140.8 879.2L1135.3 873.7L1135.3 863.7L1140.8 858.2ZM1153.4 954.9L1158.9 960.4L1158.9 970.4L1153.4 975.9L1143.4 975.9L1137.9 970.4L1137.9 960.4L1143.4 954.9ZM1156 813.7L1161.5 819.2L1161.5 829.2L1156 834.7L1146 834.7L1140.5 829.2L1140.5 819.2L1146 813.7ZM1158.5 858.8L1164 864.3L1164 874.3L1158.5 879.8L1148.5 879.8L1143 874.3L1143 864.3L1148.5 858.8ZM1161.1 719.2L1166.6 724.7L1166.6 734.7L1161.1 740.2L1151.1 740.2L1145.6 734.7L1145.6 724.7L1151.1 719.2ZM1163.7 737.5L1169.2 743L1169.2 753L1163.7 758.5L1153.7 758.5L1148.2 753L1148.2 743L1153.7 737.5ZM1166.2 612.9L1171.8 618.4L1171.8 628.4L1166.2 633.9L1156.3 633.9L1150.8 628.4L1150.8 618.4L1156.3 612.9ZM1168.8 505.6L1174.3 511.1L1174.3 521.1L1168.8 526.6L1158.8 526.6L1153.3 521.1L1153.3 511.1L1158.8 505.6ZM1171.4 601.4L1176.9 606.9L1176.9 616.9L1171.4 622.4L1161.4 622.4L1155.9 616.9L1155.9 606.9L1161.4 601.4ZM1174 476.7L1179.5 482.2L1179.5 492.2L1174 497.7L1164 497.7L1158.5 492.2L1158.5 482.2L1164 476.7ZM1176.5 586.8L1182 592.3L1182 602.3L1176.5 607.8L1166.5 607.8L1161 602.3L1161 592.3L1166.5 586.8ZM1179.1 478.5L1184.6 484L1184.6 494L1179.1 499.5L1169.1 499.5L1163.6 494L1163.6 484L1169.1 478.5ZM1181.7 574.7L1187.2 580.2L1187.2 590.2L1181.7 595.7L1171.7 595.7L1166.2 590.2L1166.2 580.2L1171.7 574.7ZM1184.2 382L1189.7 387.5L1189.7 397.5L1184.2 403L1174.2 403L1168.7 397.5L1168.7 387.5L1174.2 382ZM1186.8 544.4L1192.3 549.9L1192.3 559.9L1186.8 565.4L1176.8 565.4L1171.3 559.9L1171.3 549.9L1176.8 544.4ZM1189.4 458.9L1194.9 464.4L1194.9 474.4L1189.4 479.9L1179.4 479.9L1173.9 474.4L1173.9 464.4L1179.4 458.9ZM1191.9 574.4L1197.4 579.9L1197.4 589.9L1191.9 595.4L1182 595.4L1176.4 589.9L1176.4 579.9L1182 574.4ZM1194.5 438.9L1200 444.4L1200 454.4L1194.5 459.9L1184.5 459.9L1179 454.4L1179 444.4L1184.5 438.9ZM1197.1 572.5L1202.6 578L1202.6 588L1197.1 593.5L1187.1 593.5L1181.6 588L1181.6 578L1187.1 572.5ZM1199.7 517.1L1205.2 522.6L1205.2 532.6L1199.7 538.1L1189.7 538.1L1184.2 532.6L1184.2 522.6L1189.7 517.1ZM1202.2 607.5L1207.7 613L1207.7 623L1202.2 628.5L1192.2 628.5L1186.7 623L1186.7 613L1192.2 607.5ZM1204.8 616.1L1210.3 621.6L1210.3 631.6L1204.8 637.1L1194.8 637.1L1189.3 631.6L1189.3 621.6L1194.8 616.1ZM1207.4 769.2L1212.9 774.8L1212.9 784.7L1207.4 790.2L1197.4 790.2L1191.9 784.7L1191.9 774.8L1197.4 769.2ZM1209.9 713.7L1215.4 719.2L1215.4 729.2L1209.9 734.7L1199.9 734.7L1194.4 729.2L1194.4 719.2L1199.9 713.7ZM1212.5 882.3L1218 887.8L1218 897.8L1212.5 903.3L1202.5 903.3L1197 897.8L1197 887.8L1202.5 882.3ZM1215.1 975.7L1220.6 981.2L1220.6 991.2L1215.1 996.7L1205.1 996.7L1199.6 991.2L1199.6 981.2L1205.1 975.7ZM1217.6 816.2L1223.1 821.7L1223.1 831.7L1217.6 837.2L1207.7 837.2L1202.1 831.7L1202.1 821.7L1207.7 816.2ZM1220.2 867.3L1225.7 872.8L1225.7 882.8L1220.2 888.3L1210.2 888.3L1204.7 882.8L1204.7 872.8L1210.2 867.3ZM1222.8 704.3L1228.3 709.8L1228.3 719.8L1222.8 725.3L1212.8 725.3L1207.3 719.8L1207.3 709.8L1212.8 704.3ZM1225.4 724.5L1230.9 730L1230.9 740L1225.4 745.5L1215.4 745.5L1209.9 740L1209.9 730L1215.4 724.5ZM1227.9 619.1L1233.4 624.6L1233.4 634.6L1227.9 640.1L1217.9 640.1L1212.4 634.6L1212.4 624.6L1217.9 619.1ZM1230.5 534.6L1236 540.1L1236 550.1L1230.5 555.6L1220.5 555.6L1215 550.1L1215 540.1L1220.5 534.6ZM1233.1 618.3L1238.6 623.8L1238.6 633.8L1233.1 639.3L1223.1 639.3L1217.6 633.8L1217.6 623.8L1223.1 618.3ZM1235.6 497L1241.1 502.5L1241.1 512.5L1235.6 518L1225.6 518L1220.1 512.5L1220.1 502.5L1225.6 497ZM1238.2 568L1243.7 573.5L1243.7 583.5L1238.2 589L1228.2 589L1222.7 583.5L1222.7 573.5L1228.2 568ZM1240.8 475L1246.3 480.5L1246.3 490.5L1240.8 496L1230.8 496L1225.3 490.5L1225.3 480.5L1230.8 475ZM1243.3 566.1L1248.8 571.6L1248.8 581.6L1243.3 587.1L1233.3 587.1L1227.8 581.6L1227.8 571.6L1233.3 566.1ZM1245.9 388.7L1251.4 394.2L1251.4 404.2L1245.9 409.7L1235.9 409.7L1230.4 404.2L1230.4 394.2L1235.9 388.7ZM1248.5 577.1L1254 582.6L1254 592.6L1248.5 598.1L1238.5 598.1L1233 592.6L1233 582.6L1238.5 577.1ZM1251.1 443.6L1256.6 449.1L1256.6 459.1L1251.1 464.6L1241.1 464.6L1235.6 459.1L1235.6 449.1L1241.1 443.6ZM1253.6 568.6L1259.1 574.1L1259.1 584.1L1253.6 589.6L1243.6 589.6L1238.1 584.1L1238.1 574.1L1243.6 568.6ZM1256.2 466.9L1261.7 472.4L1261.7 482.4L1256.2 487.9L1246.2 487.9L1240.7 482.4L1240.7 472.4L1246.2 466.9ZM1258.8 566.9L1264.3 572.4L1264.3 582.4L1258.8 587.9L1248.8 587.9L1243.3 582.4L1243.3 572.4L1248.8 566.9ZM1261.3 494.5L1266.8 500L1266.8 510L1261.3 515.5L1251.3 515.5L1245.8 510L1245.8 500L1251.3 494.5ZM1263.9 620.4L1269.4 625.9L1269.4 635.9L1263.9 641.4L1253.9 641.4L1248.4 635.9L1248.4 625.9L1253.9 620.4ZM1266.5 585.3L1272 590.8L1272 600.8L1266.5 606.3L1256.5 606.3L1251 600.8L1251 590.8L1256.5 585.3ZM1269 749.8L1274.5 755.3L1274.5 765.3L1269 770.8L1259 770.8L1253.5 765.3L1253.5 755.3L1259 749.8ZM1271.6 718.4L1277.1 723.9L1277.1 733.9L1271.6 739.4L1261.6 739.4L1256.1 733.9L1256.1 723.9L1261.6 718.4ZM1274.2 880.6L1279.7 886.1L1279.7 896.1L1274.2 901.6L1264.2 901.6L1258.7 896.1L1258.7 886.1L1264.2 880.6ZM1276.8 942.4L1282.3 947.9L1282.3 957.9L1276.8 963.4L1266.8 963.4L1261.3 957.9L1261.3 947.9L1266.8 942.4ZM1279.3 832.3L1284.8 837.8L1284.8 847.8L1279.3 853.3L1269.3 853.3L1263.8 847.8L1263.8 837.8L1269.3 832.3ZM1281.9 834.8L1287.4 840.3L1287.4 850.3L1281.9 855.8L1271.9 855.8L1266.4 850.3L1266.4 840.3L1271.9 834.8ZM1284.5 723.5L1290 729L1290 739L1284.5 744.5L1274.5 744.5L1269 739L1269 729L1274.5 723.5ZM1287 720.7L1292.5 726.2L1292.5 736.2L1287 741.7L1277 741.7L1271.5 736.2L1271.5 726.2L1277 720.7ZM1289.6 603.1L1295.1 608.6L1295.1 618.6L1289.6 624.1L1279.6 624.1L1274.1 618.6L1274.1 608.6L1279.6 603.1ZM1292.2 515.7L1297.7 521.2L1297.7 531.2L1292.2 536.7L1282.2 536.7L1276.7 531.2L1276.7 521.2L1282.2 515.7ZM1294.7 604.7L1300.2 610.2L1300.2 620.2L1294.7 625.7L1284.7 625.7L1279.2 620.2L1279.2 610.2L1284.7 604.7ZM1297.3 473L1302.8 478.5L1302.8 488.5L1297.3 494L1287.3 494L1281.8 488.5L1281.8 478.5L1287.3 473ZM1299.9 598.2L1305.4 603.7L1305.4 613.7L1299.9 619.2L1289.9 619.2L1284.4 613.7L1284.4 603.7L1289.9 598.2ZM1302.5 455.3L1308 460.8L1308 470.8L1302.5 476.3L1292.5 476.3L1287 470.8L1287 460.8L1292.5 455.3ZM1305 552.5L1310.5 558L1310.5 568L1305 573.5L1295 573.5L1289.5 568L1289.5 558L1295 552.5ZM1307.6 366.2L1313.1 371.7L1313.1 381.7L1307.6 387.2L1297.6 387.2L1292.1 381.7L1292.1 371.7L1297.6 366.2ZM1310.2 560.5L1315.7 566L1315.7 576L1310.2 581.5L1300.2 581.5L1294.7 576L1294.7 566L1300.2 560.5ZM1312.7 451.6L1318.2 457.1L1318.2 467.1L1312.7 472.6L1302.7 472.6L1297.2 467.1L1297.2 457.1L1302.7 451.6ZM1315.3 569.1L1320.8 574.6L1320.8 584.6L1315.3 590.1L1305.3 590.1L1299.8 584.6L1299.8 574.6L1305.3 569.1ZM1317.9 470.2L1323.4 475.7L1323.4 485.7L1317.9 491.2L1307.9 491.2L1302.4 485.7L1302.4 475.7L1307.9 470.2ZM1320.4 584.8L1325.9 590.3L1325.9 600.3L1320.4 605.8L1310.4 605.8L1304.9 600.3L1304.9 590.3L1310.4 584.8ZM1323 504.2L1328.5 509.7L1328.5 519.7L1323 525.2L1313 525.2L1307.5 519.7L1307.5 509.7L1313 504.2ZM1325.6 636.1L1331.1 641.6L1331.1 651.6L1325.6 657.1L1315.6 657.1L1310.1 651.6L1310.1 641.6L1315.6 636.1ZM1328.2 623.2L1333.7 628.7L1333.7 638.7L1328.2 644.2L1318.2 644.2L1312.7 638.7L1312.7 628.7L1318.2 623.2ZM1330.7 749.3L1336.2 754.8L1336.2 764.8L1330.7 770.3L1320.7 770.3L1315.2 764.8L1315.2 754.8L1320.7 749.3ZM1333.3 724.2L1338.8 729.7L1338.8 739.7L1333.3 745.2L1323.3 745.2L1317.8 739.7L1317.8 729.7L1323.3 724.2ZM1335.9 871.1L1341.4 876.6L1341.4 886.6L1335.9 892.1L1325.9 892.1L1320.4 886.6L1320.4 876.6L1325.9 871.1ZM1338.4 946.6L1343.9 952.1L1343.9 962.1L1338.4 967.6L1328.4 967.6L1322.9 962.1L1322.9 952.1L1328.4 946.6ZM1341 851.4L1346.5 856.9L1346.5 866.9L1341 872.4L1331 872.4L1325.5 866.9L1325.5 856.9L1331 851.4ZM1343.6 865.3L1349.1 870.8L1349.1 880.8L1343.6 886.3L1333.6 886.3L1328.1 880.8L1328.1 870.8L1333.6 865.3ZM1346.1 714L1351.6 719.5L1351.6 729.5L1346.1 735L1336.1 735L1330.6 729.5L1330.6 719.5L1336.1 714ZM1348.7 756.8L1354.2 762.3L1354.2 772.3L1348.7 777.8L1338.7 777.8L1333.2 772.3L1333.2 762.3L1338.7 756.8ZM1351.3 617.2L1356.8 622.7L1356.8 632.7L1351.3 638.2L1341.3 638.2L1335.8 632.7L1335.8 622.7L1341.3 617.2ZM1353.9 522.7L1359.4 528.2L1359.4 538.2L1353.9 543.7L1343.9 543.7L1338.4 538.2L1338.4 528.2L1343.9 522.7ZM1356.4 585.2L1361.9 590.7L1361.9 600.7L1356.4 606.2L1346.4 606.2L1340.9 600.7L1340.9 590.7L1346.4 585.2ZM1359 470.4L1364.5 475.9L1364.5 485.9L1359 491.4L1349 491.4L1343.5 485.9L1343.5 475.9L1349 470.4ZM1361.6 568.4L1367.1 573.9L1367.1 583.9L1361.6 589.4L1351.6 589.4L1346.1 583.9L1346.1 573.9L1351.6 568.4ZM1364.1 468.2L1369.6 473.7L1369.6 483.7L1364.1 489.2L1354.1 489.2L1348.6 483.7L1348.6 473.7L1354.1 468.2ZM1366.7 583.2L1372.2 588.7L1372.2 598.7L1366.7 604.2L1356.7 604.2L1351.2 598.7L1351.2 588.7L1356.7 583.2ZM1369.3 387.9L1374.8 393.4L1374.8 403.4L1369.3 408.9L1359.3 408.9L1353.8 403.4L1353.8 393.4L1359.3 387.9ZM1371.8 561.7L1377.3 567.2L1377.3 577.2L1371.8 582.7L1361.8 582.7L1356.3 577.2L1356.3 567.2L1361.8 561.7ZM1374.4 437.7L1379.9 443.2L1379.9 453.2L1374.4 458.7L1364.4 458.7L1358.9 453.2L1358.9 443.2L1364.4 437.7ZM1377 564.6L1382.5 570.1L1382.5 580.1L1377 585.6L1367 585.6L1361.5 580.1L1361.5 570.1L1367 564.6ZM1379.6 474.8L1385.1 480.3L1385.1 490.3L1379.6 495.8L1369.6 495.8L1364.1 490.3L1364.1 480.3L1369.6 474.8ZM1382.1 578.4L1387.6 583.9L1387.6 593.9L1382.1 599.4L1372.1 599.4L1366.6 593.9L1366.6 583.9L1372.1 578.4ZM1384.7 519.8L1390.2 525.3L1390.2 535.3L1384.7 540.8L1374.7 540.8L1369.2 535.3L1369.2 525.3L1374.7 519.8ZM1387.3 618.1L1392.8 623.6L1392.8 633.6L1387.3 639.1L1377.3 639.1L1371.8 633.6L1371.8 623.6L1377.3 618.1ZM1389.8 601.7L1395.3 607.2L1395.3 617.2L1389.8 622.7L1379.8 622.7L1374.3 617.2L1374.3 607.2L1379.8 601.7ZM1392.4 755.5L1397.9 761L1397.9 771L1392.4 776.5L1382.4 776.5L1376.9 771L1376.9 761L1382.4 755.5ZM1395 697.7L1400.5 703.2L1400.5 713.2L1395 718.7L1385 718.7L1379.5 713.2L1379.5 703.2L1385 697.7ZM1397.5 876.5L1403 882L1403 892L1397.5 897.5L1387.5 897.5L1382 892L1382 882L1387.5 876.5ZM1400.1 950.7L1405.6 956.2L1405.6 966.2L1400.1 971.7L1390.1 971.7L1384.6 966.2L1384.6 956.2L1390.1 950.7ZM1402.7 835.6L1408.2 841.1L1408.2 851.1L1402.7 856.6L1392.7 856.6L1387.2 851.1L1387.2 841.1L1392.7 835.6ZM1405.2 834.5L1410.8 840L1410.8 850L1405.2 855.5L1395.3 855.5L1389.8 850L1389.8 840L1395.3 834.5ZM1407.8 706.8L1413.3 712.3L1413.3 722.3L1407.8 727.8L1397.8 727.8L1392.3 722.3L1392.3 712.3L1397.8 706.8ZM1410.4 756.3L1415.9 761.8L1415.9 771.8L1410.4 777.3L1400.4 777.3L1394.9 771.8L1394.9 761.8L1400.4 756.3ZM1413 614.8L1418.5 620.3L1418.5 630.3L1413 635.8L1403 635.8L1397.5 630.3L1397.5 620.3L1403 614.8ZM1415.5 532.1L1421 537.6L1421 547.6L1415.5 553.1L1405.5 553.1L1400 547.6L1400 537.6L1405.5 532.1ZM1418.1 587.8L1423.6 593.3L1423.6 603.3L1418.1 608.8L1408.1 608.8L1402.6 603.3L1402.6 593.3L1408.1 587.8ZM1420.7 486.4L1426.2 491.9L1426.2 501.9L1420.7 507.4L1410.7 507.4L1405.2 501.9L1405.2 491.9L1410.7 486.4ZM1423.2 590.5L1428.7 596L1428.7 606L1423.2 611.5L1413.2 611.5L1407.7 606L1407.7 596L1413.2 590.5ZM1425.8 442.9L1431.3 448.4L1431.3 458.4L1425.8 463.9L1415.8 463.9L1410.3 458.4L1410.3 448.4L1415.8 442.9ZM1428.4 568.6L1433.9 574.2L1433.9 584.1L1428.4 589.6L1418.4 589.6L1412.9 584.1L1412.9 574.2L1418.4 568.6ZM1430.9 386.2L1436.4 391.7L1436.4 401.7L1430.9 407.2L1421 407.2L1415.4 401.7L1415.4 391.7L1421 386.2ZM1433.5 582.4L1439 587.9L1439 597.9L1433.5 603.4L1423.5 603.4L1418 597.9L1418 587.9L1423.5 582.4ZM1436.1 474.8L1441.6 480.3L1441.6 490.3L1436.1 495.8L1426.1 495.8L1420.6 490.3L1420.6 480.3L1426.1 474.8ZM1438.7 604.1L1444.2 609.6L1444.2 619.6L1438.7 625.1L1428.7 625.1L1423.2 619.6L1423.2 609.6L1428.7 604.1ZM1441.2 458.8L1446.7 464.3L1446.7 474.3L1441.2 479.8L1431.2 479.8L1425.7 474.3L1425.7 464.3L1431.2 458.8ZM1443.8 599.8L1449.3 605.3L1449.3 615.3L1443.8 620.8L1433.8 620.8L1428.3 615.3L1428.3 605.3L1433.8 599.8ZM1446.4 492.8L1451.9 498.3L1451.9 508.3L1446.4 513.8L1436.4 513.8L1430.9 508.3L1430.9 498.3L1436.4 492.8ZM1448.9 616.9L1454.4 622.4L1454.4 632.4L1448.9 637.9L1438.9 637.9L1433.4 632.4L1433.4 622.4L1438.9 616.9ZM1451.5 620.1L1457 625.6L1457 635.6L1451.5 641.1L1441.5 641.1L1436 635.6L1436 625.6L1441.5 620.1ZM1454.1 742.2L1459.6 747.7L1459.6 757.7L1454.1 763.2L1444.1 763.2L1438.6 757.7L1438.6 747.7L1444.1 742.2ZM1456.6 694.2L1462.1 699.7L1462.1 709.7L1456.6 715.2L1446.7 715.2L1441.1 709.7L1441.1 699.7L1446.7 694.2ZM1459.2 869.8L1464.7 875.3L1464.7 885.3L1459.2 890.8L1449.2 890.8L1443.7 885.3L1443.7 875.3L1449.2 869.8ZM1461.8 950.7L1467.3 956.2L1467.3 966.2L1461.8 971.7L1451.8 971.7L1446.3 966.2L1446.3 956.2L1451.8 950.7ZM1464.4 831.5L1469.9 837L1469.9 847L1464.4 852.5L1454.4 852.5L1448.9 847L1448.9 837L1454.4 831.5ZM1466.9 863.5L1472.4 869L1472.4 879L1466.9 884.5L1456.9 884.5L1451.4 879L1451.4 869L1456.9 863.5ZM1469.5 704.5L1475 710L1475 720L1469.5 725.5L1459.5 725.5L1454 720L1454 710L1459.5 704.5ZM1472.1 731.6L1477.6 737.1L1477.6 747.1L1472.1 752.6L1462.1 752.6L1456.6 747.1L1456.6 737.1L1462.1 731.6ZM1474.6 616.5L1480.1 622L1480.1 632L1474.6 637.5L1464.6 637.5L1459.1 632L1459.1 622L1464.6 616.5ZM1477.2 525.2L1482.7 530.7L1482.7 540.7L1477.2 546.2L1467.2 546.2L1461.7 540.7L1461.7 530.7L1467.2 525.2ZM1479.8 623.7L1485.3 629.2L1485.3 639.2L1479.8 644.7L1469.8 644.7L1464.3 639.2L1464.3 629.2L1469.8 623.7ZM1482.3 480.8L1487.8 486.3L1487.8 496.3L1482.3 501.8L1472.3 501.8L1466.8 496.3L1466.8 486.3L1472.3 480.8ZM1484.9 588.7L1490.4 594.2L1490.4 604.2L1484.9 609.7L1474.9 609.7L1469.4 604.2L1469.4 594.2L1474.9 588.7ZM1487.5 453L1493 458.5L1493 468.5L1487.5 474L1477.5 474L1472 468.5L1472 458.5L1477.5 453ZM1490.1 570.4L1495.6 575.9L1495.6 585.9L1490.1 591.4L1480.1 591.4L1474.6 585.9L1474.6 575.9L1480.1 570.4ZM1492.6 382L1498.1 387.5L1498.1 397.5L1492.6 403L1482.6 403L1477.1 397.5L1477.1 387.5L1482.6 382ZM1495.2 555.5L1500.7 561L1500.7 571L1495.2 576.5L1485.2 576.5L1479.7 571L1479.7 561L1485.2 555.5ZM1497.8 461.3L1503.3 466.8L1503.3 476.8L1497.8 482.3L1487.8 482.3L1482.3 476.8L1482.3 466.8L1487.8 461.3ZM1500.3 603.2L1505.8 608.7L1505.8 618.7L1500.3 624.2L1490.3 624.2L1484.8 618.7L1484.8 608.7L1490.3 603.2ZM1502.9 452.1L1508.4 457.6L1508.4 467.6L1502.9 473.1L1492.9 473.1L1487.4 467.6L1487.4 457.6L1492.9 452.1ZM1505.5 591.9L1511 597.4L1511 607.4L1505.5 612.9L1495.5 612.9L1490 607.4L1490 597.4L1495.5 591.9ZM1508 511.7L1513.5 517.2L1513.5 527.2L1508 532.7L1498 532.7L1492.5 527.2L1492.5 517.2L1498 511.7ZM1510.6 632.6L1516.1 638.1L1516.1 648.1L1510.6 653.6L1500.6 653.6L1495.1 648.1L1495.1 638.1L1500.6 632.6ZM1513.2 602.7L1518.7 608.2L1518.7 618.2L1513.2 623.7L1503.2 623.7L1497.7 618.2L1497.7 608.2L1503.2 602.7ZM1515.8 764.1L1521.3 769.6L1521.3 779.6L1515.8 785.1L1505.8 785.1L1500.3 779.6L1500.3 769.6L1505.8 764.1ZM1518.3 690.5L1523.8 696L1523.8 706L1518.3 711.5L1508.3 711.5L1502.8 706L1502.8 696L1508.3 690.5ZM1520.9 845L1526.4 850.5L1526.4 860.5L1520.9 866L1510.9 866L1505.4 860.5L1505.4 850.5L1510.9 845ZM1523.5 975.7L1529 981.2L1529 991.2L1523.5 996.7L1513.5 996.7L1508 991.2L1508 981.2L1513.5 975.7ZM1526 837.8L1531.5 843.3L1531.5 853.3L1526 858.8L1516 858.8L1510.5 853.3L1510.5 843.3L1516 837.8ZM1528.6 839.3L1534.1 844.8L1534.1 854.8L1528.6 860.3L1518.6 860.3L1513.1 854.8L1513.1 844.8L1518.6 839.3ZM1531.2 704.9L1536.7 710.4L1536.7 720.4L1531.2 725.9L1521.2 725.9L1515.7 720.4L1515.7 710.4L1521.2 704.9ZM1533.7 738.3L1539.2 743.8L1539.2 753.8L1533.7 759.3L1523.7 759.3L1518.2 753.8L1518.2 743.8L1523.7 738.3ZM1536.3 585.6L1541.8 591.1L1541.8 601.1L1536.3 606.6L1526.3 606.6L1520.8 601.1L1520.8 591.1L1526.3 585.6ZM1538.9 533.5L1544.4 539L1544.4 549L1538.9 554.5L1528.9 554.5L1523.4 549L1523.4 539L1528.9 533.5ZM1541.5 616.5L1547 622L1547 632L1541.5 637.5L1531.5 637.5L1526 632L1526 622L1531.5 616.5ZM1544 485L1549.5 490.5L1549.5 500.5L1544 506L1534 506L1528.5 500.5L1528.5 490.5L1534 485ZM1546.6 578.4L1552.1 583.9L1552.1 593.9L1546.6 599.4L1536.6 599.4L1531.1 593.9L1531.1 583.9L1536.6 578.4ZM1549.2 457.3L1554.7 462.8L1554.7 472.8L1549.2 478.3L1539.2 478.3L1533.7 472.8L1533.7 462.8L1539.2 457.3ZM1551.7 570.8L1557.2 576.3L1557.2 586.3L1551.7 591.8L1541.7 591.8L1536.2 586.3L1536.2 576.3L1541.7 570.8ZM1554.3 388.7L1559.8 394.2L1559.8 404.2L1554.3 409.7L1544.3 409.7L1538.8 404.2L1538.8 394.2L1544.3 388.7ZM1556.9 556.1L1562.4 561.6L1562.4 571.6L1556.9 577.1L1546.9 577.1L1541.4 571.6L1541.4 561.6L1546.9 556.1ZM1559.4 469.8L1564.9 475.3L1564.9 485.3L1559.4 490.8L1549.4 490.8L1543.9 485.3L1543.9 475.3L1549.4 469.8ZM1562 582L1567.5 587.5L1567.5 597.5L1562 603L1552 603L1546.5 597.5L1546.5 587.5L1552 582ZM1564.6 464.6L1570.1 470.1L1570.1 480.1L1564.6 485.6L1554.6 485.6L1549.1 480.1L1549.1 470.1L1554.6 464.6ZM1567.2 583.2L1572.7 588.7L1572.7 598.7L1567.2 604.2L1557.2 604.2L1551.7 598.7L1551.7 588.7L1557.2 583.2ZM1569.7 512.4L1575.2 517.9L1575.2 527.9L1569.7 533.4L1559.7 533.4L1554.2 527.9L1554.2 517.9L1559.7 512.4ZM1572.3 633.5L1577.8 639L1577.8 649L1572.3 654.5L1562.3 654.5L1556.8 649L1556.8 639L1562.3 633.5ZM1574.9 604.9L1580.4 610.4L1580.4 620.4L1574.9 625.9L1564.9 625.9L1559.4 620.4L1559.4 610.4L1564.9 604.9ZM1577.4 769L1582.9 774.5L1582.9 784.5L1577.4 790L1567.4 790L1561.9 784.5L1561.9 774.5L1567.4 769ZM1580 725.6L1585.5 731.1L1585.5 741.1L1580 746.6L1570 746.6L1564.5 741.1L1564.5 731.1L1570 725.6ZM1582.6 864.2L1588.1 869.7L1588.1 879.7L1582.6 885.2L1572.6 885.2L1567.1 879.7L1567.1 869.7L1572.6 864.2ZM1585.1 942.4L1590.6 947.9L1590.6 957.9L1585.1 963.4L1575.1 963.4L1569.6 957.9L1569.6 947.9L1575.1 942.4ZM1587.7 844.5L1593.2 850L1593.2 860L1587.7 865.5L1577.7 865.5L1572.2 860L1572.2 850L1577.7 844.5ZM1590.3 859.5L1595.8 865L1595.8 875L1590.3 880.5L1580.3 880.5L1574.8 875L1574.8 865L1580.3 859.5ZM1592.9 732.3L1598.4 737.8L1598.4 747.8L1592.9 753.3L1582.9 753.3L1577.4 747.8L1577.4 737.8L1582.9 732.3ZM1595.4 745.5L1600.9 751L1600.9 761L1595.4 766.5L1585.4 766.5L1579.9 761L1579.9 751L1585.4 745.5ZM1598 591.8L1603.5 597.3L1603.5 607.3L1598 612.8L1588 612.8L1582.5 607.3L1582.5 597.3L1588 591.8ZM1600.6 513.6L1606.1 519.1L1606.1 529.1L1600.6 534.6L1590.6 534.6L1585.1 529.1L1585.1 519.1L1590.6 513.6ZM1603.1 591.7L1608.6 597.2L1608.6 607.2L1603.1 612.7L1593.1 612.7L1587.6 607.2L1587.6 597.2L1593.1 591.7ZM1605.7 485.8L1611.2 491.3L1611.2 501.3L1605.7 506.8L1595.7 506.8L1590.2 501.3L1590.2 491.3L1595.7 485.8ZM1608.3 597.8L1613.8 603.3L1613.8 613.3L1608.3 618.8L1598.3 618.8L1592.8 613.3L1592.8 603.3L1598.3 597.8ZM1610.8 441.5L1616.3 447L1616.3 457L1610.8 462.5L1600.8 462.5L1595.3 457L1595.3 447L1600.8 441.5ZM1613.4 556L1618.9 561.5L1618.9 571.5L1613.4 577L1603.4 577L1597.9 571.5L1597.9 561.5L1603.4 556ZM1616 377.5L1621.5 383L1621.5 393L1616 398.5L1606 398.5L1600.5 393L1600.5 383L1606 377.5ZM1618.6 582.6L1624.1 588.1L1624.1 598.1L1618.6 603.6L1608.6 603.6L1603.1 598.1L1603.1 588.1L1608.6 582.6ZM1621.1 474.7L1626.6 480.2L1626.6 490.2L1621.1 495.7L1611.1 495.7L1605.6 490.2L1605.6 480.2L1611.1 474.7ZM1623.7 564.1L1629.2 569.6L1629.2 579.6L1623.7 585.1L1613.7 585.1L1608.2 579.6L1608.2 569.6L1613.7 564.1ZM1626.3 462.7L1631.8 468.2L1631.8 478.2L1626.3 483.7L1616.3 483.7L1610.8 478.2L1610.8 468.2L1616.3 462.7ZM1628.8 582.9L1634.3 588.4L1634.3 598.4L1628.8 603.9L1618.8 603.9L1613.3 598.4L1613.3 588.4L1618.8 582.9ZM1631.4 502.1L1636.9 507.6L1636.9 517.6L1631.4 523.1L1621.4 523.1L1615.9 517.6L1615.9 507.6L1621.4 502.1ZM1634 634.2L1639.5 639.7L1639.5 649.7L1634 655.2L1624 655.2L1618.5 649.7L1618.5 639.7L1624 634.2ZM1636.5 591.4L1642 596.9L1642 606.8L1636.5 612.4L1626.5 612.4L1621 606.8L1621 596.9L1626.5 591.4ZM1639.1 746.2L1644.6 751.7L1644.6 761.7L1639.1 767.2L1629.1 767.2L1623.6 761.7L1623.6 751.7L1629.1 746.2ZM1641.7 714.1L1647.2 719.6L1647.2 729.6L1641.7 735.1L1631.7 735.1L1626.2 729.6L1626.2 719.6L1631.7 714.1ZM1644.2 850.9L1649.8 856.4L1649.8 866.4L1644.2 871.9L1634.3 871.9L1628.8 866.4L1628.8 856.4L1634.3 850.9ZM1646.8 954.9L1652.3 960.4L1652.3 970.4L1646.8 975.9L1636.8 975.9L1631.3 970.4L1631.3 960.4L1636.8 954.9ZM1649.4 844.6L1654.9 850.1L1654.9 860.1L1649.4 865.6L1639.4 865.6L1633.9 860.1L1633.9 850.1L1639.4 844.6ZM1652 862.4L1657.5 867.9L1657.5 877.9L1652 883.4L1642 883.4L1636.5 877.9L1636.5 867.9L1642 862.4ZM1654.5 719.2L1660 724.7L1660 734.7L1654.5 740.2L1644.5 740.2L1639 734.7L1639 724.7L1644.5 719.2ZM1657.1 748L1662.6 753.5L1662.6 763.5L1657.1 769L1647.1 769L1641.6 763.5L1641.6 753.5L1647.1 748ZM1659.7 611L1665.2 616.5L1665.2 626.5L1659.7 632L1649.7 632L1644.2 626.5L1644.2 616.5L1649.7 611ZM1662.2 540.4L1667.7 545.9L1667.7 555.9L1662.2 561.4L1652.2 561.4L1646.7 555.9L1646.7 545.9L1652.2 540.4ZM1664.8 613.4L1670.3 618.9L1670.3 628.9L1664.8 634.4L1654.8 634.4L1649.3 628.9L1649.3 618.9L1654.8 613.4ZM1667.4 481.3L1672.9 486.8L1672.9 496.8L1667.4 502.3L1657.4 502.3L1651.9 496.8L1651.9 486.8L1657.4 481.3ZM1669.9 569.4L1675.5 574.9L1675.5 584.9L1669.9 590.4L1660 590.4L1654.5 584.9L1654.5 574.9L1660 569.4ZM1672.5 447.1L1678 452.6L1678 462.6L1672.5 468.1L1662.5 468.1L1657 462.6L1657 452.6L1662.5 447.1ZM1675.1 561.7L1680.6 567.2L1680.6 577.2L1675.1 582.7L1665.1 582.7L1659.6 577.2L1659.6 567.2L1665.1 561.7ZM1677.7 393.3L1683.2 398.8L1683.2 408.8L1677.7 414.3L1667.7 414.3L1662.2 408.8L1662.2 398.8L1667.7 393.3ZM1680.2 564.1L1685.7 569.6L1685.7 579.6L1680.2 585.1L1670.2 585.1L1664.7 579.6L1664.7 569.6L1670.2 564.1ZM1682.8 471.3L1688.3 476.8L1688.3 486.8L1682.8 492.3L1672.8 492.3L1667.3 486.8L1667.3 476.8L1672.8 471.3ZM1685.4 619.2L1690.9 624.7L1690.9 634.7L1685.4 640.2L1675.4 640.2L1669.9 634.7L1669.9 624.7L1675.4 619.2ZM1687.9 528.1L1693.4 533.6L1693.4 543.6L1687.9 549.1L1677.9 549.1L1672.4 543.6L1672.4 533.6L1677.9 528.1ZM1690.5 675.8L1696 681.3L1696 691.2L1690.5 696.8L1680.5 696.8L1675 691.2L1675 681.3L1680.5 675.8ZM1693.1 605L1698.6 610.5L1698.6 620.5L1693.1 626L1683.1 626L1677.6 620.5L1677.6 610.5L1683.1 605ZM1695.6 700.7L1701.1 706.2L1701.1 716.2L1695.6 721.7L1685.7 721.7L1680.1 716.2L1680.1 706.2L1685.7 700.7ZM1698.2 1000.2L1703.7 1005.7L1703.7 1015.7L1698.2 1021.2L1688.2 1021.2L1682.7 1015.7L1682.7 1005.7L1688.2 1000.2ZM1700.8 759.7L1706.3 765.2L1706.3 775.2L1700.8 780.7L1690.8 780.7L1685.3 775.2L1685.3 765.2L1690.8 759.7ZM1703.4 1001.1L1708.9 1006.6L1708.9 1016.6L1703.4 1022.1L1693.4 1022.1L1687.9 1016.6L1687.9 1006.6L1693.4 1001.1ZM1705.9 802.3L1711.4 807.8L1711.4 817.8L1705.9 823.3L1695.9 823.3L1690.4 817.8L1690.4 807.8L1695.9 802.3ZM1708.5 981.9L1714 987.4L1714 997.4L1708.5 1002.9L1698.5 1002.9L1693 997.4L1693 987.4L1698.5 981.9ZM1711.1 825.7L1716.6 831.2L1716.6 841.2L1711.1 846.7L1701.1 846.7L1695.6 841.2L1695.6 831.2L1701.1 825.7ZM1713.6 962.8L1719.1 968.3L1719.1 978.3L1713.6 983.8L1703.6 983.8L1698.1 978.3L1698.1 968.3L1703.6 962.8ZM1716.2 789.5L1721.7 795L1721.7 805L1716.2 810.5L1706.2 810.5L1700.7 805L1700.7 795L1706.2 789.5ZM1718.8 1040.2L1724.3 1045.7L1724.3 1055.7L1718.8 1061.2L1708.8 1061.2L1703.3 1055.7L1703.3 1045.7L1708.8 1040.2ZM1721.3 819.1L1726.8 824.6L1726.8 834.6L1721.3 840.1L1711.4 840.1L1705.8 834.6L1705.8 824.6L1711.4 819.1ZM1723.9 1009.9L1729.4 1015.4L1729.4 1025.4L1723.9 1030.9L1713.9 1030.9L1708.4 1025.4L1708.4 1015.4L1713.9 1009.9ZM1726.5 716.9L1732 722.4L1732 732.4L1726.5 737.9L1716.5 737.9L1711 732.4L1711 722.4L1716.5 716.9ZM1729.1 657.8L1734.6 663.3L1734.6 673.3L1729.1 678.8L1719.1 678.8L1713.6 673.3L1713.6 663.3L1719.1 657.8ZM1731.6 686.7L1737.1 692.2L1737.1 702.2L1731.6 707.7L1721.6 707.7L1716.1 702.2L1716.1 692.2L1721.6 686.7ZM1734.2 577.3L1739.7 582.8L1739.7 592.8L1734.2 598.3L1724.2 598.3L1718.7 592.8L1718.7 582.8L1724.2 577.3ZM1736.8 632.5L1742.3 638L1742.3 648L1736.8 653.5L1726.8 653.5L1721.3 648L1721.3 638L1726.8 632.5ZM1739.3 401.6L1744.8 407.1L1744.8 417.1L1739.3 422.6L1729.3 422.6L1723.8 417.1L1723.8 407.1L1729.3 401.6ZM1741.9 583.1L1747.4 588.6L1747.4 598.6L1741.9 604.1L1731.9 604.1L1726.4 598.6L1726.4 588.6L1731.9 583.1ZM1744.5 464.8L1750 470.3L1750 480.3L1744.5 485.8L1734.5 485.8L1729 480.3L1729 470.3L1734.5 464.8ZM1747 621.7L1752.5 627.2L1752.5 637.2L1747 642.7L1737 642.7L1731.5 637.2L1731.5 627.2L1737 621.7ZM1749.6 503L1755.1 508.5L1755.1 518.5L1749.6 524L1739.6 524L1734.1 518.5L1734.1 508.5L1739.6 503ZM1752.2 671.7L1757.7 677.2L1757.7 687.2L1752.2 692.7L1742.2 692.7L1736.7 687.2L1736.7 677.2L1742.2 671.7ZM1754.8 598L1760.3 603.5L1760.3 613.5L1754.8 619L1744.8 619L1739.3 613.5L1739.3 603.5L1744.8 598ZM1757.3 698.1L1762.8 703.6L1762.8 713.6L1757.3 719.1L1747.3 719.1L1741.8 713.6L1741.8 703.6L1747.3 698.1ZM1759.9 961.2L1765.4 966.7L1765.4 976.7L1759.9 982.2L1749.9 982.2L1744.4 976.7L1744.4 966.7L1749.9 961.2ZM1762.5 777.8L1768 783.3L1768 793.3L1762.5 798.8L1752.5 798.8L1747 793.3L1747 783.3L1752.5 777.8ZM1765 998.6L1770.5 1004.1L1770.5 1014.1L1765 1019.6L1755 1019.6L1749.5 1014.1L1749.5 1004.1L1755 998.6ZM1767.6 807.5L1773.1 813L1773.1 823L1767.6 828.5L1757.6 828.5L1752.1 823L1752.1 813L1757.6 807.5ZM1770.2 984.5L1775.7 990L1775.7 1000L1770.2 1005.5L1760.2 1005.5L1754.7 1000L1754.7 990L1760.2 984.5ZM1772.7 834.1L1778.2 839.6L1778.2 849.6L1772.7 855.1L1762.7 855.1L1757.2 849.6L1757.2 839.6L1762.7 834.1ZM1775.3 965.8L1780.8 971.3L1780.8 981.3L1775.3 986.8L1765.3 986.8L1759.8 981.3L1759.8 971.3L1765.3 965.8ZM1777.9 794.6L1783.4 800.1L1783.4 810.1L1777.9 815.6L1767.9 815.6L1762.4 810.1L1762.4 800.1L1767.9 794.6ZM1780.5 1021.5L1786 1027L1786 1037L1780.5 1042.5L1770.5 1042.5L1765 1037L1765 1027L1770.5 1021.5ZM1783 810.4L1788.5 815.9L1788.5 825.9L1783 831.4L1773 831.4L1767.5 825.9L1767.5 815.9L1773 810.4ZM1785.6 995.4L1791.1 1000.9L1791.1 1010.9L1785.6 1016.4L1775.6 1016.4L1770.1 1010.9L1770.1 1000.9L1775.6 995.4ZM1788.2 705.6L1793.7 711.1L1793.7 721.1L1788.2 726.6L1778.2 726.6L1772.7 721.1L1772.7 711.1L1778.2 705.6ZM1790.7 682.3L1796.2 687.8L1796.2 697.8L1790.7 703.3L1780.7 703.3L1775.2 697.8L1775.2 687.8L1780.7 682.3ZM1793.3 678.7L1798.8 684.2L1798.8 694.2L1793.3 699.7L1783.3 699.7L1777.8 694.2L1777.8 684.2L1783.3 678.7ZM1795.9 554L1801.4 559.5L1801.4 569.5L1795.9 575L1785.9 575L1780.4 569.5L1780.4 559.5L1785.9 554ZM1798.4 611L1803.9 616.5L1803.9 626.5L1798.4 632L1788.4 632L1782.9 626.5L1782.9 616.5L1788.4 611ZM1801 380L1806.5 385.5L1806.5 395.5L1801 401L1791 401L1785.5 395.5L1785.5 385.5L1791 380ZM1803.6 578.4L1809.1 583.9L1809.1 593.9L1803.6 599.4L1793.6 599.4L1788.1 593.9L1788.1 583.9L1793.6 578.4ZM1806.2 468.2L1811.7 473.8L1811.7 483.7L1806.2 489.2L1796.2 489.2L1790.7 483.7L1790.7 473.8L1796.2 468.2ZM1808.7 623.5L1814.2 629L1814.2 639L1808.7 644.5L1798.7 644.5L1793.2 639L1793.2 629L1798.7 623.5ZM1811.3 532.6L1816.8 538.1L1816.8 548.1L1811.3 553.6L1801.3 553.6L1795.8 548.1L1795.8 538.1L1801.3 532.6ZM1813.9 669.8L1819.4 675.3L1819.4 685.3L1813.9 690.8L1803.9 690.8L1798.4 685.3L1798.4 675.3L1803.9 669.8ZM1816.4 569.4L1821.9 574.9L1821.9 584.9L1816.4 590.4L1806.4 590.4L1800.9 584.9L1800.9 574.9L1806.4 569.4ZM1819 701.3L1824.5 706.8L1824.5 716.8L1819 722.3L1809 722.3L1803.5 716.8L1803.5 706.8L1809 701.3ZM1821.6 973.9L1827.1 979.4L1827.1 989.4L1821.6 994.9L1811.6 994.9L1806.1 989.4L1806.1 979.4L1811.6 973.9ZM1824.1 759.9L1829.6 765.4L1829.6 775.4L1824.1 780.9L1814.1 780.9L1808.6 775.4L1808.6 765.4L1814.1 759.9ZM1826.7 1031L1832.2 1036.5L1832.2 1046.5L1826.7 1052L1816.7 1052L1811.2 1046.5L1811.2 1036.5L1816.7 1031ZM1829.3 802.2L1834.8 807.7L1834.8 817.7L1829.3 823.2L1819.3 823.2L1813.8 817.7L1813.8 807.7L1819.3 802.2ZM1831.9 988.3L1837.4 993.8L1837.4 1003.8L1831.9 1009.3L1821.9 1009.3L1816.4 1003.8L1816.4 993.8L1821.9 988.3ZM1834.4 850.9L1839.9 856.4L1839.9 866.4L1834.4 871.9L1824.4 871.9L1818.9 866.4L1818.9 856.4L1824.4 850.9ZM1837 964.7L1842.5 970.2L1842.5 980.2L1837 985.7L1827 985.7L1821.5 980.2L1821.5 970.2L1827 964.7ZM1839.6 808.6L1845.1 814.1L1845.1 824.1L1839.6 829.6L1829.6 829.6L1824.1 824.1L1824.1 814.1L1829.6 808.6ZM1842.1 1043.5L1847.6 1049L1847.6 1059L1842.1 1064.5L1832.1 1064.5L1826.6 1059L1826.6 1049L1832.1 1043.5ZM1844.7 831.3L1850.2 836.8L1850.2 846.8L1844.7 852.3L1834.7 852.3L1829.2 846.8L1829.2 836.8L1834.7 831.3ZM1847.3 995.3L1852.8 1000.8L1852.8 1010.8L1847.3 1016.3L1837.3 1016.3L1831.8 1010.8L1831.8 1000.8L1837.3 995.3ZM1849.8 700L1855.3 705.5L1855.3 715.5L1849.8 721L1839.8 721L1834.3 715.5L1834.3 705.5L1839.8 700ZM1852.4 670.7L1857.9 676.2L1857.9 686.2L1852.4 691.7L1842.4 691.7L1836.9 686.2L1836.9 676.2L1842.4 670.7ZM1855 696.3L1860.5 701.8L1860.5 711.8L1855 717.3L1845 717.3L1839.5 711.8L1839.5 701.8L1845 696.3ZM1857.6 573.1L1863.1 578.6L1863.1 588.6L1857.6 594.1L1847.6 594.1L1842.1 588.6L1842.1 578.6L1847.6 573.1ZM1860.1 639.5L1865.6 645L1865.6 655L1860.1 660.5L1850.1 660.5L1844.6 655L1844.6 645L1850.1 639.5ZM1862.7 386.2L1868.2 391.7L1868.2 401.7L1862.7 407.2L1852.7 407.2L1847.2 401.7L1847.2 391.7L1852.7 386.2ZM1865.3 566.3L1870.8 571.8L1870.8 581.8L1865.3 587.3L1855.3 587.3L1849.8 581.8L1849.8 571.8L1855.3 566.3ZM1867.8 493.3L1873.3 498.8L1873.3 508.8L1867.8 514.3L1857.8 514.3L1852.3 508.8L1852.3 498.8L1857.8 493.3ZM1870.4 595.6L1875.9 601.1L1875.9 611.1L1870.4 616.6L1860.4 616.6L1854.9 611.1L1854.9 601.1L1860.4 595.6ZM1873 526.1L1878.5 531.6L1878.5 541.6L1873 547.1L1863 547.1L1857.5 541.6L1857.5 531.6L1863 526.1ZM1875.5 662.4L1881 667.9L1881 677.9L1875.5 683.4L1865.5 683.4L1860 677.9L1860 667.9L1865.5 662.4ZM1878.1 571.3L1883.6 576.8L1883.6 586.8L1878.1 592.3L1868.1 592.3L1862.6 586.8L1862.6 576.8L1868.1 571.3ZM1880.7 692.4L1886.2 697.9L1886.2 707.9L1880.7 713.4L1870.7 713.4L1865.2 707.9L1865.2 697.9L1870.7 692.4ZM1883.2 979.6L1888.8 985.1L1888.8 995.1L1883.2 1000.6L1873.3 1000.6L1867.8 995.1L1867.8 985.1L1873.3 979.6ZM1885.8 763.4L1891.3 768.9L1891.3 778.9L1885.8 784.4L1875.8 784.4L1870.3 778.9L1870.3 768.9L1875.8 763.4ZM1888.4 998.6L1893.9 1004.1L1893.9 1014.1L1888.4 1019.6L1878.4 1019.6L1872.9 1014.1L1872.9 1004.1L1878.4 998.6ZM1891 822.3L1896.5 827.8L1896.5 837.8L1891 843.3L1881 843.3L1875.5 837.8L1875.5 827.8L1881 822.3ZM1893.5 1002.5L1899 1008L1899 1018L1893.5 1023.5L1883.5 1023.5L1878 1018L1878 1008L1883.5 1002.5ZM1896.1 824.1L1901.6 829.6L1901.6 839.6L1896.1 845.1L1886.1 845.1L1880.6 839.6L1880.6 829.6L1886.1 824.1ZM1898.7 998L1904.2 1003.5L1904.2 1013.5L1898.7 1019L1888.7 1019L1883.2 1013.5L1883.2 1003.5L1888.7 998ZM1901.2 801.8L1906.7 807.3L1906.7 817.3L1901.2 822.8L1891.2 822.8L1885.7 817.3L1885.7 807.3L1891.2 801.8ZM1903.8 1050.6L1909.3 1056.1L1909.3 1066.1L1903.8 1071.6L1893.8 1071.6L1888.3 1066.1L1888.3 1056.1L1893.8 1050.6ZM1906.4 824.1L1911.9 829.6L1911.9 839.6L1906.4 845.1L1896.4 845.1L1890.9 839.6L1890.9 829.6L1896.4 824.1ZM1908.9 984.2L1914.5 989.7L1914.5 999.7L1908.9 1005.2L1899 1005.2L1893.5 999.7L1893.5 989.7L1899 984.2ZM1911.5 712.8L1917 718.3L1917 728.2L1911.5 733.8L1901.5 733.8L1896 728.2L1896 718.3L1901.5 712.8ZM1914.1 653.3L1919.6 658.8L1919.6 668.8L1914.1 674.3L1904.1 674.3L1898.6 668.8L1898.6 658.8L1904.1 653.3ZM1916.7 705.3L1922.2 710.8L1922.2 720.8L1916.7 726.3L1906.7 726.3L1901.2 720.8L1901.2 710.8L1906.7 705.3ZM1919.2 543L1924.7 548.5L1924.7 558.5L1919.2 564L1909.2 564L1903.7 558.5L1903.7 548.5L1909.2 543ZM1921.8 735.7L1927.3 741.2L1927.3 751.2L1921.8 756.7L1911.8 756.7L1906.3 751.2L1906.3 741.2L1911.8 735.7Z" fill="#FF0000"/>
<g font-family="Liberation Sans, Arial, sans-serif" font-size="53" fill="#262626" stroke="#262626" stroke-width="1.1">
<text x="446.8" y="1481" text-anchor="middle">100</text>
<text x="703.8" y="1481" text-anchor="middle">200</text>
<text x="960.8" y="1481" text-anchor="middle">300</text>
<text x="1217.8" y="1481" text-anchor="middle">400</text>
<text x="1474.8" y="1481" text-anchor="middle">500</text>
<text x="1731.8" y="1481" text-anchor="middle">600</text>
<text x="171" y="1260.5" text-anchor="end">0.5</text>
<text x="171" y="1052.5" text-anchor="end">1</text>
<text x="171" y="844.5" text-anchor="end">1.5</text>
<text x="171" y="636.4" text-anchor="end">2</text>
<text x="171" y="428.4" text-anchor="end">2.5</text>
<text x="171" y="220.4" text-anchor="end">3</text>
</g>
<text x="1059.3" y="1555" text-anchor="middle" font-family="Liberation Serif, Times New Roman, serif" font-size="66.3" fill="#262626" stroke="#262626" stroke-width="1.1">Time (h)</text>
<text transform="translate(70 714.5) rotate(-90)" x="0" y="0" text-anchor="middle" font-family="Liberation Serif, Times New Roman, serif" font-size="66.6" fill="#262626" stroke="#262626" stroke-width="1.1">Load (MW)</text>
<rect x="1283" y="49.5" width="594.5" height="184.5" fill="#fff" stroke="#262626" stroke-width="2.8"/>
<path d="M1296 83.9H1429" stroke="#4DBEEE" stroke-width="10" stroke-dasharray="28 25" fill="none"/>
<path d="M1368 73.4L1373.5 78.9L1373.5 88.9L1368 94.4L1358 94.4L1352.5 88.9L1352.5 78.9L1358 73.4Z" fill="#4DBEEE"/>
<path d="M1296 141.9H1429" stroke="#D9B3FF" stroke-width="10" stroke-dasharray="28 25" fill="none"/>
<circle cx="1363" cy="141.9" r="14" fill="#D9B3FF"/>
<path d="M1296 199.5H1429" stroke="#FF0000" stroke-width="9" fill="none"/>
<path d="M1368 189L1373.5 194.5L1373.5 204.5L1368 210L1358 210L1352.5 204.5L1352.5 194.5L1358 189Z" fill="#FF0000"/>
<g font-family="Liberation Serif, Times New Roman, serif" font-size="47.5" fill="#000" stroke="#000" stroke-width="1.1">
<text x="1438.6" y="102.8">Initial load</text>
<text x="1438.6" y="161.5">Consider DR</text>
<text x="1438.6" y="218.8">Consider DR and ESS</text>
</g>
</svg>
</body></html>
